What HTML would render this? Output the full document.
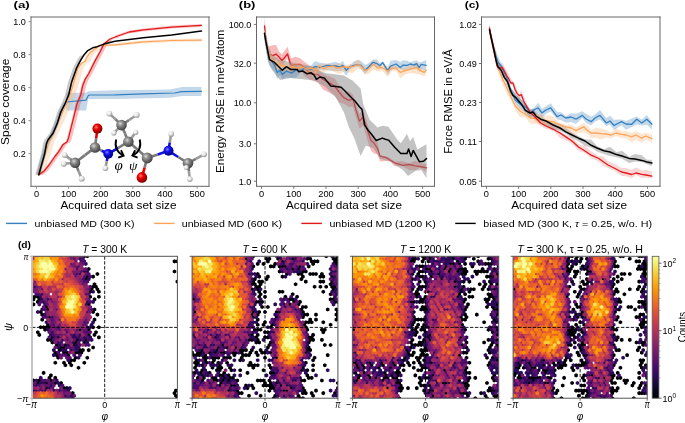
<!DOCTYPE html>
<html><head><meta charset="utf-8"><style>html,body{margin:0;padding:0;background:#fff;overflow:hidden}svg{display:block;will-change:transform}</style></head><body>
<svg width="685" height="423" viewBox="0 0 685 423" font-family='"Liberation Sans", sans-serif'>
<defs>
<radialGradient id="gC" cx="0.38" cy="0.35" r="0.7"><stop offset="0" stop-color="#d8d8d8"/><stop offset="0.35" stop-color="#8a8a8a"/><stop offset="1" stop-color="#3a3a3a"/></radialGradient>
<radialGradient id="gH" cx="0.38" cy="0.35" r="0.7"><stop offset="0" stop-color="#ffffff"/><stop offset="0.45" stop-color="#e6e6e6"/><stop offset="1" stop-color="#8c8c8c"/></radialGradient>
<radialGradient id="gO" cx="0.38" cy="0.35" r="0.7"><stop offset="0" stop-color="#ff8080"/><stop offset="0.35" stop-color="#ee0000"/><stop offset="1" stop-color="#700000"/></radialGradient>
<radialGradient id="gN" cx="0.38" cy="0.35" r="0.7"><stop offset="0" stop-color="#8080ff"/><stop offset="0.35" stop-color="#1010f0"/><stop offset="1" stop-color="#000070"/></radialGradient>
</defs>
<rect width="685" height="423" fill="#fff"/>
<line x1="31.0" y1="16.5" x2="31.0" y2="186.8" stroke="#6a6a6a" stroke-width="1"/>
<line x1="30.5" y1="17.0" x2="209.5" y2="17.0" stroke="#6a6a6a" stroke-width="1"/>
<line x1="209.0" y1="16.5" x2="209.0" y2="186.8" stroke="#6a6a6a" stroke-width="1"/>
<line x1="30.5" y1="186.3" x2="209.5" y2="186.3" stroke="#666" stroke-width="1"/>
<line x1="28.40" y1="153.65" x2="31.00" y2="153.65" stroke="#888" stroke-width="0.9"/>
<text x="25.90" y="156.95" font-size="8.5" text-anchor="end" textLength="12.60" lengthAdjust="spacingAndGlyphs" >0.2</text>
<line x1="28.40" y1="120.65" x2="31.00" y2="120.65" stroke="#888" stroke-width="0.9"/>
<text x="25.90" y="123.95" font-size="8.5" text-anchor="end" textLength="12.60" lengthAdjust="spacingAndGlyphs" >0.4</text>
<line x1="28.40" y1="87.65" x2="31.00" y2="87.65" stroke="#888" stroke-width="0.9"/>
<text x="25.90" y="90.95" font-size="8.5" text-anchor="end" textLength="12.60" lengthAdjust="spacingAndGlyphs" >0.6</text>
<line x1="28.40" y1="54.65" x2="31.00" y2="54.65" stroke="#888" stroke-width="0.9"/>
<text x="25.90" y="57.95" font-size="8.5" text-anchor="end" textLength="12.60" lengthAdjust="spacingAndGlyphs" >0.8</text>
<line x1="28.40" y1="21.65" x2="31.00" y2="21.65" stroke="#888" stroke-width="0.9"/>
<text x="25.90" y="24.95" font-size="8.5" text-anchor="end" textLength="12.60" lengthAdjust="spacingAndGlyphs" >1.0</text>
<line x1="36.50" y1="186.30" x2="36.50" y2="188.90" stroke="#888" stroke-width="0.9"/>
<text x="36.50" y="197.20" font-size="8.5" text-anchor="middle" textLength="5.15" lengthAdjust="spacingAndGlyphs" >0</text>
<line x1="68.63" y1="186.30" x2="68.63" y2="188.90" stroke="#888" stroke-width="0.9"/>
<text x="68.63" y="197.20" font-size="8.5" text-anchor="middle" textLength="15.45" lengthAdjust="spacingAndGlyphs" >100</text>
<line x1="100.76" y1="186.30" x2="100.76" y2="188.90" stroke="#888" stroke-width="0.9"/>
<text x="100.76" y="197.20" font-size="8.5" text-anchor="middle" textLength="15.45" lengthAdjust="spacingAndGlyphs" >200</text>
<line x1="132.89" y1="186.30" x2="132.89" y2="188.90" stroke="#888" stroke-width="0.9"/>
<text x="132.89" y="197.20" font-size="8.5" text-anchor="middle" textLength="15.45" lengthAdjust="spacingAndGlyphs" >300</text>
<line x1="165.02" y1="186.30" x2="165.02" y2="188.90" stroke="#888" stroke-width="0.9"/>
<text x="165.02" y="197.20" font-size="8.5" text-anchor="middle" textLength="15.45" lengthAdjust="spacingAndGlyphs" >400</text>
<line x1="197.15" y1="186.30" x2="197.15" y2="188.90" stroke="#888" stroke-width="0.9"/>
<text x="197.15" y="197.20" font-size="8.5" text-anchor="middle" textLength="15.45" lengthAdjust="spacingAndGlyphs" >500</text>
<text x="8.90" y="144.90" font-size="10.8" textLength="86.30" lengthAdjust="spacingAndGlyphs" transform="rotate(-90 8.90 144.90)" >Space coverage</text>
<text x="60.50" y="209.10" font-size="10.8" textLength="116.00" lengthAdjust="spacingAndGlyphs" >Acquired data set size</text>
<text x="13.60" y="7.80" font-size="9.6" textLength="16.20" lengthAdjust="spacingAndGlyphs" font-weight="bold" >(a)</text>
<polygon points="36.3,174.8 41.5,155.0 45.5,143.0 50.5,134.0 55.5,121.0 59.5,110.0 63.7,102.0 68.2,102.0 64.0,110.0 60.0,121.0 55.0,134.0 50.0,143.0 46.0,155.0 40.8,174.8" fill="#377eb8" fill-opacity="0.3"/>
<polygon points="66.2,92.7 86.1,92.7 88.2,91.3 115.0,90.3 170.0,89.5 182.0,87.0 201.5,87.0 201.5,96.0 182.0,96.0 170.0,97.7 115.0,99.1 88.2,99.1 86.1,110.5 66.2,110.5" fill="#377eb8" fill-opacity="0.3"/>
<polygon points="37.3,174.8 40.5,163.0 44.5,151.7 46.6,143.2 50.1,136.1 57.2,120.5 65.0,103.5 68.5,95.0 71.5,85.0 76.3,68.4 79.9,63.4 83.5,61.3 85.5,57.0 88.4,52.8 94.1,48.5 101.1,48.5 95.4,52.8 92.5,57.0 90.5,61.3 86.9,63.4 83.3,68.4 78.5,85.0 75.5,95.0 72.0,103.5 64.2,120.5 57.1,136.1 53.6,143.2 51.5,151.7 47.5,163.0 44.3,174.8" fill="#fdae6b" fill-opacity="0.3"/>
<polygon points="95.6,47.0 100.0,44.0 115.0,43.3 143.4,40.4 171.7,39.0 201.5,38.6 201.5,41.6 171.7,42.0 143.4,43.4 115.0,46.3 100.0,47.0 95.6,50.0" fill="#fdae6b" fill-opacity="0.3"/>
<polygon points="35.3,174.8 38.0,165.0 41.0,154.6 43.1,143.2 44.6,139.7 49.5,133.3 53.8,123.4 57.3,112.0 61.6,103.5 65.1,95.0 68.0,82.6 72.9,68.4 76.5,61.3 80.0,55.6 84.5,55.6 81.0,61.3 77.4,68.4 72.5,82.6 69.6,95.0 66.1,103.5 61.8,112.0 58.3,123.4 54.0,133.3 49.1,139.7 47.6,143.2 45.5,154.6 42.5,165.0 39.8,174.8" fill="#666" fill-opacity="0.35"/>
<polygon points="37.3,174.8 43.2,170.4 47.5,165.0 53.4,156.5 57.2,151.7 61.5,144.6 65.7,141.8 67.1,137.6 70.0,126.2 72.8,114.9 75.6,103.5 79.2,95.0 81.3,85.4 83.5,79.7 87.0,74.0 90.5,67.0 94.1,59.9 98.5,52.0 102.3,44.1 108.5,39.0 113.5,37.0 118.5,37.0 113.5,39.0 107.3,44.1 103.5,52.0 99.1,59.9 95.5,67.0 92.0,74.0 88.5,79.7 86.3,85.4 84.2,95.0 80.6,103.5 77.8,114.9 75.0,126.2 72.1,137.6 70.7,141.8 66.5,144.6 62.2,151.7 58.4,156.5 52.5,165.0 48.2,170.4 42.3,174.8" fill="#e31a1c" fill-opacity="0.28"/>
<polygon points="115.0,35.5 129.2,30.5 143.4,28.4 171.7,25.6 201.5,23.9 201.5,26.9 171.7,28.6 143.4,31.4 129.2,33.5 115.0,38.5" fill="#e31a1c" fill-opacity="0.25"/>
<path d="M38.80,174.80 L44.00,155.00 L48.00,143.00 L53.00,134.00 L58.00,121.00 L62.00,110.00 L66.20,102.00 L86.10,100.10 L88.20,95.80 L89.20,95.00 L115.00,94.90 L143.40,93.90 L174.50,93.00 L181.60,91.60 L201.50,91.30" fill="none" stroke="#3480c0" stroke-width="1.2" stroke-linejoin="round" stroke-linecap="round" />
<path d="M38.80,174.80 L42.00,163.00 L46.00,151.70 L48.10,143.20 L51.60,136.10 L58.70,120.50 L66.50,103.50 L70.00,95.00 L73.00,85.00 L77.80,68.40 L81.40,63.40 L85.00,61.30 L87.00,57.00 L89.90,52.80 L95.60,48.50 L100.00,45.50 L115.00,44.80 L143.40,41.90 L171.70,40.50 L201.50,40.10" fill="none" stroke="#fda45c" stroke-width="1.2" stroke-linejoin="round" stroke-linecap="round" />
<path d="M38.80,174.80 L44.70,170.40 L49.00,165.00 L54.90,156.50 L58.70,151.70 L63.00,144.60 L67.20,141.80 L68.60,137.60 L71.50,126.20 L74.30,114.90 L77.10,103.50 L80.70,95.00 L82.80,85.40 L85.00,79.70 L88.50,74.00 L92.00,67.00 L95.60,59.90 L100.00,52.00 L103.80,44.10 L110.00,39.00 L115.00,37.00 L129.20,32.00 L143.40,29.90 L171.70,27.10 L201.50,25.40" fill="none" stroke="#e31a1c" stroke-width="1.3" stroke-linejoin="round" stroke-linecap="round" />
<path d="M38.80,174.80 L41.50,165.00 L44.50,154.60 L46.60,143.20 L48.10,139.70 L53.00,133.30 L57.30,123.40 L60.80,112.00 L65.10,103.50 L68.60,95.00 L71.50,82.60 L76.40,68.40 L80.00,61.30 L83.50,55.60 L87.80,50.60 L92.70,47.80 L96.00,47.10 L103.80,44.10 L115.00,41.20 L143.40,37.70 L171.70,34.90 L201.50,31.00" fill="none" stroke="#000" stroke-width="1.5" stroke-linejoin="round" stroke-linecap="round" />
<line x1="75.1" y1="162.7" x2="69.9" y2="158.9" stroke="#7a7a7a" stroke-width="2.6"/>
<line x1="69.9" y1="158.9" x2="64.7" y2="155.1" stroke="#9a9a9a" stroke-width="2.6"/>
<line x1="75.1" y1="162.7" x2="69.4" y2="163.2" stroke="#7a7a7a" stroke-width="2.6"/>
<line x1="69.4" y1="163.2" x2="63.8" y2="163.8" stroke="#9a9a9a" stroke-width="2.6"/>
<line x1="75.1" y1="162.7" x2="78.4" y2="170.7" stroke="#7a7a7a" stroke-width="2.6"/>
<line x1="78.4" y1="170.7" x2="81.7" y2="178.7" stroke="#9a9a9a" stroke-width="2.6"/>
<line x1="75.1" y1="162.7" x2="85.0" y2="155.1" stroke="#7a7a7a" stroke-width="2.6"/>
<line x1="85.0" y1="155.1" x2="95.0" y2="147.5" stroke="#7a7a7a" stroke-width="2.6"/>
<line x1="95.0" y1="147.5" x2="96.2" y2="138.1" stroke="#7a7a7a" stroke-width="2.6"/>
<line x1="96.2" y1="138.1" x2="97.4" y2="128.6" stroke="#e00000" stroke-width="2.6"/>
<line x1="95.0" y1="147.5" x2="101.6" y2="150.7" stroke="#7a7a7a" stroke-width="2.6"/>
<line x1="101.6" y1="150.7" x2="108.2" y2="153.8" stroke="#1010e0" stroke-width="2.6"/>
<line x1="108.2" y1="153.8" x2="106.8" y2="161.1" stroke="#1010e0" stroke-width="2.6"/>
<line x1="106.8" y1="161.1" x2="105.4" y2="168.3" stroke="#9a9a9a" stroke-width="2.6"/>
<line x1="108.2" y1="153.8" x2="118.3" y2="147.8" stroke="#1010e0" stroke-width="2.6"/>
<line x1="118.3" y1="147.8" x2="128.4" y2="141.7" stroke="#7a7a7a" stroke-width="2.6"/>
<line x1="128.4" y1="141.7" x2="132.1" y2="137.1" stroke="#7a7a7a" stroke-width="2.6"/>
<line x1="132.1" y1="137.1" x2="135.7" y2="132.4" stroke="#9a9a9a" stroke-width="2.6"/>
<line x1="128.4" y1="141.7" x2="125.0" y2="133.4" stroke="#7a7a7a" stroke-width="2.6"/>
<line x1="125.0" y1="133.4" x2="121.5" y2="125.1" stroke="#7a7a7a" stroke-width="2.6"/>
<line x1="121.5" y1="125.1" x2="115.5" y2="119.3" stroke="#7a7a7a" stroke-width="2.6"/>
<line x1="115.5" y1="119.3" x2="109.4" y2="113.6" stroke="#9a9a9a" stroke-width="2.6"/>
<line x1="121.5" y1="125.1" x2="129.1" y2="120.0" stroke="#7a7a7a" stroke-width="2.6"/>
<line x1="129.1" y1="120.0" x2="136.6" y2="115.0" stroke="#9a9a9a" stroke-width="2.6"/>
<line x1="121.5" y1="125.1" x2="117.7" y2="129.1" stroke="#7a7a7a" stroke-width="2.6"/>
<line x1="117.7" y1="129.1" x2="113.9" y2="133.0" stroke="#9a9a9a" stroke-width="2.6"/>
<line x1="128.4" y1="141.7" x2="137.8" y2="149.8" stroke="#7a7a7a" stroke-width="2.6"/>
<line x1="137.8" y1="149.8" x2="147.2" y2="157.9" stroke="#7a7a7a" stroke-width="2.6"/>
<line x1="147.2" y1="157.9" x2="144.6" y2="167.7" stroke="#7a7a7a" stroke-width="2.6"/>
<line x1="144.6" y1="167.7" x2="141.9" y2="177.4" stroke="#e00000" stroke-width="2.6"/>
<line x1="147.2" y1="157.9" x2="157.8" y2="154.4" stroke="#7a7a7a" stroke-width="2.6"/>
<line x1="157.8" y1="154.4" x2="168.5" y2="150.8" stroke="#1010e0" stroke-width="2.6"/>
<line x1="168.5" y1="150.8" x2="169.8" y2="142.4" stroke="#1010e0" stroke-width="2.6"/>
<line x1="169.8" y1="142.4" x2="171.2" y2="133.9" stroke="#9a9a9a" stroke-width="2.6"/>
<line x1="168.5" y1="150.8" x2="178.2" y2="157.0" stroke="#1010e0" stroke-width="2.6"/>
<line x1="178.2" y1="157.0" x2="188.0" y2="163.2" stroke="#7a7a7a" stroke-width="2.6"/>
<line x1="188.0" y1="163.2" x2="196.0" y2="158.8" stroke="#7a7a7a" stroke-width="2.6"/>
<line x1="196.0" y1="158.8" x2="204.0" y2="154.3" stroke="#9a9a9a" stroke-width="2.6"/>
<line x1="188.0" y1="163.2" x2="187.1" y2="165.4" stroke="#7a7a7a" stroke-width="2.6"/>
<line x1="187.1" y1="165.4" x2="186.2" y2="167.6" stroke="#9a9a9a" stroke-width="2.6"/>
<line x1="188.0" y1="163.2" x2="188.9" y2="171.1" stroke="#7a7a7a" stroke-width="2.6"/>
<line x1="188.9" y1="171.1" x2="189.8" y2="179.1" stroke="#9a9a9a" stroke-width="2.6"/>
<circle cx="113.9" cy="133.0" r="2.6" fill="url(#gH)"/>
<circle cx="109.4" cy="113.6" r="2.9" fill="url(#gH)"/>
<circle cx="136.6" cy="115.0" r="3.0" fill="url(#gH)"/>
<circle cx="121.5" cy="125.1" r="5.3" fill="url(#gC)"/>
<circle cx="135.7" cy="132.4" r="2.6" fill="url(#gH)"/>
<circle cx="128.4" cy="141.7" r="5.3" fill="url(#gC)"/>
<circle cx="64.7" cy="155.1" r="2.9" fill="url(#gH)"/>
<circle cx="63.8" cy="163.8" r="2.9" fill="url(#gH)"/>
<circle cx="75.1" cy="162.7" r="5.2" fill="url(#gC)"/>
<circle cx="81.7" cy="178.7" r="2.9" fill="url(#gH)"/>
<circle cx="97.4" cy="128.6" r="5.0" fill="url(#gO)"/>
<circle cx="95.0" cy="147.5" r="5.3" fill="url(#gC)"/>
<circle cx="105.4" cy="168.3" r="2.8" fill="url(#gH)"/>
<circle cx="108.2" cy="153.8" r="4.9" fill="url(#gN)"/>
<circle cx="171.2" cy="133.9" r="2.8" fill="url(#gH)"/>
<circle cx="168.5" cy="150.8" r="5.0" fill="url(#gN)"/>
<circle cx="147.2" cy="157.9" r="5.5" fill="url(#gC)"/>
<circle cx="141.9" cy="177.4" r="5.3" fill="url(#gO)"/>
<circle cx="204.0" cy="154.3" r="2.9" fill="url(#gH)"/>
<circle cx="188.0" cy="163.2" r="5.3" fill="url(#gC)"/>
<circle cx="186.2" cy="167.6" r="2.5" fill="url(#gH)"/>
<circle cx="189.8" cy="179.1" r="2.9" fill="url(#gH)"/>
<path d="M116.2,139.6 C114.6,146 116.5,152 123.2,155.6" fill="none" stroke="#000" stroke-width="1.9"/>
<path d="M121.0,150.2 L123.6,155.6 L118.2,157.6" fill="none" stroke="#000" stroke-width="1.9" stroke-linejoin="miter"/>
<path d="M139.7,139.6 C141.3,146 139.4,152 132.8,155.6" fill="none" stroke="#000" stroke-width="1.9"/>
<path d="M135.2,150.2 L132.4,155.6 L137.6,157.6" fill="none" stroke="#000" stroke-width="1.9" stroke-linejoin="miter"/>
<text x="118.60" y="169.60" font-size="15" text-anchor="middle" font-style="italic" font-family='"Liberation Serif", serif' >φ</text>
<text x="133.10" y="169.60" font-size="13.5" text-anchor="middle" font-style="italic" font-family='"Liberation Serif", serif' >ψ</text>
<line x1="256.5" y1="16.5" x2="256.5" y2="186.8" stroke="#666" stroke-width="1"/>
<line x1="256.0" y1="17.0" x2="435.0" y2="17.0" stroke="#666" stroke-width="1"/>
<line x1="434.5" y1="16.5" x2="434.5" y2="186.8" stroke="#666" stroke-width="1"/>
<line x1="256.0" y1="186.3" x2="435.0" y2="186.3" stroke="#666" stroke-width="1"/>
<line x1="253.90" y1="24.40" x2="256.50" y2="24.40" stroke="#666" stroke-width="0.9"/>
<text x="251.40" y="27.70" font-size="8.5" text-anchor="end" textLength="22.60" lengthAdjust="spacingAndGlyphs" >100.0</text>
<line x1="253.90" y1="63.20" x2="256.50" y2="63.20" stroke="#666" stroke-width="0.9"/>
<text x="251.40" y="66.50" font-size="8.5" text-anchor="end" textLength="17.60" lengthAdjust="spacingAndGlyphs" >32.0</text>
<line x1="253.90" y1="102.80" x2="256.50" y2="102.80" stroke="#666" stroke-width="0.9"/>
<text x="251.40" y="106.10" font-size="8.5" text-anchor="end" textLength="17.60" lengthAdjust="spacingAndGlyphs" >10.0</text>
<line x1="253.90" y1="143.80" x2="256.50" y2="143.80" stroke="#666" stroke-width="0.9"/>
<text x="251.40" y="147.10" font-size="8.5" text-anchor="end" textLength="12.60" lengthAdjust="spacingAndGlyphs" >3.0</text>
<line x1="253.90" y1="181.20" x2="256.50" y2="181.20" stroke="#666" stroke-width="0.9"/>
<text x="251.40" y="184.50" font-size="8.5" text-anchor="end" textLength="12.60" lengthAdjust="spacingAndGlyphs" >1.0</text>
<line x1="261.60" y1="186.30" x2="261.60" y2="188.90" stroke="#666" stroke-width="0.9"/>
<text x="261.60" y="197.20" font-size="8.5" text-anchor="middle" textLength="5.15" lengthAdjust="spacingAndGlyphs" >0</text>
<line x1="293.80" y1="186.30" x2="293.80" y2="188.90" stroke="#666" stroke-width="0.9"/>
<text x="293.80" y="197.20" font-size="8.5" text-anchor="middle" textLength="15.45" lengthAdjust="spacingAndGlyphs" >100</text>
<line x1="326.00" y1="186.30" x2="326.00" y2="188.90" stroke="#666" stroke-width="0.9"/>
<text x="326.00" y="197.20" font-size="8.5" text-anchor="middle" textLength="15.45" lengthAdjust="spacingAndGlyphs" >200</text>
<line x1="358.20" y1="186.30" x2="358.20" y2="188.90" stroke="#666" stroke-width="0.9"/>
<text x="358.20" y="197.20" font-size="8.5" text-anchor="middle" textLength="15.45" lengthAdjust="spacingAndGlyphs" >300</text>
<line x1="390.40" y1="186.30" x2="390.40" y2="188.90" stroke="#666" stroke-width="0.9"/>
<text x="390.40" y="197.20" font-size="8.5" text-anchor="middle" textLength="15.45" lengthAdjust="spacingAndGlyphs" >400</text>
<line x1="422.60" y1="186.30" x2="422.60" y2="188.90" stroke="#666" stroke-width="0.9"/>
<text x="422.60" y="197.20" font-size="8.5" text-anchor="middle" textLength="15.45" lengthAdjust="spacingAndGlyphs" >500</text>
<text x="224.20" y="173.00" font-size="10.8" textLength="143.20" lengthAdjust="spacingAndGlyphs" transform="rotate(-90 224.20 173.00)" >Energy RMSE in meV/atom</text>
<text x="286.00" y="209.10" font-size="10.8" textLength="116.00" lengthAdjust="spacingAndGlyphs" >Acquired data set size</text>
<text x="238.80" y="7.80" font-size="9.6" textLength="16.60" lengthAdjust="spacingAndGlyphs" font-weight="bold" >(b)</text>
<polygon points="264.5,16.7 266.5,36.3 268.5,46.6 273.0,45.2 276.0,44.8 279.0,51.5 282.0,54.3 287.5,46.7 291.0,58.2 296.0,56.8 300.0,58.3 305.0,62.3 310.0,65.8 318.0,69.4 323.0,73.6 328.0,76.1 334.7,78.5 339.0,84.7 343.8,92.6 349.0,91.5 352.9,94.3 356.0,103.6 359.4,114.0 363.2,109.4 367.0,122.4 371.0,134.4 374.0,137.8 377.5,142.2 380.1,154.9 386.4,156.6 390.0,158.1 394.7,161.5 402.9,161.3 409.0,163.3 415.2,160.7 420.0,163.1 426.5,163.9 426.5,172.2 420.0,167.8 415.2,170.3 409.0,169.9 402.9,166.2 394.7,166.2 390.0,161.6 386.4,160.9 380.1,161.4 377.5,154.6 374.0,153.5 371.0,150.6 367.0,139.0 363.2,125.5 359.4,128.4 356.0,117.0 352.9,106.7 349.0,106.9 343.8,103.7 339.0,102.2 334.7,95.5 328.0,92.1 323.0,89.4 318.0,82.5 310.0,79.5 305.0,76.5 300.0,70.2 296.0,71.9 291.0,73.3 287.5,58.3 282.0,66.5 279.0,62.9 276.0,58.7 273.0,63.3 268.5,57.8 266.5,51.5 264.5,32.2" fill="#e31a1c" fill-opacity="0.3"/>
<path d="M264.50,26.00 L266.50,45.00 L268.50,54.00 L273.00,55.60 L276.00,54.00 L279.00,57.00 L282.00,60.60 L287.50,54.00 L291.00,65.50 L296.00,64.70 L300.00,64.40 L305.00,68.00 L310.00,73.80 L318.00,74.60 L323.00,79.50 L328.00,82.00 L334.70,86.00 L339.00,92.00 L343.80,97.70 L349.00,100.30 L352.90,99.00 L356.00,110.00 L359.40,121.00 L363.20,117.10 L367.00,129.00 L371.00,140.50 L374.00,143.00 L377.50,148.30 L380.10,156.10 L386.40,157.60 L390.00,160.00 L394.70,162.80 L402.90,165.40 L409.00,164.50 L415.20,165.80 L420.00,166.50 L426.50,167.90" fill="none" stroke="#e31a1c" stroke-width="1.3" stroke-linejoin="round" stroke-linecap="round" />
<polygon points="264.5,26.0 268.0,45.0 272.0,55.0 280.0,60.0 290.0,62.0 300.0,64.0 310.0,66.0 318.0,70.0 325.6,73.0 343.8,75.6 352.9,80.8 360.6,88.6 363.2,104.2 369.7,119.7 377.5,127.5 382.3,125.7 388.5,126.7 396.7,139.1 400.8,143.2 407.0,134.0 410.0,141.2 413.2,137.0 417.3,149.4 426.5,144.2 426.5,178.2 421.4,170.0 415.2,171.0 408.0,176.1 402.9,170.0 390.0,161.3 380.1,158.7 373.6,148.3 365.8,145.7 360.6,156.1 354.2,138.0 349.0,127.5 343.8,112.0 336.0,97.7 325.6,87.0 315.2,81.0 310.0,80.0 300.0,79.0 290.0,78.0 280.0,80.0 272.0,70.0 268.0,62.0 264.5,40.0" fill="#888" fill-opacity="0.5"/>
<polygon points="264.5,29.8 267.0,45.2 269.5,55.0 274.5,59.4 277.3,70.2 280.1,67.8 282.3,70.4 286.5,67.2 291.5,67.2 296.0,65.1 300.0,68.6 305.0,65.7 310.0,66.5 315.0,61.0 320.0,62.8 327.0,63.7 335.5,61.7 340.0,63.5 342.8,60.7 346.3,67.6 349.8,64.9 354.0,61.3 358.2,59.8 361.0,61.1 365.2,64.8 368.0,63.4 372.9,60.1 376.4,59.1 379.9,63.0 382.7,61.0 387.7,68.2 390.5,60.7 396.1,60.0 400.3,62.0 403.1,60.3 407.3,60.7 410.1,62.2 414.3,61.0 416.4,60.2 419.2,62.4 421.3,62.0 426.2,60.0 426.2,70.7 421.3,69.2 419.2,72.0 416.4,68.2 414.3,68.0 410.1,69.3 407.3,69.9 403.1,70.4 400.3,69.2 396.1,67.8 390.5,70.8 387.7,75.6 382.7,64.2 379.9,67.4 376.4,66.7 372.9,65.7 368.0,70.2 365.2,74.5 361.0,69.3 358.2,66.5 354.0,67.6 349.8,69.5 346.3,75.7 342.8,70.7 340.0,71.0 335.5,71.3 327.0,70.3 320.0,69.9 315.0,71.5 310.0,71.5 305.0,70.1 300.0,73.1 296.0,77.7 291.5,78.0 286.5,77.3 282.3,79.5 280.1,74.7 277.3,79.0 274.5,71.2 269.5,65.7 267.0,55.8 264.5,40.3" fill="#377eb8" fill-opacity="0.3"/>
<polygon points="264.5,28.7 267.0,42.4 270.0,52.5 276.0,59.4 280.0,61.0 284.4,61.6 288.0,65.4 292.9,63.4 297.0,63.3 302.0,64.7 307.0,66.7 312.8,66.0 315.6,65.9 319.2,63.7 324.1,63.7 328.4,63.7 332.7,64.3 336.9,63.4 340.0,63.4 344.2,64.9 348.4,64.6 352.6,64.2 358.2,59.3 361.0,63.0 365.2,67.2 368.0,67.6 373.6,59.0 377.8,63.9 382.0,63.9 387.7,66.3 391.9,65.5 396.1,65.8 400.3,68.2 405.9,67.3 411.5,64.9 417.1,62.5 419.9,65.0 424.1,69.9 426.2,68.7 426.2,73.8 424.1,76.5 419.9,74.5 417.1,74.0 411.5,73.0 405.9,74.0 400.3,78.5 396.1,70.8 391.9,70.8 387.7,77.0 382.0,70.6 377.8,71.5 373.6,69.2 368.0,74.2 365.2,73.2 361.0,69.8 358.2,68.6 352.6,72.9 348.4,72.8 344.2,71.4 340.0,73.7 336.9,73.2 332.7,70.9 328.4,70.4 324.1,72.1 319.2,70.3 315.6,76.7 312.8,71.9 307.0,74.2 302.0,70.6 297.0,72.7 292.9,71.9 288.0,72.2 284.4,71.7 280.0,70.6 276.0,68.5 270.0,63.2 267.0,49.5 264.5,36.8" fill="#fdae6b" fill-opacity="0.35"/>
<path d="M264.50,33.30 L267.00,48.00 L269.50,58.00 L274.50,65.30 L277.30,72.40 L280.10,70.20 L282.30,74.50 L286.50,71.00 L291.50,73.10 L296.00,70.00 L300.00,71.00 L305.00,68.00 L310.00,69.50 L315.00,66.50 L320.00,67.50 L327.00,65.30 L335.50,66.00 L340.00,66.80 L342.80,65.40 L346.30,70.30 L349.80,66.80 L354.00,65.40 L358.20,64.70 L361.00,65.40 L365.20,70.30 L368.00,67.50 L372.90,62.30 L376.40,63.30 L379.90,65.70 L382.70,62.60 L387.70,70.70 L390.50,66.10 L396.10,64.00 L400.30,67.50 L403.10,65.10 L407.30,65.40 L410.10,64.00 L414.30,65.10 L416.40,63.60 L419.20,67.50 L421.30,64.30 L426.20,65.40" fill="none" stroke="#3480c0" stroke-width="1.3" stroke-linejoin="round" stroke-linecap="round" />
<path d="M264.50,31.00 L267.00,46.00 L270.00,58.00 L276.00,63.00 L280.00,65.00 L284.40,66.00 L288.00,68.00 L292.90,66.70 L297.00,68.00 L302.00,67.00 L307.00,69.00 L312.80,68.10 L315.60,71.00 L319.20,66.00 L324.10,68.80 L328.40,66.70 L332.70,66.00 L336.90,68.10 L340.00,67.50 L344.20,66.80 L348.40,67.50 L352.60,66.50 L358.20,64.70 L361.00,66.10 L365.20,70.30 L368.00,69.60 L373.60,64.00 L377.80,68.20 L382.00,67.50 L387.70,71.00 L391.90,68.20 L396.10,68.20 L400.30,72.40 L405.90,70.30 L411.50,68.90 L417.10,67.50 L419.90,70.30 L424.10,72.40 L426.20,70.30" fill="none" stroke="#fda45c" stroke-width="1.3" stroke-linejoin="round" stroke-linecap="round" />
<path d="M264.50,33.30 L266.00,42.00 L268.10,52.50 L269.50,59.60 L274.50,62.40 L278.00,66.00 L282.30,70.20 L286.50,66.70 L290.80,69.50 L297.20,69.50 L298.60,71.70 L302.80,71.00 L307.10,73.80 L311.20,72.80 L314.20,75.20 L316.40,79.40 L320.00,77.00 L324.30,78.10 L330.80,86.00 L336.00,86.50 L341.20,87.30 L346.00,92.00 L351.60,97.70 L355.00,101.00 L359.40,106.80 L362.00,109.40 L364.50,124.90 L368.00,130.00 L372.30,135.30 L376.20,140.50 L382.30,138.10 L385.30,139.20 L388.50,140.10 L394.70,147.30 L400.80,153.50 L407.00,153.50 L408.60,149.00 L411.10,156.60 L413.20,150.40 L419.30,161.70 L423.50,161.30 L426.50,158.60" fill="none" stroke="#000" stroke-width="1.5" stroke-linejoin="round" stroke-linecap="round" />
<line x1="481.5" y1="16.5" x2="481.5" y2="186.8" stroke="#666" stroke-width="1"/>
<line x1="481.0" y1="17.0" x2="660.5" y2="17.0" stroke="#666" stroke-width="1"/>
<line x1="660.0" y1="16.5" x2="660.0" y2="186.8" stroke="#666" stroke-width="1"/>
<line x1="481.0" y1="186.3" x2="660.5" y2="186.3" stroke="#666" stroke-width="1"/>
<line x1="478.90" y1="24.40" x2="481.50" y2="24.40" stroke="#666" stroke-width="0.9"/>
<text x="476.90" y="27.70" font-size="8.5" text-anchor="end" textLength="17.60" lengthAdjust="spacingAndGlyphs" >1.02</text>
<line x1="478.90" y1="63.50" x2="481.50" y2="63.50" stroke="#666" stroke-width="0.9"/>
<text x="476.90" y="66.80" font-size="8.5" text-anchor="end" textLength="17.60" lengthAdjust="spacingAndGlyphs" >0.49</text>
<line x1="478.90" y1="102.50" x2="481.50" y2="102.50" stroke="#666" stroke-width="0.9"/>
<text x="476.90" y="105.80" font-size="8.5" text-anchor="end" textLength="17.60" lengthAdjust="spacingAndGlyphs" >0.23</text>
<line x1="478.90" y1="141.50" x2="481.50" y2="141.50" stroke="#666" stroke-width="0.9"/>
<text x="476.90" y="144.80" font-size="8.5" text-anchor="end" textLength="17.60" lengthAdjust="spacingAndGlyphs" >0.11</text>
<line x1="478.90" y1="181.20" x2="481.50" y2="181.20" stroke="#666" stroke-width="0.9"/>
<text x="476.90" y="184.50" font-size="8.5" text-anchor="end" textLength="17.60" lengthAdjust="spacingAndGlyphs" >0.05</text>
<line x1="486.40" y1="186.30" x2="486.40" y2="188.90" stroke="#666" stroke-width="0.9"/>
<text x="486.40" y="197.20" font-size="8.5" text-anchor="middle" textLength="5.15" lengthAdjust="spacingAndGlyphs" >0</text>
<line x1="518.60" y1="186.30" x2="518.60" y2="188.90" stroke="#666" stroke-width="0.9"/>
<text x="518.60" y="197.20" font-size="8.5" text-anchor="middle" textLength="15.45" lengthAdjust="spacingAndGlyphs" >100</text>
<line x1="550.80" y1="186.30" x2="550.80" y2="188.90" stroke="#666" stroke-width="0.9"/>
<text x="550.80" y="197.20" font-size="8.5" text-anchor="middle" textLength="15.45" lengthAdjust="spacingAndGlyphs" >200</text>
<line x1="583.00" y1="186.30" x2="583.00" y2="188.90" stroke="#666" stroke-width="0.9"/>
<text x="583.00" y="197.20" font-size="8.5" text-anchor="middle" textLength="15.45" lengthAdjust="spacingAndGlyphs" >300</text>
<line x1="615.20" y1="186.30" x2="615.20" y2="188.90" stroke="#666" stroke-width="0.9"/>
<text x="615.20" y="197.20" font-size="8.5" text-anchor="middle" textLength="15.45" lengthAdjust="spacingAndGlyphs" >400</text>
<line x1="647.40" y1="186.30" x2="647.40" y2="188.90" stroke="#666" stroke-width="0.9"/>
<text x="647.40" y="197.20" font-size="8.5" text-anchor="middle" textLength="15.45" lengthAdjust="spacingAndGlyphs" >500</text>
<text x="451.70" y="153.80" font-size="10.8" textLength="104.60" lengthAdjust="spacingAndGlyphs" transform="rotate(-90 451.70 153.80)" >Force RMSE in eV/Å</text>
<text x="511.20" y="209.10" font-size="10.8" textLength="116.00" lengthAdjust="spacingAndGlyphs" >Acquired data set size</text>
<text x="464.70" y="7.80" font-size="9.6" textLength="14.60" lengthAdjust="spacingAndGlyphs" font-weight="bold" >(c)</text>
<polygon points="489.5,26.1 491.0,35.2 492.7,41.2 494.3,47.2 495.9,56.6 498.0,61.9 501.2,65.1 504.4,74.9 507.6,80.3 510.8,88.6 512.8,90.3 516.1,94.5 521.4,99.5 525.4,105.0 530.0,109.3 533.0,108.6 536.0,112.5 540.6,115.5 546.0,119.5 553.2,122.9 560.0,123.8 565.9,127.6 572.0,132.6 578.5,136.1 585.0,139.3 591.2,139.8 597.0,146.1 603.8,149.2 610.0,146.8 616.5,152.2 622.0,150.8 629.1,156.8 635.0,154.0 641.8,155.3 647.0,159.7 651.9,159.7 651.9,166.3 647.0,164.2 641.8,162.1 635.0,161.5 629.1,162.9 622.0,158.8 616.5,157.2 610.0,156.0 603.8,153.9 597.0,151.4 591.2,147.6 585.0,145.9 578.5,141.2 572.0,138.1 565.9,133.7 560.0,130.4 553.2,129.3 546.0,126.5 540.6,121.8 536.0,120.1 533.0,116.1 530.0,117.9 525.4,113.8 521.4,106.7 516.1,99.6 512.8,96.8 510.8,95.5 507.6,87.3 504.4,79.3 501.2,74.9 498.0,69.7 495.9,64.3 494.3,55.5 492.7,48.5 491.0,40.4 489.5,33.5" fill="#888" fill-opacity="0.45"/>
<polygon points="489.5,24.4 491.0,33.2 493.0,39.5 495.0,50.6 497.0,63.3 500.1,64.7 502.3,62.5 504.4,66.4 506.5,70.2 508.7,73.5 510.8,78.8 512.9,80.9 515.0,84.0 517.2,90.1 519.3,94.1 521.4,89.7 523.6,96.0 526.7,103.4 530.0,109.3 535.0,112.2 540.6,119.1 546.0,122.9 553.2,125.3 560.0,130.4 565.9,135.3 572.0,136.9 578.5,144.3 585.0,146.0 591.2,151.2 598.8,156.2 603.0,156.1 608.0,161.2 615.0,163.9 621.5,168.1 626.0,167.9 631.7,169.7 636.0,167.6 641.8,170.3 646.0,169.7 651.9,171.4 651.9,178.2 646.0,177.8 641.8,177.9 636.0,175.1 631.7,178.3 626.0,176.2 621.5,176.1 615.0,171.2 608.0,168.1 603.0,165.8 598.8,161.5 591.2,158.2 585.0,152.9 578.5,150.7 572.0,143.5 565.9,140.6 560.0,137.9 553.2,130.4 546.0,128.9 540.6,125.7 535.0,121.3 530.0,113.2 526.7,108.1 523.6,103.3 521.4,97.4 519.3,100.5 517.2,95.0 515.0,94.0 512.9,84.1 510.8,85.6 508.7,82.4 506.5,79.8 504.4,75.9 502.3,70.2 500.1,71.6 497.0,69.4 495.0,59.2 493.0,47.5 491.0,37.6 489.5,31.6" fill="#e31a1c" fill-opacity="0.18"/>
<polygon points="489.5,24.8 492.7,40.7 496.0,50.7 498.0,56.6 501.0,62.9 504.0,68.1 507.0,73.2 510.0,85.4 515.3,94.3 520.0,98.6 526.7,105.0 530.5,110.2 534.0,107.8 538.1,102.8 541.9,108.8 546.0,106.3 550.7,103.3 557.0,112.0 561.0,112.3 565.9,115.9 571.0,113.2 576.0,113.7 582.3,111.2 586.0,113.8 591.2,116.7 595.0,114.4 600.0,109.9 606.4,117.9 610.0,115.8 614.0,119.8 621.5,119.5 626.0,120.9 631.7,118.5 636.7,116.4 641.8,119.6 646.8,114.9 651.9,121.8 651.9,129.5 646.8,124.7 641.8,125.6 636.7,124.6 631.7,126.9 626.0,129.7 621.5,125.3 614.0,130.1 610.0,124.5 606.4,125.9 600.0,119.4 595.0,121.6 591.2,125.5 586.0,123.1 582.3,118.1 576.0,123.9 571.0,122.0 565.9,122.8 561.0,120.2 557.0,119.2 550.7,111.5 546.0,113.7 541.9,117.9 538.1,113.2 534.0,115.2 530.5,117.9 526.7,113.0 520.0,109.5 515.3,103.3 510.0,92.4 507.0,81.7 504.0,74.9 501.0,68.5 498.0,64.9 496.0,58.9 492.7,49.4 489.5,34.5" fill="#377eb8" fill-opacity="0.3"/>
<polygon points="489.5,24.2 492.7,42.6 496.0,55.1 499.0,66.9 503.0,75.2 507.0,83.6 511.0,91.5 515.3,103.6 520.0,106.0 525.0,110.5 530.5,114.2 540.0,113.7 545.0,115.5 553.2,116.0 558.0,121.9 565.9,124.8 571.0,124.4 576.0,127.3 583.6,123.2 588.0,125.7 591.2,130.6 596.0,127.8 601.3,128.5 606.0,130.0 611.4,132.4 616.0,128.1 621.5,131.4 626.0,131.1 631.7,132.8 636.0,131.1 641.8,134.1 646.0,132.4 651.9,134.6 651.9,142.6 646.0,139.4 641.8,142.9 636.0,139.8 631.7,142.6 626.0,138.4 621.5,137.9 616.0,136.1 611.4,138.5 606.0,137.4 601.3,139.8 596.0,137.8 591.2,138.2 588.0,134.4 583.6,132.3 576.0,134.0 571.0,134.5 565.9,131.6 558.0,128.6 553.2,125.5 545.0,125.3 540.0,124.6 530.5,123.7 525.0,117.6 520.0,117.2 515.3,110.4 511.0,100.9 507.0,94.1 503.0,85.7 499.0,75.6 496.0,64.0 492.7,52.8 489.5,35.6" fill="#fdae6b" fill-opacity="0.3"/>
<path d="M489.50,29.80 L492.70,44.00 L496.00,56.00 L498.00,62.00 L501.00,66.00 L504.00,72.00 L507.00,78.00 L510.00,88.00 L515.30,100.20 L520.00,104.00 L526.70,107.80 L530.50,112.90 L534.00,110.00 L538.10,107.80 L541.90,112.90 L546.00,110.00 L550.70,107.80 L557.00,116.70 L561.00,115.00 L565.90,118.00 L571.00,117.00 L576.00,119.20 L582.30,115.40 L586.00,119.00 L591.20,121.70 L595.00,118.00 L600.00,115.40 L606.40,123.00 L610.00,121.00 L614.00,125.50 L621.50,121.70 L626.00,124.00 L631.70,124.30 L636.70,119.20 L641.80,123.00 L646.80,119.20 L651.90,124.30" fill="none" stroke="#3480c0" stroke-width="1.3" stroke-linejoin="round" stroke-linecap="round" />
<path d="M489.50,29.80 L492.70,46.00 L496.00,60.00 L499.00,70.00 L503.00,80.00 L507.00,88.00 L511.00,97.00 L515.30,106.00 L520.00,111.00 L525.00,114.00 L530.50,118.00 L540.00,119.00 L545.00,121.00 L553.20,121.70 L558.00,124.00 L565.90,126.80 L571.00,128.00 L576.00,130.60 L583.60,126.80 L588.00,131.00 L591.20,133.10 L596.00,133.00 L601.30,133.60 L606.00,134.00 L611.40,135.10 L616.00,133.00 L621.50,134.40 L626.00,135.00 L631.70,136.90 L636.00,135.00 L641.80,138.20 L646.00,136.00 L651.90,138.70" fill="none" stroke="#fda45c" stroke-width="1.3" stroke-linejoin="round" stroke-linecap="round" />
<path d="M489.50,28.00 L491.00,36.00 L493.00,45.00 L495.00,55.00 L497.00,66.00 L500.10,68.00 L502.30,67.40 L504.40,71.30 L506.50,75.50 L508.70,78.70 L510.80,83.00 L512.90,83.00 L515.00,89.30 L517.20,93.60 L519.30,95.70 L521.40,94.70 L523.60,101.00 L526.70,106.40 L530.00,112.00 L535.00,117.00 L540.60,123.00 L546.00,126.00 L553.20,129.30 L560.00,133.00 L565.90,136.90 L572.00,141.00 L578.50,147.00 L585.00,151.00 L591.20,155.20 L598.80,158.50 L603.00,161.50 L608.00,165.00 L615.00,168.50 L621.50,172.00 L626.00,173.00 L631.70,174.50 L636.00,173.00 L641.80,174.40 L646.00,175.00 L651.90,176.10" fill="none" stroke="#e31a1c" stroke-width="1.3" stroke-linejoin="round" stroke-linecap="round" />
<path d="M489.50,29.80 L491.00,37.00 L492.70,44.70 L494.30,52.00 L495.90,59.60 L498.00,67.00 L501.20,70.20 L504.40,77.60 L507.60,81.90 L510.80,91.50 L512.80,95.20 L516.10,97.90 L521.40,104.20 L525.40,110.40 L530.00,113.00 L533.00,112.00 L536.00,116.00 L540.60,119.20 L546.00,121.00 L553.20,125.00 L560.00,128.00 L565.90,131.90 L572.00,135.00 L578.50,138.20 L585.00,141.00 L591.20,145.30 L597.00,148.00 L603.80,150.80 L610.00,152.00 L616.50,154.60 L622.00,156.00 L629.10,158.40 L635.00,159.00 L641.80,160.40 L647.00,162.00 L651.90,163.00" fill="none" stroke="#000" stroke-width="1.5" stroke-linejoin="round" stroke-linecap="round" />
<line x1="6.1" y1="223.4" x2="27.0" y2="223.4" stroke="#3480c0" stroke-width="1.4"/>
<text x="34.60" y="226.60" font-size="9.5" textLength="100.00" lengthAdjust="spacingAndGlyphs" >unbiased MD (300 K)</text>
<line x1="154.0" y1="223.4" x2="174.5" y2="223.4" stroke="#fda45c" stroke-width="1.4"/>
<text x="181.80" y="226.60" font-size="9.5" textLength="100.20" lengthAdjust="spacingAndGlyphs" >unbiased MD (600 K)</text>
<line x1="301.3" y1="223.4" x2="321.9" y2="223.4" stroke="#e31a1c" stroke-width="1.4"/>
<text x="329.40" y="226.60" font-size="9.5" textLength="106.50" lengthAdjust="spacingAndGlyphs" >unbiased MD (1200 K)</text>
<line x1="455.2" y1="223.4" x2="475.7" y2="223.4" stroke="#000" stroke-width="1.4"/>
<text x="483.20" y="226.60" font-size="9.5" textLength="168.90" lengthAdjust="spacingAndGlyphs" >biased MD (300 K, <tspan font-style="italic">τ</tspan> = 0.25, w/o. H)</text>
<text x="17.90" y="248.30" font-size="8.9" textLength="13.00" lengthAdjust="spacingAndGlyphs" font-weight="bold" >(d)</text>
<defs>
<marker id="m0" markerUnits="userSpaceOnUse" markerWidth="6" markerHeight="6" refX="3" refY="3" overflow="visible"><path d="M1.19,1.95L3,0.96L4.80,1.95V4.05L3,5.04L1.19,4.05Z" fill="#000004"/></marker>
<marker id="m1" markerUnits="userSpaceOnUse" markerWidth="6" markerHeight="6" refX="3" refY="3" overflow="visible"><path d="M1.19,1.95L3,0.96L4.80,1.95V4.05L3,5.04L1.19,4.05Z" fill="#02020e"/></marker>
<marker id="m2" markerUnits="userSpaceOnUse" markerWidth="6" markerHeight="6" refX="3" refY="3" overflow="visible"><path d="M1.19,1.95L3,0.96L4.80,1.95V4.05L3,5.04L1.19,4.05Z" fill="#07051b"/></marker>
<marker id="m3" markerUnits="userSpaceOnUse" markerWidth="6" markerHeight="6" refX="3" refY="3" overflow="visible"><path d="M1.19,1.95L3,0.96L4.80,1.95V4.05L3,5.04L1.19,4.05Z" fill="#0e092b"/></marker>
<marker id="m4" markerUnits="userSpaceOnUse" markerWidth="6" markerHeight="6" refX="3" refY="3" overflow="visible"><path d="M1.19,1.95L3,0.96L4.80,1.95V4.05L3,5.04L1.19,4.05Z" fill="#160b39"/></marker>
<marker id="m5" markerUnits="userSpaceOnUse" markerWidth="6" markerHeight="6" refX="3" refY="3" overflow="visible"><path d="M1.19,1.95L3,0.96L4.80,1.95V4.05L3,5.04L1.19,4.05Z" fill="#210c4a"/></marker>
<marker id="m6" markerUnits="userSpaceOnUse" markerWidth="6" markerHeight="6" refX="3" refY="3" overflow="visible"><path d="M1.19,1.95L3,0.96L4.80,1.95V4.05L3,5.04L1.19,4.05Z" fill="#2b0b57"/></marker>
<marker id="m7" markerUnits="userSpaceOnUse" markerWidth="6" markerHeight="6" refX="3" refY="3" overflow="visible"><path d="M1.19,1.95L3,0.96L4.80,1.95V4.05L3,5.04L1.19,4.05Z" fill="#360961"/></marker>
<marker id="m8" markerUnits="userSpaceOnUse" markerWidth="6" markerHeight="6" refX="3" refY="3" overflow="visible"><path d="M1.19,1.95L3,0.96L4.80,1.95V4.05L3,5.04L1.19,4.05Z" fill="#420a68"/></marker>
<marker id="m9" markerUnits="userSpaceOnUse" markerWidth="6" markerHeight="6" refX="3" refY="3" overflow="visible"><path d="M1.19,1.95L3,0.96L4.80,1.95V4.05L3,5.04L1.19,4.05Z" fill="#4c0c6b"/></marker>
<marker id="m10" markerUnits="userSpaceOnUse" markerWidth="6" markerHeight="6" refX="3" refY="3" overflow="visible"><path d="M1.19,1.95L3,0.96L4.80,1.95V4.05L3,5.04L1.19,4.05Z" fill="#57106e"/></marker>
<marker id="m11" markerUnits="userSpaceOnUse" markerWidth="6" markerHeight="6" refX="3" refY="3" overflow="visible"><path d="M1.19,1.95L3,0.96L4.80,1.95V4.05L3,5.04L1.19,4.05Z" fill="#61136e"/></marker>
<marker id="m12" markerUnits="userSpaceOnUse" markerWidth="6" markerHeight="6" refX="3" refY="3" overflow="visible"><path d="M1.19,1.95L3,0.96L4.80,1.95V4.05L3,5.04L1.19,4.05Z" fill="#6a176e"/></marker>
<marker id="m13" markerUnits="userSpaceOnUse" markerWidth="6" markerHeight="6" refX="3" refY="3" overflow="visible"><path d="M1.19,1.95L3,0.96L4.80,1.95V4.05L3,5.04L1.19,4.05Z" fill="#751b6e"/></marker>
<marker id="m14" markerUnits="userSpaceOnUse" markerWidth="6" markerHeight="6" refX="3" refY="3" overflow="visible"><path d="M1.19,1.95L3,0.96L4.80,1.95V4.05L3,5.04L1.19,4.05Z" fill="#7f1e6c"/></marker>
<marker id="m15" markerUnits="userSpaceOnUse" markerWidth="6" markerHeight="6" refX="3" refY="3" overflow="visible"><path d="M1.19,1.95L3,0.96L4.80,1.95V4.05L3,5.04L1.19,4.05Z" fill="#8a226a"/></marker>
<marker id="m16" markerUnits="userSpaceOnUse" markerWidth="6" markerHeight="6" refX="3" refY="3" overflow="visible"><path d="M1.19,1.95L3,0.96L4.80,1.95V4.05L3,5.04L1.19,4.05Z" fill="#932667"/></marker>
<marker id="m17" markerUnits="userSpaceOnUse" markerWidth="6" markerHeight="6" refX="3" refY="3" overflow="visible"><path d="M1.19,1.95L3,0.96L4.80,1.95V4.05L3,5.04L1.19,4.05Z" fill="#9d2964"/></marker>
<marker id="m18" markerUnits="userSpaceOnUse" markerWidth="6" markerHeight="6" refX="3" refY="3" overflow="visible"><path d="M1.19,1.95L3,0.96L4.80,1.95V4.05L3,5.04L1.19,4.05Z" fill="#a82e5f"/></marker>
<marker id="m19" markerUnits="userSpaceOnUse" markerWidth="6" markerHeight="6" refX="3" refY="3" overflow="visible"><path d="M1.19,1.95L3,0.96L4.80,1.95V4.05L3,5.04L1.19,4.05Z" fill="#b1325a"/></marker>
<marker id="m20" markerUnits="userSpaceOnUse" markerWidth="6" markerHeight="6" refX="3" refY="3" overflow="visible"><path d="M1.19,1.95L3,0.96L4.80,1.95V4.05L3,5.04L1.19,4.05Z" fill="#bc3754"/></marker>
<marker id="m21" markerUnits="userSpaceOnUse" markerWidth="6" markerHeight="6" refX="3" refY="3" overflow="visible"><path d="M1.19,1.95L3,0.96L4.80,1.95V4.05L3,5.04L1.19,4.05Z" fill="#c43c4e"/></marker>
<marker id="m22" markerUnits="userSpaceOnUse" markerWidth="6" markerHeight="6" refX="3" refY="3" overflow="visible"><path d="M1.19,1.95L3,0.96L4.80,1.95V4.05L3,5.04L1.19,4.05Z" fill="#cc4248"/></marker>
<marker id="m23" markerUnits="userSpaceOnUse" markerWidth="6" markerHeight="6" refX="3" refY="3" overflow="visible"><path d="M1.19,1.95L3,0.96L4.80,1.95V4.05L3,5.04L1.19,4.05Z" fill="#d54a41"/></marker>
<marker id="m24" markerUnits="userSpaceOnUse" markerWidth="6" markerHeight="6" refX="3" refY="3" overflow="visible"><path d="M1.19,1.95L3,0.96L4.80,1.95V4.05L3,5.04L1.19,4.05Z" fill="#dd513a"/></marker>
<marker id="m25" markerUnits="userSpaceOnUse" markerWidth="6" markerHeight="6" refX="3" refY="3" overflow="visible"><path d="M1.19,1.95L3,0.96L4.80,1.95V4.05L3,5.04L1.19,4.05Z" fill="#e45a31"/></marker>
<marker id="m26" markerUnits="userSpaceOnUse" markerWidth="6" markerHeight="6" refX="3" refY="3" overflow="visible"><path d="M1.19,1.95L3,0.96L4.80,1.95V4.05L3,5.04L1.19,4.05Z" fill="#ea632a"/></marker>
<marker id="m27" markerUnits="userSpaceOnUse" markerWidth="6" markerHeight="6" refX="3" refY="3" overflow="visible"><path d="M1.19,1.95L3,0.96L4.80,1.95V4.05L3,5.04L1.19,4.05Z" fill="#ef6c23"/></marker>
<marker id="m28" markerUnits="userSpaceOnUse" markerWidth="6" markerHeight="6" refX="3" refY="3" overflow="visible"><path d="M1.19,1.95L3,0.96L4.80,1.95V4.05L3,5.04L1.19,4.05Z" fill="#f37819"/></marker>
<marker id="m29" markerUnits="userSpaceOnUse" markerWidth="6" markerHeight="6" refX="3" refY="3" overflow="visible"><path d="M1.19,1.95L3,0.96L4.80,1.95V4.05L3,5.04L1.19,4.05Z" fill="#f78212"/></marker>
<marker id="m30" markerUnits="userSpaceOnUse" markerWidth="6" markerHeight="6" refX="3" refY="3" overflow="visible"><path d="M1.19,1.95L3,0.96L4.80,1.95V4.05L3,5.04L1.19,4.05Z" fill="#f98e09"/></marker>
<marker id="m31" markerUnits="userSpaceOnUse" markerWidth="6" markerHeight="6" refX="3" refY="3" overflow="visible"><path d="M1.19,1.95L3,0.96L4.80,1.95V4.05L3,5.04L1.19,4.05Z" fill="#fb9906"/></marker>
<marker id="m32" markerUnits="userSpaceOnUse" markerWidth="6" markerHeight="6" refX="3" refY="3" overflow="visible"><path d="M1.19,1.95L3,0.96L4.80,1.95V4.05L3,5.04L1.19,4.05Z" fill="#fca50a"/></marker>
<marker id="m33" markerUnits="userSpaceOnUse" markerWidth="6" markerHeight="6" refX="3" refY="3" overflow="visible"><path d="M1.19,1.95L3,0.96L4.80,1.95V4.05L3,5.04L1.19,4.05Z" fill="#fcb216"/></marker>
<marker id="m34" markerUnits="userSpaceOnUse" markerWidth="6" markerHeight="6" refX="3" refY="3" overflow="visible"><path d="M1.19,1.95L3,0.96L4.80,1.95V4.05L3,5.04L1.19,4.05Z" fill="#fbbe23"/></marker>
<marker id="m35" markerUnits="userSpaceOnUse" markerWidth="6" markerHeight="6" refX="3" refY="3" overflow="visible"><path d="M1.19,1.95L3,0.96L4.80,1.95V4.05L3,5.04L1.19,4.05Z" fill="#f9cb35"/></marker>
<marker id="m36" markerUnits="userSpaceOnUse" markerWidth="6" markerHeight="6" refX="3" refY="3" overflow="visible"><path d="M1.19,1.95L3,0.96L4.80,1.95V4.05L3,5.04L1.19,4.05Z" fill="#f6d746"/></marker>
<marker id="m37" markerUnits="userSpaceOnUse" markerWidth="6" markerHeight="6" refX="3" refY="3" overflow="visible"><path d="M1.19,1.95L3,0.96L4.80,1.95V4.05L3,5.04L1.19,4.05Z" fill="#f3e35a"/></marker>
<marker id="m38" markerUnits="userSpaceOnUse" markerWidth="6" markerHeight="6" refX="3" refY="3" overflow="visible"><path d="M1.19,1.95L3,0.96L4.80,1.95V4.05L3,5.04L1.19,4.05Z" fill="#f1ef75"/></marker>
<marker id="m39" markerUnits="userSpaceOnUse" markerWidth="6" markerHeight="6" refX="3" refY="3" overflow="visible"><path d="M1.19,1.95L3,0.96L4.80,1.95V4.05L3,5.04L1.19,4.05Z" fill="#f4f88e"/></marker>
<marker id="m40" markerUnits="userSpaceOnUse" markerWidth="6" markerHeight="6" refX="3" refY="3" overflow="visible"><path d="M1.19,1.95L3,0.96L4.80,1.95V4.05L3,5.04L1.19,4.05Z" fill="#fcffa4"/></marker>
</defs>
<clipPath id="hc0"><rect x="32.0" y="256.3" width="145.40" height="141.90"/></clipPath>
<g clip-path="url(#hc0)" fill="none" stroke="none">
<path d="M72.7 398.2M177.4 398.2M72.7 393.1M174.5 393.1M46.5 388.1M64.0 388.1M66.9 388.1M32.0 383.0M37.8 383.0M46.5 383.0M55.3 383.0M61.1 383.0M49.4 377.9M55.3 377.9M43.6 372.9M78.5 367.8M55.3 362.7M64.0 362.7M69.8 362.7M84.3 362.7M58.2 357.7M75.6 357.7M87.3 357.7M55.3 352.6M64.0 352.6M66.9 352.6M75.6 352.6M78.5 352.6M81.4 352.6M61.1 347.5M64.0 347.5M93.1 347.5M52.4 342.5M75.6 342.5M84.3 342.5M52.4 337.4M58.2 337.4M98.9 337.4M37.8 332.3M96.0 332.3M40.7 327.2M43.6 327.2M46.5 327.2M49.4 327.2M93.1 327.2M98.9 327.2M49.4 317.1M40.7 312.0M93.1 312.0M46.5 307.0M37.8 301.9M32.0 296.8M34.9 296.8M37.8 296.8M90.2 296.8M98.9 296.8M90.2 291.8M98.9 291.8M93.1 286.7M96.0 286.7M177.4 281.6M87.3 276.6M93.1 276.6M174.5 271.5M174.5 261.4M177.4 261.4M84.3 256.3M87.3 256.3M175.9 395.7M175.9 390.6M33.5 380.5M39.3 380.5M50.9 380.5M50.9 375.4M65.4 365.3M71.3 365.3M71.3 360.2M74.2 360.2M56.7 355.1M68.3 355.1M59.6 350.1M80.0 350.1M82.9 350.1M88.7 350.1M56.7 345.0M65.4 345.0M74.2 345.0M48.0 339.9M50.9 339.9M77.1 339.9M85.8 339.9M39.3 334.9M88.7 334.9M94.5 334.9M45.1 329.8M80.0 329.8M88.7 329.8M48.0 324.7M42.2 319.6M94.5 319.6M42.2 314.6M97.4 314.6M48.0 309.5M94.5 309.5M33.5 304.4M88.7 304.4M33.5 299.4M39.3 299.4M94.5 299.4M91.6 289.2M97.4 289.2M94.5 284.2M85.8 279.1M97.4 274.0M88.7 269.0" marker-start="url(#m0)" marker-mid="url(#m0)" marker-end="url(#m0)"/>
<path d="M49.4 388.1M69.8 388.1M40.7 383.0M43.6 383.0M58.2 383.0M40.7 377.9M78.5 357.7M58.2 347.5M75.6 347.5M78.5 347.5M58.2 342.5M72.7 342.5M87.3 342.5M72.7 337.4M75.6 337.4M78.5 337.4M84.3 337.4M90.2 337.4M52.4 332.3M58.2 327.2M87.3 327.2M90.2 327.2M46.5 322.2M93.1 322.2M52.4 317.1M37.8 312.0M43.6 301.9M87.3 301.9M93.1 301.9M40.7 296.8M32.0 291.8M93.1 291.8M34.9 286.7M84.3 271.5M87.3 271.5M65.4 395.7M71.3 395.7M33.5 390.6M45.1 390.6M53.8 390.6M59.6 390.6M68.3 390.6M36.4 385.5M50.9 385.5M59.6 385.5M36.4 380.5M56.7 380.5M68.3 360.2M53.8 355.1M53.8 350.1M62.5 350.1M65.4 350.1M71.3 350.1M77.1 350.1M59.6 345.0M68.3 345.0M77.1 345.0M62.5 339.9M80.0 339.9M91.6 339.9M50.9 334.9M74.2 334.9M80.0 334.9M48.0 329.8M91.6 324.7M45.1 314.6M42.2 309.5M45.1 304.4M85.8 304.4M42.2 299.4M48.0 299.4M42.2 294.3M88.7 279.1M80.0 274.0M85.8 263.9M80.0 258.8" marker-start="url(#m6)" marker-mid="url(#m6)" marker-end="url(#m6)"/>
<path d="M66.9 398.2M69.8 398.2M52.4 383.0M69.8 357.7M58.2 352.6M66.9 347.5M69.8 347.5M61.1 342.5M78.5 342.5M49.4 337.4M55.3 337.4M87.3 337.4M66.9 332.3M84.3 332.3M87.3 332.3M84.3 322.2M43.6 317.1M46.5 317.1M87.3 312.0M40.7 301.9M90.2 301.9M90.2 286.7M84.3 281.6M87.3 281.6M84.3 276.6M90.2 276.6M81.4 271.5M78.5 266.4M81.4 261.4M84.3 261.4M36.4 390.6M42.2 390.6M65.4 390.6M33.5 385.5M39.3 385.5M62.5 385.5M42.2 380.5M45.1 380.5M59.6 355.1M65.4 355.1M74.2 355.1M80.0 355.1M74.2 350.1M80.0 345.0M85.8 345.0M88.7 345.0M53.8 339.9M82.9 339.9M88.7 339.9M53.8 334.9M71.3 334.9M59.6 329.8M77.1 329.8M53.8 324.7M45.1 309.5M91.6 309.5M39.3 304.4M36.4 294.3M39.3 294.3M85.8 294.3M88.7 294.3M82.9 279.1M77.1 274.0M88.7 274.0M77.1 269.0M74.2 258.8M82.9 258.8" marker-start="url(#m9)" marker-mid="url(#m9)" marker-end="url(#m9)"/>
<path d="M64.0 398.2M64.0 393.1M40.7 388.1M52.4 388.1M34.9 383.0M49.4 383.0M66.9 357.7M55.3 347.5M72.7 347.5M66.9 337.4M81.4 337.4M49.4 332.3M90.2 332.3M55.3 327.2M52.4 322.2M87.3 322.2M43.6 307.0M46.5 301.9M52.4 301.9M75.6 276.6M75.6 266.4M75.6 261.4M81.4 256.3M68.3 395.7M74.2 395.7M39.3 390.6M62.5 390.6M45.1 385.5M48.0 385.5M53.8 385.5M48.0 380.5M53.8 380.5M62.5 355.1M62.5 345.0M68.3 339.9M74.2 339.9M56.7 334.9M59.6 334.9M77.1 334.9M85.8 334.9M50.9 329.8M56.7 329.8M65.4 329.8M82.9 329.8M85.8 329.8M50.9 324.7M59.6 324.7M82.9 324.7M85.8 324.7M50.9 319.6M53.8 319.6M59.6 319.6M85.8 319.6M56.7 309.5M88.7 309.5M48.0 304.4M50.9 299.4M88.7 299.4M42.2 289.2M88.7 289.2M82.9 284.2M74.2 274.0M85.8 274.0M85.8 269.0M71.3 263.9M82.9 263.9" marker-start="url(#m11)" marker-mid="url(#m11)" marker-end="url(#m11)"/>
<path d="M66.9 393.1M69.8 393.1M61.1 388.1M61.1 357.7M69.8 352.6M55.3 342.5M69.8 342.5M61.1 337.4M55.3 332.3M75.6 332.3M52.4 327.2M61.1 327.2M81.4 327.2M55.3 322.2M55.3 317.1M46.5 312.0M90.2 312.0M90.2 307.0M46.5 296.8M58.2 296.8M34.9 291.8M37.8 291.8M37.8 286.7M40.7 286.7M34.9 281.6M81.4 281.6M72.7 271.5M75.6 271.5M78.5 271.5M72.7 266.4M69.8 256.3M56.7 390.6M42.2 385.5M56.7 339.9M65.4 339.9M62.5 334.9M65.4 334.9M53.8 329.8M68.3 329.8M45.1 299.4M33.5 289.2M36.4 289.2M85.8 289.2M85.8 284.2M80.0 279.1M65.4 269.0M82.9 269.0M74.2 263.9M80.0 263.9M71.3 258.8" marker-start="url(#m13)" marker-mid="url(#m13)" marker-end="url(#m13)"/>
<path d="M58.2 393.1M32.0 388.1M34.9 388.1M43.6 388.1M66.9 342.5M69.8 337.4M61.1 332.3M69.8 332.3M78.5 332.3M81.4 332.3M49.4 322.2M58.2 317.1M87.3 317.1M55.3 307.0M87.3 307.0M55.3 301.9M87.3 291.8M32.0 286.7M84.3 286.7M87.3 286.7M78.5 281.6M78.5 276.6M81.4 266.4M72.7 256.3M78.5 256.3M62.5 395.7M71.3 345.0M59.6 339.9M74.2 329.8M56.7 324.7M56.7 319.6M88.7 319.6M48.0 314.6M53.8 314.6M53.8 309.5M53.8 304.4M85.8 299.4M33.5 284.2M62.5 279.1" marker-start="url(#m15)" marker-mid="url(#m15)" marker-end="url(#m15)"/>
<path d="M61.1 398.2M61.1 393.1M72.7 352.6M66.9 327.2M84.3 327.2M61.1 322.2M78.5 322.2M81.4 322.2M84.3 317.1M49.4 312.0M52.4 312.0M55.3 312.0M49.4 307.0M87.3 296.8M55.3 291.8M49.4 286.7M81.4 276.6M69.8 266.4M75.6 256.3M71.3 339.9M82.9 334.9M62.5 329.8M65.4 324.7M80.0 324.7M48.0 319.6M82.9 319.6M50.9 314.6M56.7 314.6M85.8 314.6M88.7 314.6M56.7 304.4M45.1 294.3M48.0 294.3M39.3 289.2M80.0 284.2M77.1 279.1M80.0 269.0M77.1 258.8" marker-start="url(#m16)" marker-mid="url(#m16)" marker-end="url(#m16)"/>
<path d="M55.3 398.2M37.8 388.1M58.2 332.3M72.7 327.2M90.2 317.1M52.4 307.0M49.4 301.9M58.2 301.9M43.6 296.8M49.4 296.8M58.2 291.8M84.3 291.8M66.9 276.6M69.8 276.6M48.0 390.6M50.9 390.6M82.9 345.0M68.3 334.9M71.3 329.8M80.0 319.6M53.8 299.4M56.7 299.4M56.7 294.3M48.0 289.2M36.4 284.2M74.2 269.0M33.5 258.8" marker-start="url(#m17)" marker-mid="url(#m17)" marker-end="url(#m17)"/>
<path d="M32.0 393.1M64.0 332.3M64.0 327.2M78.5 327.2M58.2 322.2M58.2 307.0M61.1 296.8M43.6 291.8M49.4 291.8M55.3 286.7M77.1 324.7M50.9 304.4M50.9 289.2M74.2 279.1M65.4 274.0M68.3 274.0M77.1 263.9" marker-start="url(#m18)" marker-mid="url(#m18)" marker-end="url(#m18)"/>
<path d="M64.0 337.4M72.7 332.3M69.8 327.2M84.3 307.0M55.3 296.8M81.4 296.8M40.7 291.8M52.4 286.7M75.6 281.6M66.9 271.5M56.7 395.7M59.6 395.7M62.5 324.7M50.9 309.5M59.6 309.5M82.9 309.5M53.8 294.3M56.7 289.2M82.9 289.2M62.5 284.2M71.3 274.0M82.9 274.0M68.3 258.8" marker-start="url(#m19)" marker-mid="url(#m19)" marker-end="url(#m19)"/>
<path d="M58.2 398.2M34.9 393.1M55.3 393.1M58.2 312.0M52.4 296.8M52.4 291.8M61.1 291.8M66.9 281.6M64.0 276.6M72.7 276.6M72.7 261.4M32.0 256.3M59.6 314.6M85.8 309.5M80.0 289.2M71.3 279.1M68.3 269.0M71.3 269.0" marker-start="url(#m20)" marker-mid="url(#m20)" marker-end="url(#m20)"/>
<path d="M75.6 327.2M64.0 322.2M72.7 322.2M61.1 317.1M81.4 317.1M81.4 312.0M84.3 312.0M81.4 307.0M84.3 296.8M46.5 291.8M43.6 286.7M46.5 286.7M81.4 286.7M32.0 281.6M52.4 281.6M69.8 271.5M66.9 261.4M69.8 261.4M66.9 256.3M53.8 395.7M68.3 324.7M82.9 299.4M80.0 294.3M82.9 294.3M59.6 289.2M62.5 289.2M53.8 284.2M59.6 284.2M77.1 284.2M65.4 263.9" marker-start="url(#m21)" marker-mid="url(#m21)" marker-end="url(#m21)"/>
<path d="M75.6 322.2M81.4 291.8M64.0 286.7M64.0 281.6M72.7 281.6M66.9 266.4M61.1 256.3M33.5 395.7M65.4 319.6M80.0 314.6M82.9 314.6M45.1 289.2M56.7 284.2M74.2 284.2M65.4 279.1M68.3 279.1M68.3 263.9M62.5 258.8M65.4 258.8" marker-start="url(#m22)" marker-mid="url(#m22)" marker-end="url(#m22)"/>
<path d="M37.8 393.1M49.4 393.1M52.4 393.1M66.9 322.2M61.1 312.0M61.1 301.9M84.3 301.9M78.5 286.7M37.8 281.6M69.8 281.6M64.0 261.4M36.4 395.7M74.2 324.7M59.6 304.4M59.6 299.4M53.8 289.2M42.2 284.2M45.1 284.2M33.5 279.1" marker-start="url(#m23)" marker-mid="url(#m23)" marker-end="url(#m23)"/>
<path d="M34.9 398.2M46.5 398.2M43.6 393.1M64.0 317.1M81.4 301.9M75.6 286.7M43.6 281.6M58.2 281.6M37.8 256.3M55.3 256.3M71.3 324.7M77.1 319.6M82.9 304.4M59.6 294.3M71.3 284.2M59.6 279.1M62.5 274.0" marker-start="url(#m24)" marker-mid="url(#m24)" marker-end="url(#m24)"/>
<path d="M69.8 322.2M64.0 296.8M78.5 291.8M61.1 286.7M66.9 286.7M40.7 281.6M61.1 281.6M64.0 271.5M50.9 395.7M62.5 314.6M62.5 294.3M77.1 289.2M50.9 284.2M68.3 284.2M36.4 279.1M59.6 263.9M59.6 258.8" marker-start="url(#m25)" marker-mid="url(#m25)" marker-end="url(#m25)"/>
<path d="M32.0 398.2M37.8 398.2M40.7 398.2M40.7 393.1M78.5 317.1M58.2 286.7M69.8 286.7M72.7 286.7M46.5 281.6M55.3 281.6M58.2 276.6M32.0 271.5M32.0 261.4M64.0 256.3M39.3 395.7M48.0 395.7M48.0 284.2M65.4 284.2M53.8 279.1" marker-start="url(#m26)" marker-mid="url(#m26)" marker-end="url(#m26)"/>
<path d="M46.5 393.1M64.0 291.8M49.4 281.6M32.0 276.6M64.0 266.4M58.2 261.4M34.9 256.3M52.4 256.3M58.2 256.3M62.5 309.5M62.5 304.4M80.0 299.4M68.3 289.2M39.3 284.2M33.5 274.0M36.4 274.0M62.5 263.9" marker-start="url(#m27)" marker-mid="url(#m27)" marker-end="url(#m27)"/>
<path d="M43.6 398.2M49.4 398.2M52.4 398.2M66.9 317.1M69.8 317.1M75.6 317.1M78.5 312.0M75.6 291.8M55.3 276.6M61.1 276.6M58.2 271.5M32.0 266.4M61.1 261.4M45.1 395.7M62.5 319.6M68.3 319.6M71.3 319.6M74.2 319.6M62.5 299.4M74.2 289.2M42.2 279.1M50.9 279.1M56.7 274.0M62.5 269.0" marker-start="url(#m28)" marker-mid="url(#m28)" marker-end="url(#m28)"/>
<path d="M72.7 317.1M64.0 312.0M61.1 307.0M61.1 266.4M74.2 314.6M80.0 309.5M65.4 294.3M65.4 289.2M33.5 269.0M59.6 269.0M50.9 258.8" marker-start="url(#m29)" marker-mid="url(#m29)" marker-end="url(#m29)"/>
<path d="M78.5 307.0M78.5 301.9M34.9 276.6M61.1 271.5M58.2 266.4M49.4 256.3M42.2 395.7M77.1 294.3M56.7 279.1M39.3 274.0M59.6 274.0" marker-start="url(#m30)" marker-mid="url(#m30)" marker-end="url(#m30)"/>
<path d="M64.0 307.0M66.9 291.8M72.7 291.8M37.8 276.6M55.3 271.5M34.9 261.4M65.4 314.6M68.3 314.6M77.1 314.6M65.4 309.5M77.1 304.4M71.3 289.2M39.3 279.1M48.0 279.1M53.8 274.0M53.8 258.8M56.7 258.8" marker-start="url(#m31)" marker-mid="url(#m31)" marker-end="url(#m31)"/>
<path d="M34.9 271.5M37.8 261.4M55.3 261.4M71.3 314.6M74.2 309.5M65.4 304.4M65.4 299.4M68.3 294.3M50.9 274.0M33.5 263.9" marker-start="url(#m32)" marker-mid="url(#m32)" marker-end="url(#m32)"/>
<path d="M64.0 301.9M43.6 276.6M52.4 276.6M34.9 266.4M52.4 261.4M43.6 256.3M46.5 256.3M77.1 309.5M45.1 279.1M56.7 269.0M56.7 263.9M36.4 258.8" marker-start="url(#m33)" marker-mid="url(#m33)" marker-end="url(#m33)"/>
<path d="M66.9 312.0M75.6 312.0M78.5 296.8M69.8 291.8M40.7 276.6M49.4 276.6M40.7 256.3M71.3 294.3M45.1 274.0M36.4 269.0M36.4 263.9M53.8 263.9M42.2 258.8" marker-start="url(#m34)" marker-mid="url(#m34)" marker-end="url(#m34)"/>
<path d="M69.8 312.0M66.9 301.9M66.9 296.8M52.4 271.5M55.3 266.4M68.3 309.5M80.0 304.4M77.1 299.4M74.2 294.3M42.2 274.0M39.3 258.8" marker-start="url(#m35)" marker-mid="url(#m35)" marker-end="url(#m35)"/>
<path d="M75.6 307.0M75.6 301.9M69.8 296.8M37.8 271.5M37.8 266.4M46.5 261.4M71.3 299.4M39.3 269.0M39.3 263.9M45.1 258.8M48.0 258.8" marker-start="url(#m36)" marker-mid="url(#m36)" marker-end="url(#m36)"/>
<path d="M75.6 296.8M74.2 304.4M68.3 299.4M42.2 269.0" marker-start="url(#m37)" marker-mid="url(#m37)" marker-end="url(#m37)"/>
<path d="M46.5 276.6M49.4 271.5M40.7 261.4M43.6 261.4M49.4 261.4M71.3 309.5M74.2 299.4M48.0 274.0M48.0 269.0M48.0 263.9" marker-start="url(#m38)" marker-mid="url(#m38)" marker-end="url(#m38)"/>
<path d="M72.7 312.0M72.7 307.0M69.8 301.9M72.7 296.8M40.7 271.5M40.7 266.4M52.4 266.4M53.8 269.0" marker-start="url(#m39)" marker-mid="url(#m39)" marker-end="url(#m39)"/>
<path d="M66.9 307.0M69.8 307.0M72.7 301.9M43.6 271.5M46.5 271.5M43.6 266.4M46.5 266.4M49.4 266.4M68.3 304.4M71.3 304.4M45.1 269.0M50.9 269.0M42.2 263.9M45.1 263.9M50.9 263.9" marker-start="url(#m40)" marker-mid="url(#m40)" marker-end="url(#m40)"/>
</g>
<line x1="104.70" y1="256.3" x2="104.70" y2="398.2" stroke="#000" stroke-width="0.9" stroke-dasharray="3.4 1.5"/>
<line x1="32.0" y1="327.4" x2="177.4" y2="327.4" stroke="#000" stroke-width="0.9" stroke-dasharray="3.4 1.5"/>
<rect x="32.00" y="256.3" width="145.40" height="141.90" fill="none" stroke="#555" stroke-width="1"/>
<line x1="32.0" y1="255.8" x2="32.0" y2="398.7" stroke="#fff" stroke-width="1.2"/>
<line x1="32.0" y1="255.8" x2="32.0" y2="398.7" stroke="#b8b8b8" stroke-width="1.2"/>
<line x1="32.00" y1="398.2" x2="32.00" y2="400.7" stroke="#b0b0b0" stroke-width="0.9"/>
<line x1="104.70" y1="398.2" x2="104.70" y2="400.7" stroke="#b0b0b0" stroke-width="0.9"/>
<line x1="177.40" y1="398.2" x2="177.40" y2="400.7" stroke="#b0b0b0" stroke-width="0.9"/>
<text x="31.50" y="408.00" font-size="10.2" text-anchor="middle" textLength="11.20" lengthAdjust="spacingAndGlyphs" >−<tspan font-style="italic">π</tspan></text>
<text x="104.70" y="408.00" font-size="9.0" text-anchor="middle" textLength="5.00" lengthAdjust="spacingAndGlyphs" >0</text>
<text x="177.40" y="408.00" font-size="10.2" text-anchor="middle" textLength="5.20" lengthAdjust="spacingAndGlyphs" font-style="italic" >π</text>
<text x="104.70" y="419.50" font-size="11" text-anchor="middle" textLength="6.60" lengthAdjust="spacingAndGlyphs" font-style="italic" >φ</text>
<line x1="29.5" y1="256.3" x2="32.0" y2="256.3" stroke="#b0b0b0" stroke-width="0.9"/>
<line x1="29.5" y1="327.4" x2="32.0" y2="327.4" stroke="#b0b0b0" stroke-width="0.9"/>
<line x1="29.5" y1="398.2" x2="32.0" y2="398.2" stroke="#b0b0b0" stroke-width="0.9"/>
<text x="28.40" y="259.60" font-size="9.5" text-anchor="end" textLength="5.00" lengthAdjust="spacingAndGlyphs" font-style="italic" >π</text>
<text x="28.20" y="330.70" font-size="9.0" text-anchor="end" textLength="5.00" lengthAdjust="spacingAndGlyphs" >0</text>
<text x="28.40" y="401.50" font-size="9.5" text-anchor="end" textLength="11.40" lengthAdjust="spacingAndGlyphs" >−<tspan font-style="italic">π</tspan></text>
<text x="11.60" y="327.00" font-size="11" text-anchor="middle" textLength="8.00" lengthAdjust="spacingAndGlyphs" font-style="italic" transform="rotate(-90 11.60 327.00)" >ψ</text>
<clipPath id="hc1"><rect x="192.1" y="256.3" width="145.80" height="141.90"/></clipPath>
<g clip-path="url(#hc1)" fill="none" stroke="none">
<path d="M273.7 398.2M300.0 398.2M302.9 398.2M238.8 393.1M241.7 393.1M302.9 393.1M305.8 393.1M311.7 393.1M323.3 393.1M335.0 393.1M192.1 388.1M247.5 388.1M253.3 388.1M270.8 388.1M273.7 388.1M291.2 388.1M302.9 388.1M337.9 388.1M221.3 383.0M265.0 383.0M270.8 383.0M276.7 383.0M337.9 383.0M197.9 377.9M203.8 377.9M212.5 377.9M215.4 377.9M224.2 377.9M230.0 377.9M232.9 377.9M308.7 377.9M311.7 377.9M192.1 372.9M195.0 372.9M200.8 372.9M209.6 372.9M224.2 372.9M247.5 372.9M270.8 372.9M273.7 372.9M195.0 367.8M212.5 367.8M218.3 367.8M221.3 367.8M230.0 367.8M253.3 367.8M270.8 367.8M302.9 367.8M195.0 362.7M197.9 362.7M206.7 362.7M212.5 362.7M218.3 362.7M227.1 362.7M250.4 362.7M305.8 362.7M203.8 357.7M206.7 357.7M212.5 357.7M215.4 357.7M218.3 357.7M224.2 357.7M227.1 357.7M230.0 357.7M241.7 357.7M265.0 357.7M276.7 357.7M314.6 357.7M192.1 352.6M197.9 352.6M200.8 352.6M209.6 352.6M215.4 352.6M221.3 352.6M224.2 352.6M232.9 352.6M235.8 352.6M241.7 352.6M250.4 352.6M256.3 352.6M262.1 352.6M265.0 352.6M270.8 352.6M305.8 352.6M192.1 347.5M218.3 347.5M227.1 347.5M235.8 347.5M267.9 347.5M308.7 347.5M256.3 342.5M259.2 342.5M270.8 342.5M308.7 342.5M215.4 337.4M256.3 337.4M265.0 337.4M267.9 337.4M308.7 337.4M311.7 337.4M265.0 332.3M267.9 332.3M323.3 332.3M270.8 327.2M305.8 327.2M265.0 322.2M305.8 322.2M308.7 322.2M311.7 322.2M323.3 322.2M253.3 317.1M276.7 317.1M302.9 317.1M337.9 317.1M195.0 312.0M253.3 312.0M259.2 312.0M265.0 312.0M276.7 312.0M279.6 312.0M302.9 312.0M337.9 312.0M262.1 307.0M267.9 307.0M302.9 307.0M305.8 307.0M256.3 301.9M259.2 301.9M262.1 301.9M294.2 301.9M300.0 301.9M335.0 301.9M337.9 301.9M259.2 296.8M265.0 296.8M285.4 296.8M297.1 296.8M259.2 291.8M265.0 291.8M279.6 291.8M282.5 291.8M323.3 291.8M256.3 286.7M259.2 286.7M314.6 286.7M320.4 286.7M326.2 286.7M332.1 286.7M335.0 286.7M253.3 281.6M259.2 281.6M262.1 281.6M305.8 281.6M320.4 281.6M323.3 281.6M332.1 281.6M259.2 276.6M267.9 276.6M282.5 276.6M302.9 276.6M320.4 276.6M323.3 276.6M332.1 276.6M279.6 271.5M302.9 271.5M305.8 271.5M253.3 266.4M270.8 266.4M273.7 266.4M279.6 266.4M282.5 266.4M285.4 266.4M300.0 266.4M308.7 266.4M337.9 266.4M267.9 261.4M282.5 261.4M311.7 261.4M314.6 261.4M317.5 261.4M335.0 261.4M337.9 261.4M253.3 256.3M326.2 256.3M337.9 256.3M249.0 395.7M260.6 395.7M275.2 395.7M298.5 395.7M313.1 395.7M228.5 390.6M237.3 390.6M269.4 390.6M284.0 390.6M286.9 390.6M304.4 390.6M316.0 390.6M219.8 385.5M231.5 385.5M234.4 385.5M246.0 385.5M251.9 385.5M263.5 385.5M266.5 385.5M269.4 385.5M272.3 385.5M281.0 385.5M202.3 380.5M214.0 380.5M216.9 380.5M222.7 380.5M228.5 380.5M237.3 380.5M257.7 380.5M260.6 380.5M263.5 380.5M269.4 380.5M301.4 380.5M304.4 380.5M321.9 380.5M202.3 375.4M219.8 375.4M222.7 375.4M228.5 375.4M307.3 375.4M202.3 370.3M216.9 370.3M219.8 370.3M231.5 370.3M240.2 370.3M263.5 370.3M301.4 370.3M307.3 370.3M313.1 370.3M196.5 365.3M202.3 365.3M219.8 365.3M249.0 365.3M251.9 365.3M254.8 365.3M257.7 365.3M269.4 365.3M313.1 365.3M324.8 365.3M196.5 360.2M205.2 360.2M214.0 360.2M240.2 360.2M313.1 360.2M193.6 355.1M196.5 355.1M199.4 355.1M205.2 355.1M234.4 355.1M243.1 355.1M246.0 355.1M249.0 355.1M257.7 355.1M327.7 355.1M202.3 350.1M216.9 350.1M240.2 350.1M243.1 350.1M246.0 350.1M251.9 350.1M260.6 350.1M307.3 350.1M310.2 350.1M222.7 345.0M269.4 345.0M324.8 345.0M330.6 345.0M249.0 339.9M251.9 339.9M257.7 339.9M310.2 339.9M313.1 339.9M321.9 339.9M251.9 334.9M257.7 334.9M313.1 334.9M254.8 329.8M257.7 329.8M260.6 329.8M307.3 329.8M321.9 329.8M324.8 329.8M257.7 324.7M263.5 324.7M272.3 324.7M304.4 324.7M330.6 324.7M257.7 319.6M310.2 319.6M316.0 319.6M336.4 319.6M251.9 314.6M257.7 314.6M304.4 314.6M307.3 314.6M316.0 314.6M336.4 314.6M301.4 309.5M327.7 309.5M336.4 309.5M289.8 304.4M298.5 304.4M193.6 299.4M289.8 299.4M292.7 299.4M330.6 299.4M333.5 299.4M260.6 294.3M292.7 294.3M330.6 294.3M251.9 289.2M257.7 289.2M333.5 289.2M251.9 284.2M254.8 284.2M260.6 284.2M295.6 284.2M330.6 284.2M254.8 279.1M266.5 279.1M301.4 279.1M257.7 274.0M286.9 274.0M298.5 274.0M301.4 274.0M310.2 274.0M313.1 274.0M316.0 274.0M321.9 274.0M292.7 269.0M298.5 269.0M257.7 263.9M263.5 263.9M275.2 263.9M313.1 263.9M336.4 263.9M246.0 258.8M266.5 258.8M269.4 258.8M278.1 258.8M292.7 258.8M307.3 258.8M310.2 258.8M333.5 258.8M336.4 258.8" marker-start="url(#m0)" marker-mid="url(#m0)" marker-end="url(#m0)"/>
<path d="M235.8 398.2M285.4 398.2M256.3 393.1M230.0 388.1M244.6 388.1M294.2 388.1M192.1 383.0M195.0 383.0M200.8 383.0M209.6 383.0M227.1 383.0M230.0 383.0M279.6 383.0M192.1 377.9M221.3 377.9M227.1 377.9M300.0 377.9M197.9 372.9M206.7 372.9M218.3 372.9M276.7 372.9M305.8 372.9M203.8 367.8M203.8 362.7M273.7 357.7M308.7 357.7M203.8 352.6M212.5 352.6M238.8 352.6M267.9 352.6M308.7 352.6M203.8 347.5M206.7 347.5M224.2 347.5M241.7 347.5M253.3 347.5M305.8 347.5M273.7 342.5M195.0 337.4M250.4 337.4M253.3 337.4M270.8 337.4M253.3 332.3M270.8 332.3M273.7 332.3M267.9 327.2M192.1 322.2M250.4 322.2M253.3 322.2M256.3 322.2M273.7 322.2M256.3 317.1M256.3 312.0M250.4 307.0M253.3 307.0M285.4 307.0M335.0 296.8M253.3 291.8M332.1 291.8M335.0 291.8M256.3 276.6M285.4 276.6M335.0 276.6M282.5 271.5M294.2 271.5M297.1 271.5M300.0 271.5M332.1 271.5M335.0 271.5M250.4 261.4M259.2 261.4M302.9 261.4M279.6 256.3M308.7 256.3M332.1 256.3M234.4 395.7M278.1 395.7M284.0 395.7M289.8 395.7M333.5 395.7M336.4 395.7M231.5 390.6M234.4 390.6M275.2 390.6M281.0 390.6M298.5 390.6M301.4 390.6M330.6 390.6M237.3 385.5M249.0 385.5M275.2 385.5M286.9 385.5M289.8 385.5M219.8 380.5M225.6 380.5M231.5 380.5M234.4 380.5M278.1 380.5M284.0 380.5M292.7 380.5M295.6 380.5M330.6 380.5M333.5 380.5M199.4 375.4M205.2 375.4M208.1 375.4M225.6 375.4M234.4 375.4M240.2 375.4M266.5 375.4M272.3 375.4M275.2 375.4M316.0 375.4M196.5 370.3M205.2 370.3M234.4 370.3M272.3 370.3M278.1 370.3M304.4 370.3M327.7 370.3M199.4 365.3M211.1 365.3M214.0 365.3M216.9 365.3M228.5 365.3M231.5 365.3M304.4 365.3M199.4 360.2M222.7 360.2M234.4 360.2M243.1 360.2M257.7 360.2M269.4 360.2M272.3 360.2M301.4 360.2M202.3 355.1M211.1 355.1M228.5 355.1M310.2 355.1M199.4 350.1M214.0 350.1M266.5 350.1M199.4 345.0M205.2 345.0M211.1 345.0M214.0 345.0M243.1 345.0M307.3 345.0M254.8 339.9M263.5 339.9M193.6 334.9M211.1 334.9M216.9 334.9M225.6 334.9M249.0 334.9M269.4 334.9M208.1 329.8M249.0 324.7M275.2 324.7M275.2 319.6M275.2 314.6M301.4 314.6M254.8 309.5M295.6 309.5M254.8 304.4M260.6 304.4M275.2 304.4M284.0 304.4M333.5 304.4M260.6 299.4M284.0 299.4M295.6 299.4M254.8 294.3M336.4 294.3M254.8 289.2M260.6 289.2M336.4 289.2M333.5 284.2M251.9 279.1M333.5 279.1M249.0 274.0M251.9 274.0M254.8 274.0M330.6 274.0M251.9 269.0M286.9 269.0M330.6 269.0M284.0 263.9M292.7 263.9M307.3 263.9M333.5 263.9M281.0 258.8M295.6 258.8" marker-start="url(#m6)" marker-mid="url(#m6)" marker-end="url(#m6)"/>
<path d="M238.8 398.2M276.7 398.2M297.1 398.2M235.8 393.1M276.7 393.1M337.9 393.1M195.0 388.1M197.9 388.1M209.6 388.1M212.5 388.1M215.4 388.1M235.8 388.1M279.6 388.1M203.8 383.0M224.2 383.0M235.8 383.0M273.7 383.0M285.4 383.0M270.8 377.9M273.7 377.9M294.2 377.9M297.1 377.9M203.8 372.9M285.4 372.9M273.7 367.8M276.7 367.8M209.6 362.7M221.3 362.7M302.9 362.7M195.0 357.7M209.6 357.7M302.9 357.7M218.3 352.6M227.1 352.6M230.0 352.6M195.0 347.5M221.3 347.5M244.6 347.5M192.1 342.5M221.3 342.5M224.2 342.5M244.6 342.5M305.8 342.5M206.7 337.4M218.3 337.4M230.0 337.4M238.8 337.4M203.8 332.3M244.6 332.3M247.5 332.3M256.3 332.3M305.8 332.3M215.4 327.2M247.5 327.2M250.4 327.2M253.3 327.2M192.1 317.1M300.0 312.0M282.5 301.9M288.3 301.9M332.1 301.9M192.1 296.8M291.2 296.8M337.9 291.8M250.4 281.6M288.3 271.5M337.9 271.5M291.2 266.4M297.1 266.4M302.9 266.4M335.0 266.4M285.4 261.4M294.2 261.4M250.4 256.3M276.7 256.3M297.1 256.3M237.3 395.7M278.1 390.6M336.4 390.6M193.6 385.5M196.5 385.5M199.4 385.5M211.1 385.5M216.9 385.5M225.6 385.5M292.7 385.5M295.6 385.5M301.4 385.5M196.5 380.5M199.4 380.5M208.1 380.5M193.6 375.4M216.9 375.4M289.8 375.4M275.2 370.3M301.4 365.3M214.0 355.1M216.9 355.1M222.7 355.1M275.2 355.1M196.5 350.1M211.1 350.1M234.4 350.1M275.2 345.0M216.9 339.9M219.8 339.9M240.2 339.9M246.0 339.9M272.3 339.9M307.3 339.9M219.8 334.9M228.5 334.9M307.3 334.9M251.9 324.7M196.5 319.6M272.3 319.6M278.1 314.6M193.6 309.5M251.9 309.5M281.0 304.4M281.0 299.4M286.9 299.4M336.4 299.4M251.9 294.3M336.4 284.2M289.8 274.0M281.0 269.0M289.8 269.0M295.6 269.0M304.4 269.0M246.0 263.9M281.0 263.9M289.8 263.9M289.8 258.8" marker-start="url(#m9)" marker-mid="url(#m9)" marker-end="url(#m9)"/>
<path d="M291.2 398.2M294.2 398.2M279.6 393.1M297.1 393.1M232.9 388.1M238.8 388.1M276.7 388.1M300.0 388.1M212.5 383.0M232.9 383.0M288.3 383.0M300.0 383.0M276.7 377.9M282.5 377.9M291.2 377.9M297.1 372.9M300.0 372.9M282.5 367.8M294.2 367.8M305.8 357.7M276.7 352.6M209.6 347.5M273.7 347.5M197.9 342.5M203.8 342.5M212.5 342.5M227.1 342.5M232.9 342.5M235.8 342.5M247.5 342.5M192.1 337.4M203.8 337.4M212.5 337.4M235.8 337.4M305.8 337.4M192.1 332.3M206.7 332.3M215.4 332.3M250.4 332.3M270.8 322.2M197.9 317.1M279.6 317.1M297.1 317.1M297.1 312.0M192.1 307.0M195.0 307.0M291.2 307.0M294.2 307.0M195.0 301.9M253.3 301.9M297.1 301.9M195.0 296.8M335.0 281.6M337.9 281.6M250.4 271.5M291.2 271.5M250.4 266.4M288.3 266.4M332.1 266.4M247.5 261.4M297.1 261.4M300.0 261.4M294.2 256.3M228.5 395.7M292.7 395.7M196.5 390.6M292.7 390.6M295.6 390.6M202.3 385.5M298.5 385.5M211.1 375.4M205.2 365.3M298.5 365.3M202.3 360.2M307.3 355.1M219.8 350.1M222.7 350.1M272.3 350.1M196.5 345.0M202.3 345.0M219.8 345.0M231.5 345.0M246.0 345.0M272.3 345.0M196.5 339.9M199.4 339.9M208.1 339.9M225.6 339.9M199.4 329.8M272.3 329.8M278.1 319.6M298.5 319.6M193.6 314.6M281.0 309.5M298.5 309.5M196.5 299.4M199.4 299.4M193.6 294.3M333.5 294.3M330.6 279.1M336.4 279.1M333.5 274.0M284.0 269.0M301.4 269.0M336.4 269.0M251.9 263.9M251.9 258.8M286.9 258.8M304.4 258.8" marker-start="url(#m11)" marker-mid="url(#m11)" marker-end="url(#m11)"/>
<path d="M232.9 398.2M282.5 398.2M288.3 393.1M291.2 393.1M218.3 388.1M221.3 388.1M224.2 388.1M297.1 388.1M197.9 383.0M282.5 383.0M200.8 377.9M285.4 377.9M279.6 372.9M273.7 362.7M273.7 352.6M200.8 347.5M212.5 347.5M276.7 347.5M241.7 342.5M221.3 337.4M244.6 337.4M195.0 332.3M221.3 332.3M302.9 332.3M195.0 322.2M276.7 322.2M300.0 322.2M302.9 322.2M300.0 317.1M192.1 312.0M288.3 312.0M291.2 312.0M282.5 307.0M197.9 301.9M253.3 296.8M337.9 286.7M250.4 276.6M337.9 276.6M285.4 271.5M294.2 266.4M291.2 261.4M247.5 256.3M288.3 256.3M291.2 256.3M300.0 256.3M286.9 395.7M199.4 390.6M216.9 390.6M222.7 390.6M205.2 385.5M208.1 385.5M228.5 385.5M278.1 385.5M193.6 380.5M211.1 380.5M298.5 380.5M286.9 375.4M286.9 370.3M298.5 370.3M225.6 360.2M219.8 355.1M228.5 350.1M275.2 350.1M216.9 345.0M234.4 345.0M304.4 345.0M214.0 339.9M234.4 339.9M275.2 339.9M199.4 334.9M208.1 334.9M214.0 334.9M304.4 334.9M205.2 329.8M211.1 329.8M216.9 329.8M219.8 329.8M249.0 329.8M301.4 324.7M193.6 319.6M298.5 314.6M292.7 309.5M249.0 304.4M295.6 304.4M251.9 299.4M336.4 274.0M278.1 263.9M295.6 263.9M249.0 258.8M301.4 258.8" marker-start="url(#m13)" marker-mid="url(#m13)" marker-end="url(#m13)"/>
<path d="M227.1 398.2M230.0 393.1M282.5 393.1M285.4 393.1M203.8 388.1M282.5 388.1M285.4 388.1M215.4 383.0M291.2 383.0M294.2 383.0M300.0 367.8M276.7 362.7M206.7 352.6M197.9 347.5M215.4 347.5M230.0 347.5M238.8 347.5M195.0 342.5M200.8 342.5M215.4 342.5M218.3 342.5M224.2 337.4M276.7 337.4M230.0 332.3M232.9 332.3M241.7 332.3M192.1 327.2M276.7 327.2M302.9 327.2M294.2 312.0M288.3 307.0M250.4 301.9M192.1 291.8M244.6 291.8M247.5 276.6M241.7 266.4M231.5 395.7M281.0 395.7M219.8 390.6M289.8 390.6M222.7 385.5M286.9 380.5M289.8 380.5M278.1 375.4M284.0 375.4M295.6 375.4M225.6 370.3M295.6 370.3M272.3 355.1M208.1 350.1M237.3 350.1M304.4 350.1M225.6 345.0M228.5 345.0M237.3 345.0M193.6 339.9M202.3 339.9M205.2 339.9M211.1 339.9M228.5 339.9M243.1 339.9M272.3 334.9M275.2 334.9M202.3 329.8M225.6 329.8M237.3 324.7M278.1 324.7M254.8 314.6M295.6 314.6M278.1 309.5M286.9 304.4M292.7 304.4M196.5 294.3M225.6 284.2M249.0 284.2M249.0 269.0M286.9 263.9M298.5 263.9" marker-start="url(#m15)" marker-mid="url(#m15)" marker-end="url(#m15)"/>
<path d="M230.0 398.2M206.7 388.1M227.1 388.1M206.7 383.0M279.6 377.9M282.5 372.9M279.6 367.8M206.7 342.5M238.8 342.5M302.9 342.5M200.8 337.4M247.5 337.4M273.7 337.4M209.6 332.3M206.7 327.2M250.4 317.1M250.4 312.0M282.5 312.0M192.1 301.9M250.4 296.8M250.4 286.7M247.5 271.5M247.5 266.4M279.6 261.4M193.6 390.6M214.0 385.5M284.0 385.5M281.0 380.5M298.5 375.4M278.1 365.3M304.4 355.1M205.2 350.1M231.5 350.1M193.6 345.0M240.2 345.0M231.5 339.9M237.3 339.9M202.3 334.9M243.1 329.8M196.5 324.7M251.9 319.6M193.6 304.4M249.0 299.4M254.8 299.4M249.0 294.3M196.5 289.2M246.0 269.0M333.5 269.0M301.4 263.9M298.5 258.8" marker-start="url(#m16)" marker-mid="url(#m16)" marker-end="url(#m16)"/>
<path d="M288.3 398.2M232.9 393.1M288.3 388.1M297.1 383.0M297.1 367.8M300.0 357.7M302.9 352.6M302.9 347.5M209.6 342.5M230.0 342.5M197.9 337.4M241.7 337.4M197.9 332.3M212.5 332.3M238.8 332.3M197.9 322.2M247.5 312.0M285.4 312.0M247.5 307.0M247.5 281.6M244.6 271.5M244.6 256.3M205.2 395.7M225.6 395.7M225.6 390.6M292.7 375.4M275.2 365.3M208.1 345.0M222.7 334.9M237.3 334.9M240.2 334.9M243.1 334.9M246.0 334.9M240.2 329.8M246.0 329.8M275.2 329.8M278.1 329.8M301.4 329.8M304.4 329.8M281.0 319.6M284.0 319.6M284.0 314.6M196.5 309.5M284.0 309.5M286.9 309.5M249.0 279.1M304.4 263.9M284.0 258.8" marker-start="url(#m17)" marker-mid="url(#m17)" marker-end="url(#m17)"/>
<path d="M215.4 393.1M224.2 393.1M294.2 393.1M200.8 388.1M288.3 372.9M282.5 362.7M232.9 337.4M218.3 332.3M241.7 327.2M206.7 322.2M195.0 317.1M297.1 307.0M197.9 296.8M195.0 291.8M197.9 291.8M250.4 291.8M288.3 261.4M227.1 256.3M205.2 390.6M281.0 370.3M275.2 360.2M205.2 334.9M231.5 334.9M193.6 329.8M199.4 324.7M240.2 324.7M281.0 314.6M237.3 263.9M249.0 263.9" marker-start="url(#m18)" marker-mid="url(#m18)" marker-end="url(#m18)"/>
<path d="M221.3 393.1M227.1 393.1M288.3 367.8M279.6 362.7M232.9 347.5M227.1 337.4M200.8 332.3M224.2 332.3M227.1 332.3M276.7 332.3M200.8 327.2M209.6 322.2M244.6 322.2M247.5 322.2M279.6 322.2M200.8 317.1M244.6 317.1M211.1 390.6M281.0 375.4M289.8 370.3M292.7 370.3M281.0 365.3M222.7 339.9M234.4 329.8M193.6 324.7M211.1 319.6M219.8 319.6M243.1 309.5M249.0 309.5M289.8 309.5M246.0 274.0" marker-start="url(#m19)" marker-mid="url(#m19)" marker-end="url(#m19)"/>
<path d="M288.3 377.9M294.2 372.9M285.4 367.8M203.8 327.2M232.9 327.2M221.3 317.1M285.4 317.1M288.3 317.1M200.8 301.9M247.5 291.8M195.0 286.7M241.7 281.6M224.2 276.6M193.6 395.7M208.1 390.6M214.0 390.6M295.6 365.3M278.1 355.1M234.4 334.9M205.2 319.6M249.0 319.6M295.6 319.6M196.5 314.6M199.4 309.5M193.6 289.2M205.2 284.2M208.1 284.2M225.6 263.9" marker-start="url(#m20)" marker-mid="url(#m20)" marker-end="url(#m20)"/>
<path d="M291.2 367.8M209.6 337.4M235.8 332.3M197.9 327.2M221.3 327.2M224.2 327.2M279.6 327.2M300.0 327.2M282.5 317.1M197.9 307.0M200.8 307.0M247.5 296.8M200.8 291.8M192.1 286.7M247.5 286.7M244.6 281.6M241.7 276.6M222.7 395.7M284.0 370.3M284.0 365.3M196.5 334.9M214.0 329.8M228.5 329.8M231.5 329.8M205.2 324.7M243.1 324.7M298.5 324.7M240.2 319.6M246.0 314.6M249.0 314.6M292.7 314.6M246.0 309.5M199.4 304.4M251.9 304.4M246.0 299.4M199.4 289.2M243.1 289.2M249.0 289.2M240.2 269.0M243.1 258.8" marker-start="url(#m21)" marker-mid="url(#m21)" marker-end="url(#m21)"/>
<path d="M192.1 398.2M215.4 398.2M192.1 393.1M195.0 393.1M197.9 393.1M218.3 393.1M291.2 372.9M300.0 362.7M276.7 342.5M302.9 337.4M279.6 332.3M195.0 327.2M212.5 327.2M244.6 327.2M200.8 322.2M218.3 322.2M212.5 317.1M294.2 317.1M200.8 312.0M238.8 296.8M218.3 291.8M238.8 291.8M206.7 286.7M232.9 286.7M197.9 281.6M224.2 281.6M238.8 276.6M227.1 271.5M221.3 261.4M219.8 395.7M202.3 390.6M286.9 365.3M292.7 365.3M278.1 360.2M284.0 360.2M298.5 360.2M301.4 350.1M278.1 345.0M301.4 345.0M278.1 339.9M222.7 329.8M202.3 324.7M219.8 324.7M246.0 324.7M202.3 319.6M246.0 319.6M202.3 314.6M216.9 314.6M286.9 314.6M196.5 304.4M240.2 289.2M243.1 284.2M243.1 269.0M225.6 258.8M240.2 258.8" marker-start="url(#m22)" marker-mid="url(#m22)" marker-end="url(#m22)"/>
<path d="M212.5 398.2M200.8 393.1M279.6 337.4M230.0 327.2M235.8 327.2M238.8 327.2M212.5 322.2M238.8 322.2M297.1 322.2M247.5 317.1M203.8 307.0M218.3 307.0M200.8 296.8M197.9 286.7M200.8 286.7M244.6 286.7M221.3 281.6M227.1 281.6M244.6 261.4M232.9 256.3M286.9 360.2M301.4 334.9M211.1 324.7M222.7 324.7M243.1 319.6M289.8 314.6M205.2 309.5M243.1 304.4M246.0 304.4M202.3 289.2M196.5 284.2M199.4 284.2M219.8 284.2M246.0 284.2M231.5 274.0M234.4 258.8" marker-start="url(#m23)" marker-mid="url(#m23)" marker-end="url(#m23)"/>
<path d="M195.0 398.2M197.9 398.2M203.8 398.2M206.7 393.1M209.6 327.2M218.3 327.2M291.2 322.2M294.2 322.2M197.9 312.0M203.8 312.0M218.3 301.9M218.3 281.6M235.8 281.6M218.3 276.6M232.9 276.6M218.3 261.4M199.4 395.7M202.3 395.7M216.9 395.7M289.8 365.3M301.4 339.9M278.1 334.9M214.0 324.7M225.6 324.7M205.2 314.6M243.1 314.6M243.1 299.4M243.1 294.3M246.0 294.3M222.7 279.1M240.2 263.9M243.1 263.9" marker-start="url(#m24)" marker-mid="url(#m24)" marker-end="url(#m24)"/>
<path d="M218.3 398.2M221.3 398.2M209.6 393.1M212.5 393.1M297.1 357.7M279.6 347.5M227.1 327.2M203.8 317.1M209.6 317.1M218.3 312.0M209.6 307.0M241.7 307.0M247.5 301.9M224.2 296.8M241.7 296.8M244.6 296.8M203.8 286.7M230.0 286.7M192.1 281.6M212.5 281.6M244.6 276.6M230.0 271.5M235.8 271.5M227.1 261.4M235.8 261.4M215.4 256.3M218.3 256.3M224.2 256.3M298.5 355.1M301.4 355.1M278.1 350.1M208.1 324.7M199.4 319.6M222.7 319.6M202.3 304.4M199.4 294.3M219.8 294.3M240.2 294.3M225.6 289.2M246.0 289.2M193.6 284.2M225.6 279.1M231.5 279.1M237.3 279.1M193.6 274.0M240.2 274.0M243.1 274.0M216.9 258.8" marker-start="url(#m25)" marker-mid="url(#m25)" marker-end="url(#m25)"/>
<path d="M206.7 398.2M224.2 398.2M279.6 357.7M282.5 357.7M279.6 352.6M300.0 342.5M203.8 322.2M215.4 322.2M235.8 322.2M241.7 322.2M215.4 317.1M218.3 317.1M221.3 312.0M244.6 312.0M221.3 301.9M244.6 301.9M209.6 296.8M215.4 296.8M218.3 296.8M241.7 291.8M230.0 281.6M238.8 281.6M227.1 266.4M232.9 261.4M238.8 261.4M241.7 261.4M230.0 256.3M235.8 256.3M241.7 256.3M237.3 329.8M228.5 324.7M214.0 319.6M225.6 319.6M214.0 314.6M225.6 314.6M202.3 299.4M216.9 299.4M202.3 294.3M214.0 294.3M211.1 289.2M216.9 289.2M219.8 289.2M202.3 284.2M214.0 284.2M228.5 284.2M193.6 279.1M211.1 279.1M234.4 279.1M243.1 279.1M246.0 279.1M228.5 274.0M225.6 269.0M237.3 269.0M228.5 263.9M234.4 263.9M222.7 258.8" marker-start="url(#m26)" marker-mid="url(#m26)" marker-end="url(#m26)"/>
<path d="M297.1 362.7M297.1 327.2M291.2 317.1M206.7 312.0M212.5 307.0M244.6 307.0M212.5 301.9M212.5 296.8M206.7 291.8M218.3 286.7M238.8 286.7M241.7 286.7M200.8 281.6M232.9 281.6M206.7 276.6M192.1 271.5M224.2 271.5M221.3 266.4M224.2 266.4M230.0 266.4M235.8 266.4M244.6 266.4M211.1 395.7M295.6 360.2M298.5 339.9M196.5 329.8M281.0 324.7M295.6 324.7M216.9 319.6M199.4 314.6M222.7 314.6M216.9 309.5M222.7 309.5M208.1 304.4M211.1 304.4M216.9 304.4M222.7 304.4M214.0 299.4M205.2 294.3M211.1 294.3M214.0 289.2M222.7 284.2M214.0 279.1M240.2 279.1M219.8 274.0M219.8 269.0M219.8 263.9M219.8 258.8" marker-start="url(#m27)" marker-mid="url(#m27)" marker-end="url(#m27)"/>
<path d="M203.8 393.1M285.4 362.7M294.2 362.7M282.5 352.6M300.0 352.6M227.1 322.2M241.7 317.1M238.8 312.0M206.7 301.9M241.7 301.9M221.3 296.8M212.5 291.8M209.6 286.7M221.3 286.7M215.4 281.6M197.9 276.6M221.3 276.6M221.3 271.5M238.8 271.5M192.1 266.4M232.9 266.4M238.8 266.4M195.0 261.4M215.4 261.4M224.2 261.4M196.5 395.7M214.0 395.7M281.0 360.2M281.0 355.1M281.0 350.1M281.0 329.8M298.5 329.8M216.9 324.7M234.4 324.7M228.5 319.6M292.7 319.6M208.1 314.6M211.1 314.6M202.3 309.5M208.1 309.5M205.2 304.4M214.0 304.4M205.2 299.4M216.9 294.3M222.7 289.2M216.9 284.2M231.5 284.2M240.2 284.2M199.4 274.0M214.0 274.0M228.5 258.8" marker-start="url(#m28)" marker-mid="url(#m28)" marker-end="url(#m28)"/>
<path d="M209.6 398.2M291.2 362.7M221.3 322.2M282.5 322.2M285.4 322.2M206.7 317.1M241.7 312.0M221.3 307.0M238.8 307.0M203.8 301.9M209.6 301.9M203.8 296.8M203.8 291.8M224.2 291.8M212.5 286.7M215.4 286.7M224.2 286.7M227.1 286.7M195.0 281.6M203.8 281.6M209.6 281.6M195.0 276.6M235.8 276.6M241.7 271.5M192.1 256.3M195.0 256.3M212.5 256.3M208.1 395.7M292.7 360.2M281.0 334.9M208.1 319.6M240.2 314.6M214.0 309.5M219.8 309.5M240.2 304.4M208.1 299.4M219.8 299.4M222.7 299.4M237.3 289.2M216.9 279.1M219.8 279.1M228.5 279.1M225.6 274.0M193.6 269.0M228.5 269.0M231.5 263.9M193.6 258.8M237.3 258.8" marker-start="url(#m29)" marker-mid="url(#m29)" marker-end="url(#m29)"/>
<path d="M300.0 337.4M300.0 332.3M282.5 327.2M294.2 327.2M288.3 322.2M232.9 317.1M206.7 307.0M215.4 307.0M215.4 301.9M206.7 296.8M215.4 291.8M235.8 286.7M227.1 276.6M218.3 271.5M218.3 266.4M212.5 261.4M230.0 261.4M200.8 256.3M209.6 256.3M221.3 256.3M238.8 256.3M289.8 360.2M281.0 345.0M281.0 339.9M231.5 324.7M284.0 324.7M286.9 319.6M211.1 309.5M219.8 304.4M211.1 299.4M237.3 299.4M208.1 289.2M228.5 289.2M211.1 284.2M234.4 284.2M202.3 279.1M208.1 279.1M222.7 274.0M234.4 274.0M231.5 269.0M231.5 258.8" marker-start="url(#m30)" marker-mid="url(#m30)" marker-end="url(#m30)"/>
<path d="M200.8 398.2M288.3 362.7M285.4 357.7M279.6 342.5M297.1 337.4M285.4 327.2M232.9 322.2M209.6 312.0M212.5 312.0M215.4 312.0M224.2 312.0M235.8 312.0M224.2 307.0M224.2 301.9M238.8 301.9M232.9 296.8M235.8 296.8M206.7 281.6M192.1 276.6M209.6 276.6M212.5 276.6M197.9 271.5M192.1 261.4M203.8 256.3M284.0 355.1M295.6 355.1M298.5 350.1M284.0 329.8M286.9 324.7M292.7 324.7M237.3 319.6M289.8 319.6M219.8 314.6M228.5 314.6M208.1 294.3M222.7 294.3M205.2 289.2M237.3 284.2M196.5 279.1M199.4 279.1M196.5 274.0M216.9 274.0M196.5 269.0M216.9 269.0M222.7 269.0M234.4 269.0M196.5 263.9M216.9 263.9M222.7 263.9" marker-start="url(#m31)" marker-mid="url(#m31)" marker-end="url(#m31)"/>
<path d="M294.2 357.7M285.4 352.6M297.1 352.6M282.5 337.4M288.3 327.2M224.2 322.2M238.8 317.1M209.6 291.8M221.3 291.8M227.1 291.8M200.8 276.6M215.4 276.6M230.0 276.6M212.5 271.5M215.4 271.5M197.9 261.4M197.9 256.3M298.5 334.9M240.2 309.5M234.4 294.3M234.4 289.2M205.2 274.0M211.1 274.0M237.3 274.0M211.1 258.8M214.0 258.8" marker-start="url(#m32)" marker-mid="url(#m32)" marker-end="url(#m32)"/>
<path d="M291.2 357.7M300.0 347.5M282.5 342.5M282.5 332.3M294.2 332.3M291.2 327.2M230.0 322.2M224.2 317.1M227.1 312.0M230.0 291.8M232.9 291.8M203.8 276.6M195.0 271.5M203.8 271.5M232.9 271.5M197.9 266.4M200.8 266.4M212.5 266.4M215.4 266.4M206.7 261.4M286.9 355.1M289.8 355.1M292.7 355.1M289.8 329.8M289.8 324.7M237.3 314.6M240.2 299.4M225.6 294.3M237.3 294.3M205.2 279.1M208.1 274.0M214.0 269.0M214.0 263.9M196.5 258.8M199.4 258.8" marker-start="url(#m33)" marker-mid="url(#m33)" marker-end="url(#m33)"/>
<path d="M297.1 347.5M297.1 332.3M227.1 317.1M235.8 317.1M227.1 307.0M235.8 301.9M230.0 296.8M195.0 266.4M284.0 334.9M231.5 314.6M225.6 309.5M237.3 309.5M225.6 304.4M234.4 304.4M237.3 304.4M234.4 299.4M228.5 294.3M202.3 274.0M193.6 263.9M202.3 258.8" marker-start="url(#m34)" marker-mid="url(#m34)" marker-end="url(#m34)"/>
<path d="M288.3 357.7M288.3 352.6M294.2 352.6M297.1 342.5M230.0 312.0M232.9 312.0M235.8 307.0M227.1 301.9M235.8 291.8M200.8 271.5M206.7 256.3M286.9 350.1M292.7 350.1M298.5 345.0M292.7 339.9M295.6 329.8M234.4 319.6M234.4 309.5M225.6 299.4M231.5 289.2M202.3 269.0" marker-start="url(#m35)" marker-mid="url(#m35)" marker-end="url(#m35)"/>
<path d="M285.4 347.5M294.2 337.4M285.4 332.3M227.1 296.8M203.8 261.4M295.6 350.1M295.6 339.9M292.7 329.8M231.5 319.6M234.4 314.6M228.5 309.5M205.2 269.0M208.1 263.9M205.2 258.8M208.1 258.8" marker-start="url(#m36)" marker-mid="url(#m36)" marker-end="url(#m36)"/>
<path d="M282.5 347.5M285.4 337.4M288.3 332.3M230.0 317.1M232.9 301.9M203.8 266.4M209.6 266.4M284.0 350.1M289.8 350.1M292.7 334.9M231.5 304.4M228.5 299.4M231.5 294.3M199.4 269.0M208.1 269.0M211.1 269.0M211.1 263.9" marker-start="url(#m37)" marker-mid="url(#m37)" marker-end="url(#m37)"/>
<path d="M288.3 347.5M294.2 342.5M230.0 307.0M206.7 271.5M200.8 261.4M284.0 345.0M295.6 345.0M284.0 339.9M289.8 334.9M295.6 334.9M228.5 304.4" marker-start="url(#m38)" marker-mid="url(#m38)" marker-end="url(#m38)"/>
<path d="M291.2 352.6M230.0 301.9M209.6 271.5M206.7 266.4M231.5 309.5M231.5 299.4M199.4 263.9" marker-start="url(#m39)" marker-mid="url(#m39)" marker-end="url(#m39)"/>
<path d="M291.2 347.5M294.2 347.5M285.4 342.5M288.3 342.5M291.2 342.5M288.3 337.4M291.2 337.4M291.2 332.3M232.9 307.0M209.6 261.4M286.9 345.0M289.8 345.0M292.7 345.0M286.9 339.9M289.8 339.9M286.9 334.9M286.9 329.8M202.3 263.9M205.2 263.9" marker-start="url(#m40)" marker-mid="url(#m40)" marker-end="url(#m40)"/>
</g>
<line x1="265.00" y1="256.3" x2="265.00" y2="398.2" stroke="#000" stroke-width="0.9" stroke-dasharray="3.4 1.5"/>
<line x1="192.1" y1="327.4" x2="337.9" y2="327.4" stroke="#000" stroke-width="0.9" stroke-dasharray="3.4 1.5"/>
<rect x="192.10" y="256.3" width="145.80" height="141.90" fill="none" stroke="#555" stroke-width="1"/>
<line x1="192.10" y1="398.2" x2="192.10" y2="400.7" stroke="#555" stroke-width="0.9"/>
<line x1="265.00" y1="398.2" x2="265.00" y2="400.7" stroke="#555" stroke-width="0.9"/>
<line x1="337.90" y1="398.2" x2="337.90" y2="400.7" stroke="#555" stroke-width="0.9"/>
<text x="191.60" y="408.00" font-size="10.2" text-anchor="middle" textLength="11.20" lengthAdjust="spacingAndGlyphs" >−<tspan font-style="italic">π</tspan></text>
<text x="265.00" y="408.00" font-size="9.0" text-anchor="middle" textLength="5.00" lengthAdjust="spacingAndGlyphs" >0</text>
<text x="337.90" y="408.00" font-size="10.2" text-anchor="middle" textLength="5.20" lengthAdjust="spacingAndGlyphs" font-style="italic" >π</text>
<text x="265.00" y="419.50" font-size="11" text-anchor="middle" textLength="6.60" lengthAdjust="spacingAndGlyphs" font-style="italic" >φ</text>
<line x1="189.6" y1="256.3" x2="192.1" y2="256.3" stroke="#555" stroke-width="0.9"/>
<line x1="189.6" y1="327.4" x2="192.1" y2="327.4" stroke="#555" stroke-width="0.9"/>
<line x1="189.6" y1="398.2" x2="192.1" y2="398.2" stroke="#555" stroke-width="0.9"/>
<clipPath id="hc2"><rect x="352.4" y="256.3" width="146.30" height="141.90"/></clipPath>
<g clip-path="url(#hc2)" fill="none" stroke="none">
<path d="M399.2 398.2M475.3 398.2M487.0 398.2M495.8 398.2M428.5 393.1M446.0 393.1M460.7 393.1M463.6 393.1M466.5 393.1M481.1 393.1M387.5 388.1M399.2 388.1M402.1 388.1M408.0 388.1M416.8 388.1M466.5 388.1M489.9 388.1M396.3 383.0M399.2 383.0M419.7 383.0M443.1 383.0M446.0 383.0M463.6 383.0M466.5 383.0M487.0 383.0M358.3 377.9M370.0 377.9M375.8 377.9M384.6 377.9M387.5 377.9M393.4 377.9M396.3 377.9M419.7 377.9M425.5 377.9M428.5 377.9M469.4 377.9M475.3 377.9M492.8 377.9M355.3 372.9M364.1 372.9M384.6 372.9M396.3 372.9M399.2 372.9M466.5 372.9M469.4 372.9M498.7 372.9M358.3 367.8M364.1 367.8M378.7 367.8M390.4 367.8M413.8 367.8M422.6 367.8M425.5 367.8M466.5 367.8M352.4 362.7M355.3 362.7M370.0 362.7M381.7 362.7M393.4 362.7M408.0 362.7M413.8 362.7M419.7 362.7M431.4 362.7M469.4 362.7M489.9 362.7M405.1 357.7M416.8 357.7M419.7 357.7M466.5 357.7M487.0 357.7M492.8 357.7M408.0 352.6M413.8 352.6M422.6 352.6M463.6 352.6M466.5 352.6M489.9 352.6M410.9 347.5M425.5 347.5M466.5 347.5M489.9 347.5M498.7 347.5M410.9 342.5M419.7 342.5M422.6 342.5M466.5 342.5M484.1 342.5M492.8 342.5M428.5 337.4M460.7 337.4M416.8 332.3M425.5 332.3M492.8 332.3M416.8 327.2M422.6 327.2M428.5 327.2M413.8 322.2M484.1 322.2M495.8 322.2M413.8 317.1M460.7 317.1M466.5 317.1M413.8 312.0M498.7 312.0M422.6 307.0M425.5 307.0M466.5 307.0M487.0 307.0M492.8 307.0M410.9 301.9M413.8 301.9M419.7 301.9M422.6 301.9M463.6 301.9M487.0 301.9M416.8 296.8M425.5 296.8M457.7 296.8M469.4 296.8M472.4 296.8M489.9 296.8M492.8 296.8M416.8 291.8M428.5 291.8M460.7 291.8M469.4 291.8M498.7 291.8M419.7 286.7M422.6 286.7M425.5 286.7M454.8 286.7M463.6 286.7M484.1 286.7M419.7 281.6M425.5 281.6M454.8 281.6M463.6 281.6M469.4 281.6M489.9 281.6M419.7 276.6M422.6 276.6M431.4 276.6M487.0 276.6M489.9 276.6M492.8 276.6M498.7 276.6M419.7 271.5M422.6 271.5M431.4 271.5M449.0 271.5M457.7 271.5M463.6 271.5M466.5 271.5M475.3 271.5M478.2 271.5M481.1 271.5M484.1 271.5M487.0 271.5M419.7 266.4M422.6 266.4M446.0 266.4M472.4 266.4M498.7 266.4M410.9 261.4M413.8 261.4M422.6 261.4M428.5 261.4M457.7 261.4M478.2 261.4M422.6 256.3M425.5 256.3M428.5 256.3M449.0 256.3M451.9 256.3M466.5 256.3M478.2 256.3M432.9 395.7M468.0 395.7M485.5 395.7M494.3 395.7M497.2 395.7M400.7 390.6M424.1 390.6M429.9 390.6M432.9 390.6M488.5 390.6M491.4 390.6M494.3 390.6M400.7 385.5M421.2 385.5M424.1 385.5M429.9 385.5M465.1 385.5M468.0 385.5M356.8 380.5M383.1 380.5M397.8 380.5M421.2 380.5M459.2 380.5M468.0 380.5M494.3 380.5M359.7 375.4M368.5 375.4M386.0 375.4M391.9 375.4M397.8 375.4M415.3 375.4M432.9 375.4M494.3 375.4M397.8 370.3M403.6 370.3M418.2 370.3M421.2 370.3M429.9 370.3M444.6 370.3M465.1 370.3M356.8 365.3M362.6 365.3M371.4 365.3M383.1 365.3M394.8 365.3M400.7 365.3M403.6 365.3M409.5 365.3M421.2 365.3M488.5 365.3M403.6 360.2M418.2 360.2M424.1 360.2M497.2 360.2M409.5 355.1M412.4 355.1M421.2 355.1M424.1 355.1M427.0 355.1M459.2 355.1M406.5 350.1M421.2 350.1M424.1 350.1M427.0 350.1M488.5 350.1M412.4 345.0M415.3 345.0M418.2 345.0M421.2 345.0M462.1 345.0M491.4 345.0M497.2 345.0M412.4 339.9M424.1 339.9M429.9 339.9M488.5 339.9M497.2 339.9M415.3 334.9M429.9 334.9M497.2 334.9M353.9 329.8M412.4 329.8M415.3 329.8M421.2 329.8M424.1 329.8M465.1 329.8M488.5 329.8M497.2 329.8M412.4 324.7M418.2 324.7M424.1 324.7M462.1 324.7M415.3 319.6M418.2 319.6M421.2 319.6M424.1 319.6M462.1 319.6M465.1 319.6M494.3 319.6M465.1 314.6M476.8 314.6M497.2 314.6M421.2 309.5M424.1 309.5M427.0 309.5M465.1 309.5M494.3 309.5M497.2 309.5M468.0 304.4M497.2 304.4M421.2 299.4M424.1 299.4M465.1 299.4M485.5 299.4M488.5 299.4M494.3 299.4M415.3 294.3M418.2 294.3M459.2 294.3M465.1 294.3M488.5 294.3M491.4 294.3M412.4 289.2M418.2 289.2M462.1 289.2M470.9 289.2M473.8 289.2M482.6 289.2M488.5 289.2M494.3 289.2M479.7 284.2M485.5 284.2M491.4 284.2M497.2 284.2M412.4 279.1M441.6 279.1M412.4 274.0M418.2 274.0M438.7 274.0M462.1 274.0M465.1 274.0M476.8 274.0M497.2 274.0M427.0 269.0M429.9 269.0M444.6 269.0M450.4 269.0M459.2 269.0M462.1 269.0M465.1 269.0M482.6 269.0M494.3 269.0M450.4 263.9M453.3 263.9M459.2 263.9M465.1 263.9M485.5 263.9M488.5 263.9M491.4 263.9M412.4 258.8M415.3 258.8M424.1 258.8M429.9 258.8M453.3 258.8M465.1 258.8M473.8 258.8M488.5 258.8M491.4 258.8" marker-start="url(#m0)" marker-mid="url(#m0)" marker-end="url(#m0)"/>
<path d="M431.4 398.2M454.8 398.2M466.5 398.2M425.5 393.1M469.4 393.1M484.1 393.1M492.8 393.1M425.5 388.1M431.4 388.1M457.7 388.1M492.8 388.1M355.3 383.0M367.0 383.0M428.5 383.0M437.3 383.0M449.0 383.0M352.4 377.9M422.6 377.9M431.4 377.9M466.5 377.9M352.4 372.9M372.9 372.9M378.7 372.9M381.7 372.9M393.4 372.9M463.6 372.9M492.8 372.9M495.8 372.9M370.0 367.8M375.8 367.8M399.2 367.8M428.5 367.8M454.8 367.8M492.8 367.8M495.8 367.8M498.7 367.8M361.2 362.7M367.0 362.7M402.1 362.7M425.5 362.7M428.5 362.7M454.8 362.7M352.4 357.7M393.4 357.7M408.0 357.7M425.5 357.7M431.4 357.7M437.3 357.7M495.8 357.7M498.7 357.7M355.3 352.6M434.3 352.6M492.8 352.6M495.8 352.6M405.1 347.5M413.8 347.5M463.6 347.5M425.5 342.5M419.7 337.4M425.5 337.4M466.5 337.4M492.8 337.4M405.1 332.3M410.9 332.3M413.8 332.3M498.7 332.3M410.9 327.2M425.5 327.2M463.6 327.2M489.9 327.2M495.8 327.2M410.9 322.2M492.8 322.2M498.7 322.2M425.5 317.1M492.8 317.1M495.8 317.1M425.5 312.0M428.5 312.0M463.6 312.0M410.9 307.0M416.8 307.0M460.7 307.0M495.8 307.0M498.7 307.0M416.8 301.9M492.8 301.9M495.8 301.9M498.7 301.9M419.7 296.8M431.4 296.8M434.3 296.8M460.7 296.8M495.8 296.8M463.6 291.8M457.7 286.7M489.9 286.7M457.7 281.6M460.7 281.6M484.1 281.6M492.8 281.6M416.8 276.6M425.5 276.6M440.2 276.6M443.1 276.6M463.6 276.6M472.4 276.6M408.0 271.5M413.8 271.5M425.5 271.5M440.2 271.5M460.7 271.5M492.8 271.5M495.8 271.5M416.8 266.4M425.5 266.4M440.2 266.4M454.8 266.4M489.9 266.4M434.3 261.4M437.3 261.4M440.2 261.4M446.0 261.4M449.0 261.4M463.6 261.4M492.8 261.4M413.8 256.3M431.4 256.3M437.3 256.3M454.8 256.3M460.7 256.3M463.6 256.3M489.9 256.3M397.8 390.6M459.2 390.6M497.2 390.6M427.0 385.5M353.9 380.5M400.7 380.5M429.9 380.5M435.8 380.5M356.8 375.4M377.3 375.4M380.2 375.4M400.7 375.4M424.1 375.4M429.9 375.4M465.1 375.4M359.7 370.3M362.6 370.3M374.3 370.3M380.2 370.3M386.0 370.3M389.0 370.3M491.4 370.3M497.2 370.3M380.2 365.3M424.1 365.3M438.7 365.3M453.3 365.3M491.4 365.3M494.3 365.3M356.8 360.2M359.7 360.2M380.2 360.2M397.8 360.2M400.7 360.2M406.5 360.2M429.9 360.2M491.4 360.2M494.3 360.2M406.5 355.1M485.5 355.1M409.5 350.1M468.0 350.1M491.4 350.1M494.3 350.1M424.1 345.0M427.0 345.0M459.2 339.9M465.1 339.9M491.4 339.9M494.3 339.9M409.5 334.9M412.4 334.9M424.1 334.9M427.0 334.9M462.1 329.8M491.4 329.8M427.0 324.7M427.0 319.6M432.9 319.6M497.2 319.6M462.1 314.6M491.4 314.6M462.1 309.5M459.2 304.4M488.5 304.4M491.4 304.4M494.3 304.4M462.1 299.4M421.2 289.2M459.2 289.2M468.0 289.2M491.4 289.2M497.2 289.2M412.4 284.2M427.0 284.2M459.2 284.2M415.3 279.1M424.1 279.1M450.4 279.1M456.3 279.1M465.1 279.1M468.0 279.1M491.4 279.1M429.9 274.0M432.9 274.0M459.2 274.0M491.4 274.0M412.4 269.0M415.3 269.0M438.7 269.0M488.5 269.0M432.9 263.9M444.6 263.9M447.5 263.9M470.9 263.9M473.8 263.9M479.7 263.9M418.2 258.8M432.9 258.8M441.6 258.8M444.6 258.8M447.5 258.8M450.4 258.8M462.1 258.8" marker-start="url(#m6)" marker-mid="url(#m6)" marker-end="url(#m6)"/>
<path d="M396.3 398.2M437.3 398.2M440.2 398.2M446.0 398.2M396.3 393.1M431.4 393.1M495.8 393.1M396.3 388.1M498.7 388.1M387.5 383.0M457.7 383.0M460.7 383.0M364.1 377.9M495.8 377.9M375.8 372.9M390.4 372.9M425.5 372.9M434.3 372.9M446.0 372.9M355.3 367.8M372.9 367.8M437.3 367.8M489.9 367.8M372.9 362.7M390.4 362.7M399.2 362.7M434.3 362.7M460.7 362.7M463.6 362.7M466.5 362.7M498.7 362.7M428.5 357.7M352.4 352.6M408.0 347.5M495.8 342.5M408.0 337.4M410.9 337.4M431.4 337.4M408.0 332.3M428.5 332.3M463.6 332.3M495.8 332.3M492.8 327.2M498.7 327.2M425.5 322.2M495.8 312.0M428.5 307.0M408.0 301.9M425.5 301.9M428.5 301.9M410.9 296.8M498.7 296.8M410.9 291.8M410.9 286.7M413.8 286.7M428.5 286.7M434.3 286.7M460.7 286.7M495.8 286.7M410.9 281.6M428.5 281.6M449.0 281.6M495.8 281.6M498.7 281.6M449.0 276.6M451.9 276.6M454.8 276.6M428.5 271.5M498.7 271.5M410.9 266.4M431.4 266.4M434.3 266.4M460.7 266.4M431.4 261.4M443.1 261.4M451.9 261.4M460.7 261.4M481.1 261.4M495.8 261.4M443.1 256.3M469.4 256.3M498.7 256.3M462.1 395.7M441.6 390.6M450.4 390.6M383.1 385.5M391.9 385.5M394.8 385.5M397.8 385.5M435.8 385.5M438.7 385.5M444.6 385.5M497.2 385.5M365.6 380.5M380.2 380.5M389.0 380.5M432.9 380.5M465.1 380.5M497.2 380.5M365.6 375.4M383.1 375.4M389.0 375.4M394.8 375.4M447.5 375.4M453.3 375.4M368.5 370.3M432.9 370.3M450.4 370.3M459.2 370.3M391.9 365.3M462.1 365.3M497.2 365.3M386.0 360.2M391.9 360.2M427.0 360.2M462.1 360.2M465.1 360.2M432.9 355.1M494.3 355.1M497.2 350.1M353.9 345.0M459.2 345.0M409.5 324.7M412.4 319.6M435.8 319.6M353.9 314.6M412.4 314.6M427.0 314.6M429.9 309.5M444.6 309.5M447.5 309.5M412.4 304.4M427.0 304.4M462.1 304.4M453.3 299.4M459.2 299.4M435.8 294.3M497.2 294.3M418.2 284.2M427.0 279.1M435.8 279.1M494.3 279.1M497.2 279.1M409.5 274.0M435.8 274.0M441.6 274.0M444.6 274.0M450.4 274.0M424.1 269.0M435.8 269.0M456.3 269.0M497.2 269.0M438.7 263.9M456.3 263.9M482.6 263.9M494.3 263.9M409.5 258.8M456.3 258.8M459.2 258.8" marker-start="url(#m9)" marker-mid="url(#m9)" marker-end="url(#m9)"/>
<path d="M434.3 398.2M443.1 398.2M449.0 398.2M463.6 398.2M498.7 398.2M451.9 393.1M454.8 393.1M457.7 393.1M495.8 388.1M352.4 383.0M372.9 383.0M381.7 383.0M390.4 383.0M498.7 383.0M449.0 377.9M454.8 377.9M463.6 377.9M367.0 372.9M431.4 372.9M457.7 372.9M361.2 367.8M367.0 367.8M384.6 367.8M387.5 367.8M393.4 367.8M396.3 367.8M451.9 367.8M457.7 367.8M358.3 362.7M378.7 362.7M449.0 362.7M492.8 362.7M495.8 362.7M399.2 357.7M405.1 352.6M428.5 347.5M495.8 347.5M408.0 342.5M428.5 342.5M457.7 342.5M498.7 342.5M431.4 332.3M460.7 332.3M408.0 327.2M355.3 322.2M428.5 322.2M434.3 322.2M454.8 322.2M408.0 317.1M457.7 317.1M410.9 312.0M454.8 312.0M492.8 312.0M413.8 307.0M457.7 307.0M463.6 307.0M454.8 301.9M460.7 301.9M352.4 296.8M431.4 291.8M457.7 291.8M495.8 291.8M431.4 281.6M410.9 276.6M446.0 276.6M457.7 276.6M434.3 271.5M443.1 271.5M451.9 271.5M428.5 266.4M498.7 261.4M408.0 256.3M410.9 256.3M353.9 395.7M441.6 395.7M453.3 395.7M394.8 390.6M427.0 390.6M456.3 390.6M465.1 390.6M380.2 385.5M362.6 380.5M368.5 380.5M371.4 380.5M374.3 380.5M394.8 380.5M453.3 380.5M362.6 375.4M374.3 375.4M438.7 375.4M459.2 375.4M462.1 375.4M353.9 370.3M356.8 370.3M391.9 370.3M462.1 370.3M359.7 365.3M368.5 365.3M377.3 365.3M389.0 365.3M427.0 365.3M429.9 365.3M435.8 365.3M383.1 360.2M356.8 355.1M403.6 355.1M453.3 355.1M429.9 350.1M435.8 350.1M356.8 345.0M465.1 345.0M353.9 339.9M427.0 339.9M406.5 334.9M462.1 334.9M494.3 334.9M429.9 329.8M494.3 329.8M494.3 324.7M494.3 314.6M459.2 309.5M441.6 304.4M427.0 299.4M456.3 299.4M497.2 299.4M412.4 294.3M453.3 294.3M494.3 294.3M356.8 289.2M427.0 289.2M465.1 289.2M441.6 284.2M418.2 279.1M429.9 279.1M447.5 279.1M453.3 279.1M459.2 279.1M456.3 274.0M409.5 269.0M441.6 269.0M491.4 269.0M427.0 258.8M494.3 258.8" marker-start="url(#m11)" marker-mid="url(#m11)" marker-end="url(#m11)"/>
<path d="M361.2 398.2M460.7 398.2M437.3 393.1M440.2 393.1M434.3 388.1M443.1 388.1M460.7 388.1M463.6 388.1M361.2 383.0M378.7 383.0M355.3 377.9M367.0 377.9M372.9 377.9M378.7 377.9M446.0 377.9M498.7 377.9M440.2 367.8M463.6 367.8M437.3 362.7M457.7 362.7M355.3 357.7M434.3 357.7M460.7 357.7M460.7 352.6M352.4 347.5M375.8 347.5M431.4 347.5M460.7 342.5M352.4 337.4M405.1 337.4M451.9 337.4M463.6 337.4M495.8 337.4M454.8 332.3M454.8 327.2M437.3 322.2M457.7 322.2M460.7 322.2M428.5 317.1M399.2 312.0M451.9 307.0M355.3 301.9M449.0 301.9M457.7 301.9M413.8 296.8M437.3 291.8M492.8 291.8M408.0 286.7M449.0 286.7M498.7 286.7M440.2 281.6M434.3 276.6M437.3 276.6M437.3 271.5M443.1 266.4M449.0 266.4M451.9 266.4M408.0 261.4M405.1 256.3M457.7 256.3M492.8 256.3M495.8 256.3M427.0 395.7M429.9 395.7M453.3 390.6M374.3 385.5M386.0 380.5M444.6 380.5M435.8 375.4M456.3 375.4M453.3 370.3M444.6 365.3M456.3 365.3M465.1 365.3M353.9 360.2M365.6 360.2M368.5 360.2M371.4 360.2M432.9 350.1M429.9 345.0M447.5 339.9M462.1 339.9M447.5 334.9M432.9 324.7M435.8 314.6M353.9 309.5M438.7 309.5M453.3 309.5M450.4 304.4M353.9 299.4M409.5 299.4M412.4 299.4M429.9 299.4M453.3 289.2M456.3 289.2M456.3 284.2M447.5 274.0M418.2 269.0M453.3 269.0M409.5 263.9M412.4 263.9M435.8 263.9M497.2 263.9" marker-start="url(#m13)" marker-mid="url(#m13)" marker-end="url(#m13)"/>
<path d="M393.4 398.2M434.3 393.1M443.1 393.1M449.0 393.1M437.3 388.1M446.0 388.1M449.0 388.1M451.9 388.1M364.1 383.0M428.5 372.9M443.1 372.9M460.7 372.9M364.1 362.7M440.2 362.7M443.1 362.7M375.8 357.7M437.3 352.6M355.3 347.5M454.8 347.5M446.0 342.5M355.3 337.4M460.7 327.2M410.9 317.1M437.3 317.1M408.0 312.0M460.7 312.0M437.3 307.0M443.1 307.0M434.3 301.9M440.2 301.9M408.0 296.8M449.0 296.8M408.0 291.8M425.5 291.8M451.9 286.7M408.0 281.6M437.3 281.6M451.9 281.6M495.8 276.6M410.9 271.5M454.8 271.5M408.0 266.4M457.7 266.4M434.3 256.3M397.8 395.7M450.4 395.7M356.8 390.6M391.9 390.6M438.7 390.6M353.9 385.5M386.0 385.5M432.9 385.5M462.1 385.5M494.3 385.5M391.9 380.5M456.3 380.5M444.6 375.4M441.6 370.3M432.9 365.3M377.3 360.2M438.7 360.2M353.9 355.1M497.2 355.1M359.7 350.1M362.6 350.1M438.7 350.1M400.7 345.0M432.9 339.9M353.9 334.9M438.7 334.9M435.8 324.7M450.4 314.6M456.3 314.6M412.4 309.5M450.4 309.5M456.3 309.5M409.5 304.4M435.8 304.4M444.6 304.4M453.3 304.4M409.5 294.3M432.9 289.2M441.6 289.2M444.6 289.2M429.9 284.2M438.7 284.2M450.4 284.2M409.5 279.1M453.3 274.0M494.3 274.0M447.5 269.0" marker-start="url(#m15)" marker-mid="url(#m15)" marker-end="url(#m15)"/>
<path d="M358.3 383.0M370.0 383.0M440.2 383.0M451.9 383.0M434.3 377.9M437.3 377.9M370.0 372.9M434.3 367.8M443.1 367.8M449.0 367.8M396.3 362.7M361.2 357.7M381.7 357.7M402.1 352.6M454.8 352.6M460.7 347.5M405.1 342.5M434.3 337.4M457.7 337.4M457.7 332.3M352.4 327.2M434.3 327.2M449.0 322.2M451.9 317.1M440.2 312.0M352.4 307.0M428.5 296.8M451.9 296.8M355.3 291.8M434.3 291.8M454.8 291.8M352.4 286.7M437.3 286.7M440.2 286.7M443.1 286.7M492.8 286.7M434.3 281.6M443.1 281.6M444.6 395.7M459.2 395.7M444.6 390.6M359.7 385.5M371.4 385.5M377.3 385.5M447.5 385.5M453.3 385.5M456.3 385.5M377.3 380.5M435.8 370.3M447.5 370.3M456.3 370.3M447.5 365.3M394.8 360.2M435.8 360.2M450.4 360.2M456.3 360.2M435.8 355.1M365.6 350.1M403.6 350.1M432.9 345.0M435.8 339.9M432.9 329.8M435.8 329.8M459.2 329.8M459.2 324.7M353.9 319.6M429.9 319.6M356.8 314.6M391.9 314.6M429.9 314.6M409.5 309.5M359.7 299.4M441.6 299.4M353.9 294.3M438.7 294.3M444.6 294.3M450.4 294.3M409.5 289.2M450.4 289.2M435.8 284.2M453.3 284.2M444.6 279.1M403.6 269.0M406.5 269.0M438.7 258.8M497.2 258.8" marker-start="url(#m16)" marker-mid="url(#m16)" marker-end="url(#m16)"/>
<path d="M358.3 398.2M451.9 398.2M361.2 388.1M440.2 388.1M375.8 383.0M393.4 383.0M431.4 383.0M454.8 383.0M451.9 377.9M361.2 372.9M440.2 372.9M431.4 367.8M387.5 362.7M378.7 357.7M384.6 357.7M396.3 357.7M449.0 357.7M457.7 357.7M431.4 352.6M440.2 347.5M457.7 347.5M358.3 342.5M431.4 342.5M443.1 337.4M446.0 327.2M408.0 322.2M446.0 322.2M352.4 317.1M434.3 312.0M399.2 307.0M405.1 307.0M454.8 307.0M352.4 301.9M396.3 301.9M405.1 301.9M446.0 286.7M396.3 276.6M359.7 395.7M383.1 395.7M435.8 395.7M380.2 390.6M362.6 385.5M447.5 380.5M441.6 375.4M450.4 375.4M353.9 365.3M459.2 365.3M374.3 360.2M432.9 360.2M362.6 355.1M389.0 355.1M397.8 355.1M400.7 355.1M444.6 355.1M456.3 350.1M403.6 345.0M391.9 339.9M403.6 339.9M406.5 339.9M391.9 334.9M432.9 334.9M353.9 324.7M429.9 324.7M450.4 324.7M365.6 319.6M459.2 319.6M359.7 314.6M429.9 304.4M432.9 299.4M444.6 299.4M435.8 289.2M406.5 279.1M438.7 279.1M432.9 269.0" marker-start="url(#m17)" marker-mid="url(#m17)" marker-end="url(#m17)"/>
<path d="M381.7 398.2M384.6 393.1M393.4 393.1M393.4 388.1M443.1 377.9M449.0 372.9M460.7 367.8M384.6 362.7M446.0 362.7M440.2 357.7M434.3 347.5M437.3 347.5M367.0 342.5M437.3 342.5M440.2 337.4M449.0 337.4M402.1 327.2M431.4 327.2M457.7 327.2M431.4 322.2M431.4 317.1M434.3 317.1M454.8 317.1M352.4 312.0M457.7 312.0M446.0 301.9M454.8 296.8M358.3 291.8M440.2 291.8M446.0 291.8M449.0 291.8M431.4 286.7M446.0 281.6M446.0 271.5M405.1 261.4M380.2 395.7M394.8 395.7M438.7 395.7M456.3 395.7M353.9 390.6M462.1 390.6M356.8 385.5M359.7 380.5M441.6 380.5M459.2 360.2M383.1 355.1M353.9 350.1M394.8 350.1M438.7 345.0M356.8 339.9M406.5 324.7M438.7 324.7M359.7 319.6M409.5 319.6M432.9 309.5M432.9 304.4M447.5 304.4M391.9 299.4M438.7 299.4M356.8 294.3M394.8 289.2M429.9 289.2M447.5 289.2M432.9 284.2" marker-start="url(#m18)" marker-mid="url(#m18)" marker-end="url(#m18)"/>
<path d="M372.9 393.1M375.8 393.1M364.1 388.1M372.9 388.1M378.7 388.1M381.7 388.1M434.3 383.0M440.2 377.9M457.7 377.9M460.7 377.9M446.0 367.8M358.3 357.7M364.1 352.6M387.5 352.6M399.2 352.6M399.2 347.5M446.0 347.5M434.3 332.3M355.3 327.2M437.3 327.2M405.1 322.2M355.3 317.1M387.5 317.1M355.3 312.0M431.4 312.0M443.1 312.0M375.8 307.0M408.0 307.0M443.1 301.9M451.9 301.9M440.2 296.8M396.3 291.8M405.1 281.6M365.6 390.6M447.5 390.6M441.6 385.5M459.2 385.5M362.6 360.2M389.0 360.2M453.3 360.2M374.3 355.1M441.6 355.1M356.8 350.1M441.6 350.1M450.4 350.1M459.2 350.1M453.3 345.0M403.6 334.9M441.6 334.9M456.3 334.9M459.2 334.9M406.5 329.8M356.8 324.7M453.3 324.7M383.1 319.6M441.6 319.6M456.3 319.6M368.5 314.6M377.3 314.6M444.6 314.6M459.2 314.6M353.9 304.4M371.4 304.4M403.6 299.4M365.6 294.3M432.9 294.3M406.5 284.2M409.5 284.2M444.6 284.2M406.5 274.0" marker-start="url(#m19)" marker-mid="url(#m19)" marker-end="url(#m19)"/>
<path d="M355.3 398.2M364.1 393.1M367.0 388.1M454.8 388.1M451.9 372.9M454.8 372.9M364.1 357.7M390.4 357.7M393.4 352.6M440.2 352.6M355.3 342.5M402.1 342.5M352.4 332.3M437.3 332.3M367.0 327.2M387.5 327.2M405.1 327.2M440.2 327.2M446.0 317.1M437.3 301.9M437.3 296.8M372.9 291.8M375.8 286.7M402.1 286.7M364.1 281.6M362.6 395.7M386.0 395.7M435.8 390.6M365.6 385.5M368.5 385.5M389.0 385.5M447.5 360.2M359.7 355.1M377.3 355.1M450.4 355.1M394.8 339.9M397.8 339.9M400.7 339.9M450.4 339.9M389.0 329.8M397.8 329.8M444.6 329.8M406.5 319.6M450.4 319.6M409.5 314.6M365.6 309.5M403.6 304.4M435.8 299.4M447.5 299.4M400.7 294.3M429.9 294.3M456.3 294.3M394.8 284.2M397.8 279.1" marker-start="url(#m20)" marker-mid="url(#m20)" marker-end="url(#m20)"/>
<path d="M364.1 398.2M367.0 398.2M372.9 398.2M378.7 398.2M370.0 393.1M352.4 388.1M370.0 388.1M390.4 388.1M384.6 383.0M437.3 372.9M451.9 362.7M367.0 357.7M387.5 357.7M454.8 357.7M446.0 352.6M364.1 347.5M372.9 347.5M378.7 347.5M393.4 347.5M396.3 347.5M449.0 347.5M451.9 347.5M352.4 342.5M364.1 342.5M375.8 342.5M399.2 337.4M402.1 332.3M440.2 332.3M449.0 332.3M358.3 327.2M449.0 327.2M352.4 322.2M367.0 322.2M440.2 322.2M451.9 322.2M358.3 317.1M370.0 317.1M372.9 317.1M399.2 317.1M440.2 317.1M437.3 312.0M449.0 312.0M451.9 312.0M355.3 307.0M381.7 307.0M434.3 307.0M440.2 307.0M358.3 301.9M364.1 301.9M402.1 301.9M431.4 301.9M355.3 296.8M364.1 296.8M446.0 296.8M443.1 291.8M451.9 291.8M355.3 286.7M405.1 286.7M408.0 276.6M399.2 271.5M393.4 261.4M399.2 256.3M402.1 256.3M368.5 395.7M374.3 395.7M389.0 395.7M391.9 395.7M447.5 395.7M383.1 390.6M450.4 385.5M438.7 370.3M441.6 365.3M444.6 360.2M371.4 355.1M391.9 355.1M456.3 355.1M377.3 350.1M371.4 345.0M394.8 345.0M435.8 345.0M444.6 345.0M371.4 339.9M438.7 339.9M444.6 339.9M365.6 334.9M444.6 334.9M450.4 334.9M362.6 329.8M403.6 329.8M441.6 329.8M456.3 329.8M383.1 324.7M356.8 319.6M406.5 314.6M432.9 314.6M438.7 314.6M453.3 314.6M406.5 309.5M435.8 309.5M438.7 304.4M456.3 304.4M406.5 299.4M359.7 294.3M362.6 294.3M380.2 294.3M447.5 294.3M353.9 289.2M389.0 289.2M438.7 289.2M447.5 284.2M353.9 279.1M391.9 274.0M397.8 269.0M406.5 263.9M406.5 258.8" marker-start="url(#m21)" marker-mid="url(#m21)" marker-end="url(#m21)"/>
<path d="M352.4 393.1M390.4 393.1M358.3 388.1M370.0 357.7M446.0 357.7M370.0 352.6M384.6 352.6M390.4 352.6M451.9 352.6M457.7 352.6M358.3 347.5M387.5 347.5M393.4 342.5M440.2 342.5M446.0 337.4M454.8 337.4M355.3 332.3M358.3 332.3M443.1 332.3M375.8 327.2M393.4 327.2M358.3 322.2M405.1 317.1M372.9 312.0M446.0 312.0M431.4 307.0M446.0 307.0M449.0 307.0M361.2 301.9M370.0 301.9M381.7 301.9M390.4 301.9M443.1 296.8M352.4 291.8M358.3 286.7M361.2 286.7M390.4 286.7M402.1 276.6M405.1 266.4M390.4 261.4M396.3 256.3M365.6 395.7M368.5 390.6M450.4 380.5M441.6 360.2M365.6 355.1M438.7 355.1M447.5 355.1M368.5 350.1M447.5 350.1M453.3 350.1M362.6 345.0M389.0 345.0M359.7 339.9M365.6 339.9M386.0 339.9M389.0 339.9M456.3 339.9M380.2 334.9M400.7 334.9M371.4 329.8M400.7 324.7M447.5 324.7M438.7 319.6M447.5 319.6M380.2 314.6M389.0 314.6M400.7 314.6M403.6 314.6M362.6 309.5M356.8 304.4M374.3 304.4M450.4 299.4M394.8 294.3M391.9 289.2M386.0 274.0M397.8 274.0M400.7 269.0M394.8 258.8" marker-start="url(#m22)" marker-mid="url(#m22)" marker-end="url(#m22)"/>
<path d="M370.0 398.2M384.6 398.2M355.3 393.1M355.3 388.1M375.8 388.1M384.6 388.1M372.9 357.7M367.0 352.6M381.7 352.6M361.2 342.5M378.7 342.5M396.3 342.5M443.1 342.5M454.8 342.5M381.7 337.4M396.3 337.4M402.1 337.4M437.3 337.4M367.0 332.3M396.3 332.3M451.9 332.3M399.2 327.2M451.9 327.2M390.4 322.2M396.3 322.2M443.1 322.2M361.2 317.1M443.1 317.1M396.3 312.0M405.1 312.0M358.3 296.8M361.2 296.8M367.0 291.8M384.6 291.8M405.1 291.8M364.1 286.7M399.2 276.6M402.1 261.4M390.4 256.3M389.0 390.6M450.4 365.3M368.5 355.1M386.0 355.1M371.4 350.1M380.2 350.1M359.7 345.0M397.8 345.0M441.6 345.0M450.4 345.0M368.5 339.9M438.7 329.8M450.4 329.8M359.7 324.7M362.6 324.7M394.8 324.7M456.3 324.7M362.6 319.6M368.5 319.6M400.7 319.6M386.0 314.6M441.6 314.6M368.5 309.5M441.6 309.5M362.6 304.4M400.7 304.4M362.6 299.4M371.4 299.4M374.3 299.4M441.6 294.3M400.7 289.2M403.6 284.2M400.7 279.1M400.7 274.0M394.8 269.0M386.0 258.8" marker-start="url(#m23)" marker-mid="url(#m23)" marker-end="url(#m23)"/>
<path d="M375.8 398.2M387.5 398.2M390.4 398.2M358.3 393.1M387.5 393.1M443.1 357.7M378.7 352.6M396.3 352.6M370.0 347.5M451.9 342.5M378.7 337.4M393.4 337.4M384.6 332.3M361.2 327.2M361.2 322.2M381.7 322.2M393.4 322.2M367.0 317.1M378.7 317.1M358.3 312.0M402.1 312.0M358.3 307.0M372.9 301.9M375.8 301.9M375.8 296.8M405.1 296.8M361.2 291.8M378.7 291.8M384.6 286.7M387.5 286.7M399.2 286.7M390.4 281.6M396.3 281.6M393.4 276.6M402.1 271.5M356.8 395.7M438.7 380.5M400.7 350.1M377.3 345.0M456.3 345.0M374.3 339.9M383.1 339.9M441.6 339.9M453.3 339.9M362.6 334.9M394.8 334.9M435.8 334.9M377.3 329.8M383.1 329.8M391.9 329.8M447.5 329.8M453.3 329.8M371.4 324.7M397.8 324.7M403.6 324.7M386.0 319.6M403.6 319.6M444.6 319.6M453.3 319.6M362.6 314.6M374.3 309.5M380.2 309.5M389.0 309.5M397.8 309.5M403.6 309.5M391.9 304.4M406.5 304.4M371.4 289.2M406.5 289.2M353.9 284.2M380.2 284.2M383.1 284.2M403.6 279.1" marker-start="url(#m24)" marker-mid="url(#m24)" marker-end="url(#m24)"/>
<path d="M352.4 398.2M361.2 393.1M378.7 393.1M451.9 357.7M361.2 352.6M372.9 352.6M443.1 352.6M384.6 347.5M390.4 347.5M443.1 347.5M370.0 342.5M381.7 342.5M399.2 342.5M434.3 342.5M358.3 337.4M361.2 337.4M364.1 337.4M370.0 332.3M390.4 332.3M384.6 327.2M364.1 322.2M370.0 322.2M375.8 322.2M378.7 322.2M402.1 322.2M402.1 317.1M378.7 307.0M396.3 307.0M396.3 296.8M402.1 291.8M372.9 286.7M396.3 286.7M352.4 281.6M378.7 281.6M393.4 281.6M381.7 276.6M381.7 271.5M387.5 271.5M393.4 271.5M387.5 266.4M402.1 266.4M371.4 395.7M362.6 390.6M377.3 390.6M386.0 390.6M380.2 355.1M391.9 350.1M374.3 345.0M383.1 345.0M391.9 345.0M380.2 339.9M356.8 334.9M374.3 334.9M377.3 334.9M359.7 329.8M368.5 329.8M386.0 329.8M380.2 324.7M391.9 324.7M371.4 319.6M377.3 319.6M391.9 319.6M447.5 314.6M371.4 309.5M368.5 304.4M368.5 294.3M403.6 294.3M406.5 294.3M365.6 289.2M374.3 289.2M403.6 289.2M356.8 284.2M368.5 284.2M400.7 284.2M362.6 279.1M371.4 279.1M389.0 258.8M403.6 258.8" marker-start="url(#m25)" marker-mid="url(#m25)" marker-end="url(#m25)"/>
<path d="M367.0 393.1M381.7 393.1M358.3 352.6M375.8 352.6M361.2 347.5M367.0 347.5M381.7 347.5M372.9 342.5M384.6 342.5M367.0 337.4M370.0 337.4M384.6 337.4M390.4 337.4M361.2 332.3M364.1 332.3M372.9 332.3M370.0 327.2M443.1 327.2M375.8 317.1M381.7 317.1M361.2 312.0M367.0 312.0M370.0 312.0M375.8 312.0M361.2 307.0M367.0 307.0M384.6 307.0M387.5 301.9M372.9 296.8M381.7 291.8M387.5 291.8M393.4 286.7M367.0 281.6M387.5 281.6M402.1 281.6M390.4 276.6M358.3 271.5M405.1 271.5M393.4 266.4M396.3 261.4M352.4 256.3M364.1 256.3M387.5 256.3M377.3 395.7M371.4 390.6M374.3 390.6M389.0 350.1M444.6 350.1M365.6 345.0M362.6 339.9M359.7 334.9M386.0 334.9M397.8 334.9M356.8 329.8M394.8 329.8M441.6 324.7M444.6 324.7M394.8 319.6M383.1 314.6M397.8 314.6M386.0 309.5M394.8 309.5M400.7 309.5M359.7 304.4M365.6 304.4M389.0 304.4M368.5 299.4M389.0 299.4M400.7 299.4M383.1 294.3M359.7 289.2M383.1 289.2M397.8 289.2M371.4 284.2M386.0 284.2M397.8 284.2M383.1 279.1M389.0 279.1M383.1 274.0M394.8 274.0M403.6 274.0M394.8 263.9M383.1 258.8" marker-start="url(#m26)" marker-mid="url(#m26)" marker-end="url(#m26)"/>
<path d="M402.1 347.5M387.5 342.5M375.8 337.4M387.5 337.4M399.2 332.3M446.0 332.3M387.5 322.2M364.1 317.1M370.0 307.0M372.9 307.0M402.1 307.0M378.7 296.8M381.7 296.8M370.0 291.8M390.4 291.8M367.0 286.7M378.7 286.7M381.7 286.7M399.2 281.6M375.8 276.6M405.1 276.6M387.5 261.4M393.4 256.3M359.7 390.6M394.8 355.1M397.8 350.1M377.3 339.9M371.4 334.9M453.3 334.9M365.6 329.8M368.5 324.7M374.3 319.6M371.4 314.6M374.3 314.6M377.3 309.5M377.3 304.4M397.8 304.4M356.8 299.4M397.8 299.4M391.9 294.3M359.7 284.2M389.0 284.2M380.2 279.1M394.8 279.1M389.0 269.0M391.9 263.9M397.8 263.9M400.7 263.9M403.6 263.9M391.9 258.8M400.7 258.8" marker-start="url(#m27)" marker-mid="url(#m27)" marker-end="url(#m27)"/>
<path d="M449.0 352.6M390.4 342.5M449.0 342.5M375.8 332.3M378.7 332.3M387.5 332.3M372.9 327.2M378.7 327.2M381.7 327.2M396.3 327.2M372.9 322.2M384.6 322.2M399.2 322.2M390.4 317.1M393.4 317.1M396.3 317.1M390.4 312.0M364.1 307.0M393.4 307.0M367.0 301.9M393.4 301.9M370.0 296.8M387.5 296.8M390.4 296.8M399.2 291.8M355.3 281.6M361.2 281.6M372.9 281.6M384.6 281.6M364.1 276.6M361.2 271.5M378.7 271.5M390.4 271.5M390.4 266.4M396.3 266.4M399.2 266.4M399.2 261.4M383.1 350.1M386.0 350.1M368.5 345.0M447.5 345.0M374.3 329.8M377.3 324.7M389.0 324.7M380.2 304.4M394.8 304.4M365.6 299.4M377.3 299.4M383.1 299.4M374.3 294.3M389.0 294.3M386.0 289.2M356.8 279.1M368.5 279.1M374.3 279.1M374.3 274.0M386.0 269.0M391.9 269.0M386.0 263.9M380.2 258.8" marker-start="url(#m28)" marker-mid="url(#m28)" marker-end="url(#m28)"/>
<path d="M372.9 337.4M393.4 332.3M364.1 327.2M390.4 327.2M364.1 312.0M378.7 312.0M381.7 312.0M393.4 312.0M384.6 301.9M399.2 301.9M367.0 296.8M384.6 296.8M375.8 291.8M370.0 286.7M375.8 281.6M358.3 276.6M361.2 276.6M367.0 276.6M378.7 266.4M381.7 266.4M370.0 261.4M384.6 261.4M381.7 256.3M380.2 345.0M386.0 345.0M368.5 334.9M389.0 334.9M380.2 329.8M365.6 324.7M374.3 324.7M386.0 324.7M397.8 319.6M365.6 314.6M394.8 314.6M356.8 309.5M383.1 309.5M383.1 304.4M371.4 294.3M377.3 294.3M397.8 294.3M362.6 289.2M362.6 284.2M365.6 279.1M377.3 279.1M391.9 279.1M353.9 274.0M383.1 269.0M389.0 263.9" marker-start="url(#m29)" marker-mid="url(#m29)" marker-end="url(#m29)"/>
<path d="M384.6 317.1M449.0 317.1M387.5 307.0M390.4 307.0M378.7 301.9M393.4 296.8M393.4 291.8M381.7 281.6M352.4 276.6M372.9 276.6M387.5 276.6M364.1 271.5M384.6 271.5M383.1 334.9M400.7 329.8M380.2 319.6M380.2 299.4M386.0 299.4M394.8 299.4M380.2 289.2M365.6 284.2M374.3 284.2M359.7 274.0M356.8 269.0M374.3 269.0M374.3 263.9M397.8 258.8" marker-start="url(#m30)" marker-mid="url(#m30)" marker-end="url(#m30)"/>
<path d="M384.6 312.0M387.5 312.0M399.2 296.8M402.1 296.8M364.1 291.8M358.3 281.6M355.3 276.6M367.0 271.5M355.3 266.4M375.8 266.4M384.6 266.4M352.4 261.4M361.2 261.4M375.8 261.4M381.7 261.4M355.3 256.3M372.9 256.3M384.6 256.3M374.3 350.1M389.0 319.6M391.9 309.5M386.0 304.4M386.0 294.3M377.3 284.2M386.0 279.1M356.8 274.0M362.6 274.0M380.2 274.0M380.2 269.0M356.8 263.9" marker-start="url(#m31)" marker-mid="url(#m31)" marker-end="url(#m31)"/>
<path d="M381.7 332.3M370.0 276.6M378.7 276.6M384.6 276.6M396.3 271.5M355.3 261.4M364.1 261.4M361.2 256.3M378.7 256.3M359.7 309.5M368.5 289.2M377.3 289.2M391.9 284.2M389.0 274.0M380.2 263.9M365.6 258.8" marker-start="url(#m32)" marker-mid="url(#m32)" marker-end="url(#m32)"/>
<path d="M370.0 281.6M355.3 271.5M352.4 266.4M358.3 261.4M367.0 261.4M370.0 256.3M371.4 274.0M377.3 274.0M353.9 269.0M362.6 269.0M368.5 269.0M356.8 258.8M374.3 258.8" marker-start="url(#m33)" marker-mid="url(#m33)" marker-end="url(#m33)"/>
<path d="M352.4 271.5M370.0 271.5M375.8 271.5M358.3 256.3M359.7 279.1M377.3 263.9M353.9 258.8M359.7 258.8M371.4 258.8" marker-start="url(#m34)" marker-mid="url(#m34)" marker-end="url(#m34)"/>
<path d="M378.7 261.4M375.8 256.3M371.4 269.0M377.3 269.0M362.6 263.9M365.6 263.9M383.1 263.9" marker-start="url(#m35)" marker-mid="url(#m35)" marker-end="url(#m35)"/>
<path d="M358.3 266.4M361.2 266.4M364.1 266.4M367.0 266.4M359.7 269.0M365.6 269.0M371.4 263.9M377.3 258.8" marker-start="url(#m36)" marker-mid="url(#m36)" marker-end="url(#m36)"/>
<path d="M372.9 271.5M372.9 266.4M372.9 261.4M367.0 256.3M365.6 274.0M368.5 274.0M353.9 263.9M359.7 263.9M362.6 258.8" marker-start="url(#m37)" marker-mid="url(#m37)" marker-end="url(#m37)"/>
<path d="M370.0 266.4" marker-start="url(#m38)" marker-mid="url(#m38)" marker-end="url(#m38)"/>
<path d="M368.5 263.9M368.5 258.8" marker-start="url(#m40)" marker-mid="url(#m40)" marker-end="url(#m40)"/>
</g>
<line x1="425.55" y1="256.3" x2="425.55" y2="398.2" stroke="#000" stroke-width="0.9" stroke-dasharray="3.4 1.5"/>
<line x1="352.4" y1="327.4" x2="498.7" y2="327.4" stroke="#000" stroke-width="0.9" stroke-dasharray="3.4 1.5"/>
<rect x="352.40" y="256.3" width="146.30" height="141.90" fill="none" stroke="#555" stroke-width="1"/>
<line x1="352.40" y1="398.2" x2="352.40" y2="400.7" stroke="#555" stroke-width="0.9"/>
<line x1="425.55" y1="398.2" x2="425.55" y2="400.7" stroke="#555" stroke-width="0.9"/>
<line x1="498.70" y1="398.2" x2="498.70" y2="400.7" stroke="#555" stroke-width="0.9"/>
<text x="351.90" y="408.00" font-size="10.2" text-anchor="middle" textLength="11.20" lengthAdjust="spacingAndGlyphs" >−<tspan font-style="italic">π</tspan></text>
<text x="425.55" y="408.00" font-size="9.0" text-anchor="middle" textLength="5.00" lengthAdjust="spacingAndGlyphs" >0</text>
<text x="498.70" y="408.00" font-size="10.2" text-anchor="middle" textLength="5.20" lengthAdjust="spacingAndGlyphs" font-style="italic" >π</text>
<text x="425.55" y="419.50" font-size="11" text-anchor="middle" textLength="6.60" lengthAdjust="spacingAndGlyphs" font-style="italic" >φ</text>
<line x1="349.9" y1="256.3" x2="352.4" y2="256.3" stroke="#555" stroke-width="0.9"/>
<line x1="349.9" y1="327.4" x2="352.4" y2="327.4" stroke="#555" stroke-width="0.9"/>
<line x1="349.9" y1="398.2" x2="352.4" y2="398.2" stroke="#555" stroke-width="0.9"/>
<clipPath id="hc3"><rect x="513.1" y="256.3" width="134.10" height="141.90"/></clipPath>
<g clip-path="url(#hc3)" fill="none" stroke="none">
<path d="M553.3 398.2M561.4 398.2M582.8 398.2M585.5 398.2M593.6 398.2M604.3 398.2M612.3 398.2M633.8 398.2M556.0 393.1M582.8 393.1M588.2 393.1M612.3 393.1M639.2 393.1M641.8 393.1M644.5 393.1M553.3 388.1M612.3 388.1M617.7 388.1M639.2 388.1M529.2 383.0M545.3 383.0M548.0 383.0M572.1 383.0M612.3 383.0M615.0 383.0M625.7 383.0M633.8 383.0M641.8 383.0M518.5 377.9M521.1 377.9M529.2 377.9M531.9 377.9M534.6 377.9M537.2 377.9M539.9 377.9M548.0 377.9M550.6 377.9M564.1 377.9M582.8 377.9M604.3 377.9M612.3 377.9M617.7 377.9M620.4 377.9M639.2 377.9M647.2 377.9M513.1 372.9M515.8 372.9M545.3 372.9M617.7 372.9M639.2 372.9M515.8 367.8M518.5 367.8M523.8 367.8M531.9 367.8M534.6 367.8M558.7 367.8M561.4 367.8M572.1 367.8M596.2 367.8M620.4 367.8M641.8 367.8M647.2 367.8M518.5 362.7M529.2 362.7M553.3 362.7M558.7 362.7M564.1 362.7M582.8 362.7M585.5 362.7M641.8 362.7M566.7 357.7M577.5 352.6M641.8 352.6M580.2 347.5M639.2 347.5M574.8 342.5M582.8 342.5M609.7 342.5M636.5 342.5M641.8 342.5M644.5 342.5M574.8 337.4M617.7 337.4M647.2 337.4M569.4 332.3M572.1 332.3M574.8 332.3M582.8 332.3M647.2 332.3M572.1 327.2M612.3 327.2M641.8 327.2M647.2 327.2M580.2 322.2M620.4 322.2M641.8 322.2M644.5 322.2M647.2 322.2M569.4 317.1M577.5 317.1M582.8 317.1M617.7 317.1M636.5 317.1M639.2 317.1M647.2 317.1M569.4 312.0M582.8 312.0M615.0 312.0M577.5 307.0M580.2 307.0M615.0 307.0M628.4 307.0M631.1 307.0M639.2 307.0M644.5 307.0M617.7 301.9M620.4 301.9M639.2 301.9M641.8 301.9M644.5 301.9M566.7 296.8M577.5 296.8M647.2 296.8M574.8 291.8M615.0 291.8M617.7 291.8M641.8 291.8M569.4 286.7M580.2 286.7M612.3 286.7M639.2 286.7M572.1 281.6M582.8 281.6M588.2 281.6M617.7 281.6M639.2 281.6M574.8 276.6M617.7 276.6M644.5 276.6M566.7 271.5M569.4 271.5M574.8 271.5M577.5 271.5M588.2 271.5M590.9 271.5M644.5 271.5M566.7 266.4M572.1 266.4M582.8 266.4M588.2 266.4M615.0 266.4M617.7 266.4M639.2 266.4M644.5 266.4M647.2 266.4M566.7 261.4M572.1 261.4M580.2 261.4M615.0 261.4M636.5 261.4M639.2 261.4M644.5 261.4M569.4 256.3M572.1 256.3M577.5 256.3M620.4 256.3M623.1 256.3M639.2 256.3M641.8 256.3M578.8 395.7M586.9 395.7M552.0 390.6M557.4 390.6M576.1 390.6M578.8 390.6M581.5 390.6M584.2 390.6M586.9 390.6M611.0 390.6M613.7 390.6M616.4 390.6M562.7 385.5M581.5 385.5M584.2 385.5M632.4 385.5M640.5 385.5M645.9 385.5M533.2 380.5M584.2 380.5M611.0 380.5M624.4 380.5M627.1 380.5M514.4 375.4M519.8 375.4M576.1 375.4M584.2 375.4M592.2 375.4M611.0 375.4M613.7 375.4M530.5 370.3M538.6 370.3M543.9 370.3M546.6 370.3M554.7 370.3M573.4 370.3M519.8 365.3M530.5 365.3M543.9 365.3M554.7 365.3M560.0 365.3M562.7 365.3M565.4 365.3M576.1 365.3M578.8 365.3M581.5 365.3M584.2 365.3M613.7 365.3M640.5 365.3M645.9 365.3M522.5 360.2M543.9 360.2M565.4 360.2M570.8 360.2M581.5 360.2M640.5 360.2M643.2 360.2M578.8 355.1M584.2 355.1M586.9 355.1M613.7 355.1M627.1 355.1M568.1 350.1M581.5 350.1M616.4 350.1M619.0 350.1M637.8 350.1M568.1 345.0M570.8 345.0M581.5 345.0M584.2 345.0M613.7 345.0M643.2 345.0M570.8 339.9M616.4 339.9M621.7 339.9M629.8 339.9M568.1 334.9M570.8 334.9M573.4 334.9M613.7 334.9M568.1 329.8M570.8 329.8M573.4 329.8M576.1 329.8M581.5 329.8M613.7 329.8M616.4 329.8M637.8 329.8M576.1 324.7M584.2 324.7M640.5 324.7M643.2 324.7M573.4 319.6M616.4 319.6M643.2 319.6M576.1 314.6M581.5 314.6M640.5 314.6M643.2 314.6M573.4 309.5M619.0 309.5M635.1 309.5M645.9 309.5M576.1 304.4M643.2 304.4M645.9 304.4M619.0 299.4M578.8 294.3M613.7 294.3M624.4 294.3M514.4 289.2M581.5 289.2M584.2 289.2M616.4 289.2M629.8 289.2M637.8 289.2M643.2 289.2M584.2 284.2M586.9 284.2M613.7 284.2M645.9 284.2M586.9 279.1M602.9 279.1M613.7 279.1M621.7 279.1M576.1 274.0M586.9 274.0M621.7 274.0M624.4 274.0M629.8 274.0M643.2 274.0M645.9 274.0M568.1 269.0M570.8 269.0M584.2 269.0M586.9 269.0M637.8 269.0M640.5 269.0M643.2 269.0M645.9 269.0M568.1 263.9M576.1 263.9M613.7 263.9M643.2 263.9M645.9 263.9M568.1 258.8M576.1 258.8M581.5 258.8M586.9 258.8M629.8 258.8" marker-start="url(#m0)" marker-mid="url(#m0)" marker-end="url(#m0)"/>
<path d="M588.2 398.2M601.6 398.2M553.3 393.1M590.9 393.1M647.2 393.1M521.1 388.1M593.6 388.1M596.2 388.1M609.7 388.1M644.5 388.1M523.8 383.0M526.5 383.0M531.9 383.0M539.9 383.0M553.3 383.0M577.5 383.0M590.9 383.0M604.3 383.0M523.8 377.9M596.2 377.9M598.9 377.9M518.5 372.9M521.1 372.9M526.5 372.9M529.2 372.9M531.9 372.9M548.0 372.9M550.6 372.9M553.3 372.9M609.7 372.9M612.3 372.9M647.2 372.9M526.5 367.8M539.9 367.8M542.6 367.8M548.0 367.8M577.5 367.8M607.0 367.8M644.5 367.8M515.8 362.7M526.5 362.7M542.6 362.7M548.0 362.7M561.4 362.7M588.2 362.7M604.3 362.7M615.0 362.7M518.5 357.7M569.4 357.7M585.5 357.7M612.3 357.7M623.1 357.7M582.8 352.6M647.2 352.6M574.8 347.5M582.8 347.5M615.0 347.5M566.7 342.5M569.4 342.5M639.2 342.5M569.4 337.4M577.5 337.4M582.8 337.4M612.3 337.4M615.0 337.4M566.7 332.3M585.5 332.3M644.5 332.3M577.5 327.2M644.5 327.2M564.1 322.2M582.8 322.2M574.8 317.1M585.5 317.1M644.5 317.1M572.1 312.0M574.8 312.0M647.2 312.0M620.4 307.0M647.2 307.0M615.0 301.9M647.2 301.9M582.8 296.8M644.5 296.8M580.2 291.8M644.5 291.8M647.2 291.8M644.5 286.7M590.9 281.6M609.7 281.6M612.3 281.6M641.8 281.6M644.5 281.6M641.8 276.6M615.0 271.5M585.5 266.4M612.3 266.4M641.8 266.4M569.4 261.4M574.8 261.4M577.5 261.4M588.2 261.4M647.2 261.4M612.3 256.3M644.5 256.3M647.2 256.3M589.5 395.7M600.3 395.7M605.6 395.7M589.5 390.6M643.2 390.6M514.4 385.5M519.8 380.5M525.2 380.5M527.9 380.5M530.5 380.5M535.9 380.5M541.3 380.5M554.7 380.5M527.9 375.4M533.2 375.4M543.9 375.4M554.7 375.4M586.9 375.4M589.5 375.4M645.9 375.4M514.4 370.3M517.1 370.3M549.3 370.3M552.0 370.3M608.3 370.3M643.2 370.3M517.1 365.3M525.2 365.3M535.9 365.3M538.6 365.3M541.3 365.3M549.3 365.3M557.4 365.3M573.4 365.3M586.9 365.3M525.2 360.2M541.3 360.2M560.0 360.2M586.9 360.2M608.3 360.2M611.0 360.2M616.4 360.2M565.4 355.1M568.1 355.1M570.8 355.1M645.9 355.1M584.2 350.1M643.2 350.1M578.8 345.0M584.2 339.9M613.7 339.9M640.5 339.9M578.8 334.9M584.2 334.9M640.5 334.9M578.8 329.8M611.0 329.8M568.1 324.7M613.7 324.7M578.8 314.6M613.7 314.6M616.4 309.5M581.5 304.4M613.7 299.4M616.4 299.4M645.9 299.4M568.1 294.3M586.9 294.3M643.2 294.3M611.0 289.2M573.4 284.2M592.2 284.2M611.0 284.2M565.4 279.1M592.2 279.1M645.9 279.1M562.7 274.0M568.1 274.0M562.7 269.0M581.5 269.0M573.4 263.9M586.9 263.9M611.0 258.8M613.7 258.8" marker-start="url(#m6)" marker-mid="url(#m6)" marker-end="url(#m6)"/>
<path d="M593.6 393.1M607.0 393.1M588.2 388.1M647.2 388.1M515.8 383.0M521.1 383.0M534.6 383.0M542.6 383.0M644.5 383.0M647.2 383.0M513.1 377.9M526.5 377.9M542.6 377.9M545.3 377.9M534.6 372.9M537.2 372.9M542.6 372.9M590.9 372.9M601.6 372.9M644.5 372.9M529.2 367.8M550.6 367.8M553.3 367.8M588.2 367.8M604.3 367.8M612.3 367.8M521.1 362.7M531.9 362.7M537.2 362.7M539.9 362.7M526.5 357.7M566.7 352.6M585.5 352.6M612.3 352.6M588.2 347.5M612.3 342.5M569.4 327.2M566.7 317.1M569.4 307.0M641.8 307.0M569.4 301.9M641.8 296.8M590.9 291.8M566.7 286.7M564.1 276.6M566.7 276.6M609.7 276.6M609.7 271.5M597.6 395.7M602.9 395.7M611.0 395.7M535.9 390.6M594.9 390.6M645.9 390.6M517.1 385.5M543.9 385.5M589.5 385.5M600.3 385.5M605.6 385.5M514.4 380.5M538.6 380.5M549.3 380.5M592.2 380.5M535.9 375.4M552.0 375.4M608.3 375.4M619.0 375.4M527.9 370.3M533.2 370.3M611.0 370.3M514.4 365.3M527.9 365.3M608.3 365.3M519.8 360.2M530.5 360.2M535.9 360.2M557.4 360.2M611.0 355.1M611.0 345.0M645.9 345.0M573.4 339.9M578.8 339.9M565.4 334.9M586.9 334.9M611.0 334.9M645.9 334.9M645.9 329.8M576.1 319.6M584.2 319.6M613.7 319.6M640.5 319.6M565.4 314.6M616.4 304.4M584.2 299.4M586.9 289.2M605.6 284.2M570.8 279.1M643.2 279.1M589.5 274.0M613.7 274.0M611.0 269.0M589.5 263.9M645.9 258.8" marker-start="url(#m9)" marker-mid="url(#m9)" marker-end="url(#m9)"/>
<path d="M607.0 398.2M545.3 393.1M550.6 393.1M596.2 393.1M545.3 388.1M513.1 383.0M537.2 383.0M550.6 383.0M588.2 383.0M598.9 383.0M593.6 377.9M588.2 372.9M593.6 372.9M513.1 367.8M545.3 367.8M585.5 367.8M609.7 367.8M545.3 362.7M612.3 362.7M542.6 357.7M588.2 342.5M566.7 337.4M566.7 327.2M609.7 327.2M566.7 322.2M612.3 317.1M566.7 312.0M582.8 307.0M574.8 301.9M561.4 291.8M585.5 291.8M612.3 291.8M537.2 286.7M588.2 286.7M609.7 286.7M566.7 281.6M596.2 281.6M598.9 281.6M561.4 266.4M590.9 261.4M612.3 261.4M564.1 256.3M552.0 395.7M608.3 395.7M600.3 390.6M602.9 390.6M519.8 385.5M527.9 385.5M533.2 385.5M552.0 385.5M592.2 385.5M522.5 380.5M589.5 380.5M605.6 380.5M535.9 370.3M600.3 370.3M605.6 370.3M533.2 365.3M611.0 365.3M517.1 360.2M527.9 360.2M552.0 360.2M605.6 360.2M581.5 339.9M645.9 339.9M522.5 319.6M565.4 319.6M570.8 319.6M586.9 319.6M589.5 319.6M560.0 314.6M568.1 309.5M581.5 309.5M613.7 309.5M568.1 304.4M613.7 304.4M568.1 299.4M611.0 299.4M565.4 294.3M562.7 289.2M608.3 284.2M592.2 274.0M565.4 269.0M565.4 263.9M589.5 258.8" marker-start="url(#m11)" marker-mid="url(#m11)" marker-end="url(#m11)"/>
<path d="M550.6 398.2M596.2 398.2M598.9 393.1M604.3 388.1M518.5 383.0M593.6 383.0M596.2 383.0M598.9 372.9M590.9 367.8M513.1 362.7M523.8 362.7M534.6 362.7M598.9 362.7M609.7 362.7M521.1 357.7M537.2 357.7M556.0 357.7M523.8 337.4M615.0 317.1M561.4 312.0M564.1 312.0M612.3 312.0M566.7 301.9M582.8 301.9M612.3 296.8M564.1 286.7M607.0 286.7M564.1 281.6M607.0 281.6M558.7 276.6M519.8 395.7M592.2 395.7M594.9 395.7M519.8 390.6M546.6 390.6M592.2 390.6M597.6 390.6M525.2 385.5M597.6 380.5M522.5 375.4M602.9 375.4M643.2 375.4M538.6 360.2M546.6 360.2M589.5 360.2M538.6 355.1M589.5 355.1M592.2 355.1M608.3 350.1M611.0 350.1M568.1 339.9M584.2 329.8M530.5 319.6M568.1 319.6M568.1 314.6M581.5 299.4M586.9 299.4M584.2 294.3M611.0 294.3M565.4 284.2M568.1 279.1M605.6 279.1M565.4 274.0M594.9 274.0M589.5 269.0M560.0 258.8M565.4 258.8M608.3 258.8" marker-start="url(#m13)" marker-mid="url(#m13)" marker-end="url(#m13)"/>
<path d="M598.9 398.2M609.7 398.2M521.1 393.1M526.5 393.1M601.6 383.0M588.2 377.9M593.6 367.8M590.9 362.7M515.8 357.7M588.2 352.6M564.1 347.5M612.3 347.5M585.5 337.4M607.0 337.4M564.1 332.3M593.6 332.3M585.5 327.2M526.5 322.2M612.3 322.2M585.5 312.0M566.7 307.0M585.5 307.0M515.8 291.8M513.1 281.6M647.2 281.6M590.9 266.4M548.0 261.4M566.7 256.3M590.9 256.3M549.3 390.6M608.3 390.6M538.6 385.5M597.6 385.5M602.9 385.5M608.3 385.5M517.1 380.5M594.9 375.4M600.3 375.4M592.2 370.3M533.2 360.2M549.3 360.2M554.7 360.2M565.4 345.0M608.3 345.0M565.4 324.7M608.3 324.7M586.9 314.6M584.2 309.5M568.1 289.2M602.9 284.2M611.0 274.0M552.0 263.9" marker-start="url(#m15)" marker-mid="url(#m15)" marker-end="url(#m15)"/>
<path d="M518.5 398.2M515.8 393.1M539.9 388.1M542.6 388.1M550.6 388.1M607.0 383.0M601.6 377.9M550.6 362.7M531.9 357.7M553.3 357.7M588.2 357.7M604.3 352.6M609.7 352.6M561.4 347.5M566.7 347.5M609.7 347.5M588.2 337.4M518.5 327.2M588.2 327.2M513.1 322.2M588.2 322.2M609.7 322.2M515.8 317.1M561.4 317.1M609.7 317.1M564.1 307.0M513.1 296.8M515.8 296.8M564.1 291.8M588.2 291.8M604.3 291.8M604.3 281.6M527.9 395.7M514.4 390.6M530.5 390.6M594.9 385.5M602.9 380.5M608.3 380.5M605.6 375.4M602.9 370.3M552.0 355.1M586.9 350.1M522.5 334.9M565.4 329.8M562.7 324.7M562.7 319.6M541.3 314.6M584.2 314.6M565.4 304.4M565.4 299.4M514.4 294.3M517.1 284.2M549.3 284.2M600.3 284.2M535.9 279.1M560.0 279.1M589.5 279.1M597.6 279.1M560.0 269.0M608.3 269.0M562.7 263.9M611.0 263.9M592.2 258.8" marker-start="url(#m16)" marker-mid="url(#m16)" marker-end="url(#m16)"/>
<path d="M523.8 398.2M513.1 393.1M518.5 393.1M515.8 388.1M529.2 388.1M531.9 388.1M590.9 377.9M609.7 377.9M607.0 372.9M596.2 362.7M601.6 362.7M534.6 357.7M539.9 357.7M604.3 357.7M609.7 357.7M564.1 342.5M564.1 337.4M609.7 337.4M564.1 327.2M531.9 317.1M521.1 312.0M612.3 307.0M612.3 301.9M521.1 296.8M566.7 291.8M596.2 291.8M518.5 286.7M596.2 286.7M561.4 276.6M596.2 276.6M564.1 266.4M609.7 266.4M564.1 261.4M561.4 256.3M525.2 395.7M546.6 395.7M527.9 390.6M605.6 390.6M546.6 380.5M594.9 370.3M597.6 370.3M592.2 365.3M602.9 365.3M605.6 365.3M514.4 360.2M522.5 355.1M565.4 350.1M602.9 345.0M565.4 339.9M586.9 339.9M608.3 339.9M605.6 334.9M605.6 329.8M586.9 324.7M605.6 324.7M517.1 319.6M522.5 314.6M514.4 309.5M589.5 289.2M608.3 289.2M541.3 279.1M549.3 279.1M554.7 274.0M602.9 274.0M608.3 274.0M546.6 263.9M592.2 263.9" marker-start="url(#m17)" marker-mid="url(#m17)" marker-end="url(#m17)"/>
<path d="M526.5 398.2M529.2 398.2M531.9 398.2M545.3 398.2M531.9 393.1M548.0 393.1M604.3 393.1M526.5 388.1M558.7 357.7M561.4 357.7M607.0 357.7M585.5 347.5M534.6 342.5M585.5 342.5M521.1 337.4M612.3 332.3M590.9 327.2M513.1 301.9M590.9 286.7M534.6 281.6M601.6 276.6M564.1 271.5M593.6 271.5M607.0 271.5M593.6 261.4M535.9 385.5M541.3 385.5M549.3 385.5M589.5 365.3M608.3 355.1M522.5 350.1M522.5 345.0M546.6 345.0M611.0 339.9M594.9 334.9M608.3 329.8M538.6 324.7M519.8 314.6M611.0 314.6M525.2 309.5M530.5 304.4M514.4 299.4M565.4 289.2M592.2 289.2M602.9 289.2M605.6 289.2M552.0 279.1M594.9 279.1M608.3 279.1M557.4 274.0M605.6 258.8" marker-start="url(#m18)" marker-mid="url(#m18)" marker-end="url(#m18)"/>
<path d="M601.6 388.1M607.0 388.1M607.0 377.9M607.0 362.7M513.1 357.7M545.3 357.7M539.9 352.6M564.1 352.6M518.5 337.4M607.0 332.3M550.6 322.2M513.1 317.1M523.8 317.1M539.9 296.8M564.1 296.8M588.2 296.8M513.1 291.8M529.2 291.8M513.1 286.7M593.6 286.7M604.3 286.7M590.9 276.6M604.3 276.6M607.0 276.6M553.3 271.5M522.5 395.7M543.9 395.7M600.3 380.5M597.6 375.4M600.3 365.3M592.2 360.2M594.9 360.2M602.9 360.2M533.2 355.1M560.0 355.1M594.9 355.1M530.5 350.1M514.4 334.9M562.7 329.8M538.6 314.6M525.2 304.4M584.2 304.4M522.5 299.4M533.2 294.3M608.3 294.3M560.0 284.2M562.7 284.2M597.6 284.2M562.7 279.1M552.0 269.0M592.2 269.0M600.3 269.0M541.3 263.9M552.0 258.8" marker-start="url(#m19)" marker-mid="url(#m19)" marker-end="url(#m19)"/>
<path d="M537.2 398.2M598.9 388.1M523.8 357.7M518.5 352.6M521.1 342.5M598.9 342.5M518.5 332.3M588.2 332.3M531.9 322.2M534.6 317.1M590.9 317.1M604.3 317.1M534.6 312.0M588.2 307.0M531.9 301.9M561.4 301.9M518.5 296.8M521.1 291.8M523.8 291.8M531.9 291.8M609.7 291.8M515.8 286.7M561.4 286.7M513.1 276.6M556.0 276.6M593.6 276.6M607.0 266.4M556.0 256.3M607.0 256.3M609.7 256.3M533.2 390.6M597.6 365.3M543.9 355.1M605.6 355.1M514.4 350.1M557.4 350.1M560.0 350.1M533.2 345.0M525.2 339.9M533.2 339.9M519.8 334.9M589.5 334.9M602.9 334.9M608.3 334.9M541.3 329.8M592.2 324.7M611.0 324.7M605.6 319.6M611.0 319.6M557.4 314.6M562.7 309.5M586.9 309.5M589.5 309.5M517.1 304.4M517.1 294.3M589.5 294.3M600.3 289.2M543.9 284.2M554.7 284.2M594.9 284.2M543.9 279.1M554.7 269.0M557.4 269.0" marker-start="url(#m20)" marker-mid="url(#m20)" marker-end="url(#m20)"/>
<path d="M515.8 398.2M542.6 398.2M548.0 398.2M523.8 393.1M529.2 393.1M539.9 393.1M542.6 393.1M523.8 388.1M537.2 388.1M604.3 372.9M598.9 367.8M593.6 357.7M596.2 357.7M529.2 352.6M550.6 352.6M556.0 352.6M558.7 352.6M518.5 347.5M590.9 347.5M601.6 347.5M539.9 342.5M604.3 342.5M513.1 337.4M590.9 337.4M601.6 337.4M590.9 332.3M604.3 332.3M609.7 332.3M513.1 327.2M526.5 327.2M593.6 327.2M596.2 327.2M607.0 327.2M564.1 317.1M588.2 317.1M529.2 312.0M526.5 307.0M609.7 307.0M534.6 301.9M545.3 301.9M523.8 296.8M537.2 296.8M534.6 291.8M537.2 291.8M539.9 286.7M601.6 286.7M537.2 281.6M556.0 281.6M539.9 276.6M542.6 276.6M548.0 276.6M598.9 276.6M545.3 271.5M601.6 266.4M545.3 261.4M558.7 261.4M607.0 261.4M609.7 261.4M545.3 256.3M596.2 256.3M517.1 395.7M530.5 395.7M535.9 395.7M541.3 395.7M549.3 395.7M525.2 390.6M538.6 390.6M522.5 385.5M530.5 385.5M546.6 385.5M594.9 380.5M527.9 355.1M530.5 355.1M602.9 350.1M514.4 345.0M517.1 345.0M525.2 345.0M605.6 345.0M514.4 339.9M530.5 339.9M589.5 339.9M605.6 339.9M535.9 334.9M557.4 329.8M560.0 329.8M549.3 324.7M589.5 324.7M565.4 309.5M535.9 304.4M525.2 299.4M533.2 299.4M522.5 294.3M560.0 294.3M594.9 294.3M541.3 289.2M594.9 289.2M546.6 284.2M546.6 279.1M600.3 279.1M546.6 269.0M597.6 263.9M608.3 263.9" marker-start="url(#m21)" marker-mid="url(#m21)" marker-end="url(#m21)"/>
<path d="M534.6 393.1M513.1 388.1M548.0 388.1M596.2 372.9M529.2 357.7M590.9 357.7M598.9 357.7M601.6 357.7M593.6 352.6M531.9 347.5M607.0 347.5M515.8 332.3M542.6 332.3M561.4 332.3M596.2 332.3M598.9 327.2M515.8 322.2M590.9 322.2M518.5 312.0M526.5 312.0M529.2 307.0M518.5 301.9M521.1 301.9M564.1 301.9M585.5 301.9M588.2 301.9M609.7 296.8M539.9 291.8M523.8 286.7M529.2 281.6M545.3 281.6M550.6 281.6M604.3 271.5M545.3 266.4M596.2 266.4M561.4 261.4M593.6 256.3M533.2 395.7M541.3 390.6M600.3 360.2M519.8 355.1M525.2 355.1M541.3 355.1M600.3 355.1M562.7 350.1M538.6 345.0M589.5 345.0M592.2 345.0M597.6 345.0M600.3 345.0M525.2 334.9M527.9 334.9M530.5 334.9M514.4 329.8M589.5 329.8M592.2 329.8M514.4 324.7M535.9 324.7M552.0 324.7M527.9 319.6M533.2 319.6M543.9 319.6M527.9 314.6M562.7 314.6M519.8 309.5M522.5 309.5M530.5 309.5M533.2 309.5M611.0 309.5M589.5 299.4M525.2 294.3M562.7 294.3M560.0 289.2M538.6 284.2M538.6 279.1M554.7 279.1M535.9 274.0M560.0 274.0M594.9 263.9M514.4 258.8M549.3 258.8M554.7 258.8M562.7 258.8M600.3 258.8" marker-start="url(#m22)" marker-mid="url(#m22)" marker-end="url(#m22)"/>
<path d="M513.1 398.2M521.1 398.2M534.6 398.2M539.9 398.2M548.0 357.7M515.8 352.6M531.9 352.6M590.9 352.6M598.9 352.6M601.6 352.6M607.0 352.6M513.1 347.5M515.8 342.5M537.2 342.5M550.6 337.4M531.9 327.2M537.2 327.2M550.6 327.2M601.6 327.2M523.8 322.2M529.2 322.2M526.5 317.1M558.7 317.1M513.1 312.0M607.0 307.0M609.7 301.9M545.3 296.8M604.3 296.8M607.0 296.8M558.7 291.8M601.6 291.8M598.9 286.7M531.9 281.6M542.6 271.5M558.7 271.5M561.4 271.5M596.2 271.5M601.6 271.5M558.7 266.4M601.6 261.4M515.8 256.3M531.9 256.3M539.9 256.3M542.6 256.3M550.6 256.3M538.6 395.7M543.9 390.6M517.1 355.1M535.9 355.1M519.8 350.1M592.2 350.1M517.1 339.9M535.9 339.9M602.9 339.9M592.2 334.9M597.6 334.9M533.2 329.8M522.5 324.7M530.5 324.7M543.9 324.7M597.6 324.7M514.4 314.6M530.5 314.6M592.2 314.6M597.6 314.6M608.3 314.6M527.9 309.5M535.9 309.5M541.3 309.5M605.6 304.4M560.0 299.4M519.8 294.3M538.6 294.3M605.6 294.3M522.5 289.2M533.2 279.1M557.4 279.1M546.6 274.0M605.6 274.0M605.6 269.0M549.3 263.9M557.4 263.9" marker-start="url(#m23)" marker-mid="url(#m23)" marker-end="url(#m23)"/>
<path d="M518.5 388.1M534.6 388.1M601.6 367.8M550.6 357.7M545.3 352.6M534.6 347.5M542.6 347.5M558.7 347.5M598.9 347.5M526.5 342.5M607.0 342.5M515.8 337.4M526.5 337.4M531.9 337.4M539.9 337.4M598.9 337.4M604.3 337.4M521.1 332.3M534.6 332.3M545.3 332.3M550.6 332.3M521.1 327.2M534.6 327.2M556.0 327.2M561.4 327.2M518.5 322.2M521.1 322.2M534.6 322.2M537.2 322.2M539.9 322.2M542.6 322.2M561.4 322.2M598.9 322.2M607.0 322.2M545.3 317.1M523.8 312.0M531.9 312.0M553.3 312.0M558.7 312.0M609.7 312.0M513.1 307.0M515.8 307.0M531.9 307.0M558.7 307.0M515.8 301.9M526.5 301.9M556.0 301.9M604.3 301.9M561.4 296.8M593.6 296.8M518.5 291.8M526.5 291.8M529.2 286.7M553.3 286.7M558.7 286.7M518.5 281.6M542.6 281.6M548.0 266.4M593.6 266.4M604.3 266.4M522.5 390.6M597.6 360.2M546.6 355.1M554.7 355.1M602.9 355.1M525.2 350.1M519.8 345.0M527.9 345.0M522.5 339.9M560.0 339.9M594.9 339.9M517.1 334.9M562.7 334.9M517.1 329.8M525.2 329.8M554.7 329.8M594.9 329.8M597.6 329.8M602.9 329.8M525.2 324.7M541.3 324.7M514.4 319.6M525.2 319.6M546.6 319.6M552.0 314.6M514.4 304.4M527.9 304.4M586.9 304.4M517.1 299.4M530.5 299.4M562.7 299.4M535.9 294.3M541.3 294.3M543.9 294.3M517.1 289.2M525.2 289.2M535.9 289.2M552.0 289.2M597.6 289.2M514.4 284.2M552.0 274.0M597.6 274.0M535.9 263.9M517.1 258.8M557.4 258.8M602.9 258.8" marker-start="url(#m24)" marker-mid="url(#m24)" marker-end="url(#m24)"/>
<path d="M523.8 347.5M518.5 342.5M561.4 342.5M593.6 342.5M529.2 337.4M537.2 337.4M596.2 337.4M513.1 332.3M529.2 332.3M598.9 332.3M604.3 327.2M545.3 322.2M556.0 322.2M593.6 322.2M596.2 322.2M518.5 317.1M521.1 317.1M529.2 317.1M607.0 317.1M521.1 307.0M561.4 307.0M523.8 301.9M537.2 301.9M558.7 296.8M545.3 291.8M553.3 291.8M531.9 286.7M550.6 286.7M556.0 286.7M515.8 281.6M561.4 281.6M545.3 276.6M556.0 271.5M550.6 266.4M553.3 266.4M604.3 261.4M521.1 256.3M548.0 256.3M558.7 256.3M598.9 256.3M601.6 256.3M517.1 390.6M594.9 365.3M562.7 355.1M517.1 350.1M533.2 350.1M552.0 350.1M535.9 345.0M594.9 345.0M538.6 339.9M554.7 334.9M557.4 334.9M530.5 329.8M549.3 329.8M517.1 324.7M527.9 324.7M533.2 324.7M519.8 319.6M549.3 319.6M525.2 314.6M543.9 314.6M538.6 309.5M562.7 304.4M589.5 304.4M611.0 304.4M527.9 299.4M557.4 294.3M530.5 284.2M533.2 284.2M538.6 274.0M543.9 274.0M546.6 258.8M597.6 258.8" marker-start="url(#m25)" marker-mid="url(#m25)" marker-end="url(#m25)"/>
<path d="M537.2 352.6M521.1 347.5M537.2 347.5M513.1 342.5M523.8 342.5M590.9 342.5M596.2 342.5M534.6 337.4M593.6 337.4M548.0 332.3M529.2 327.2M601.6 322.2M542.6 317.1M556.0 317.1M539.9 312.0M518.5 307.0M537.2 307.0M590.9 307.0M593.6 301.9M598.9 301.9M531.9 296.8M556.0 296.8M585.5 296.8M593.6 291.8M607.0 291.8M523.8 281.6M601.6 281.6M515.8 276.6M550.6 276.6M598.9 271.5M542.6 261.4M553.3 261.4M518.5 256.3M537.2 256.3M553.3 256.3M604.3 256.3M535.9 350.1M594.9 350.1M605.6 350.1M530.5 345.0M557.4 345.0M560.0 345.0M592.2 339.9M600.3 339.9M541.3 334.9M552.0 334.9M600.3 334.9M527.9 329.8M560.0 324.7M594.9 324.7M560.0 319.6M602.9 319.6M519.8 304.4M543.9 304.4M557.4 304.4M538.6 299.4M557.4 299.4M608.3 299.4M530.5 294.3M546.6 294.3M549.3 294.3M600.3 294.3M519.8 289.2M549.3 289.2M554.7 289.2M519.8 284.2M535.9 284.2M557.4 284.2M517.1 279.1M519.8 279.1M600.3 274.0M560.0 263.9M538.6 258.8M541.3 258.8M594.9 258.8" marker-start="url(#m26)" marker-mid="url(#m26)" marker-end="url(#m26)"/>
<path d="M526.5 352.6M542.6 352.6M561.4 352.6M526.5 347.5M545.3 347.5M548.0 347.5M596.2 347.5M529.2 342.5M542.6 337.4M545.3 337.4M526.5 332.3M537.2 332.3M523.8 327.2M548.0 327.2M553.3 327.2M558.7 327.2M548.0 322.2M558.7 322.2M515.8 312.0M542.6 312.0M553.3 307.0M556.0 307.0M529.2 301.9M539.9 301.9M558.7 301.9M590.9 296.8M548.0 291.8M556.0 291.8M534.6 286.7M548.0 286.7M521.1 281.6M548.0 281.6M558.7 281.6M553.3 276.6M515.8 271.5M548.0 271.5M539.9 266.4M556.0 261.4M513.1 256.3M514.4 395.7M597.6 355.1M527.9 350.1M538.6 350.1M589.5 350.1M541.3 345.0M549.3 345.0M562.7 345.0M527.9 339.9M543.9 339.9M538.6 329.8M552.0 329.8M600.3 329.8M519.8 324.7M546.6 324.7M557.4 324.7M535.9 319.6M554.7 319.6M594.9 319.6M535.9 314.6M594.9 309.5M538.6 304.4M600.3 299.4M527.9 294.3M546.6 289.2M522.5 284.2M527.9 284.2M549.3 274.0M543.9 269.0M549.3 269.0M594.9 269.0M597.6 269.0M543.9 263.9M530.5 258.8M543.9 258.8" marker-start="url(#m27)" marker-mid="url(#m27)" marker-end="url(#m27)"/>
<path d="M537.2 393.1M513.1 352.6M521.1 352.6M534.6 352.6M515.8 347.5M539.9 347.5M604.3 347.5M531.9 342.5M542.6 342.5M553.3 342.5M539.9 332.3M515.8 327.2M539.9 327.2M542.6 327.2M604.3 322.2M548.0 317.1M545.3 312.0M556.0 312.0M588.2 312.0M523.8 307.0M534.6 307.0M526.5 296.8M534.6 296.8M553.3 296.8M598.9 296.8M542.6 291.8M550.6 291.8M542.6 286.7M545.3 286.7M550.6 271.5M537.2 266.4M542.6 266.4M556.0 266.4M598.9 266.4M534.6 256.3M549.3 355.1M557.4 355.1M541.3 350.1M546.6 350.1M554.7 350.1M519.8 339.9M562.7 339.9M597.6 339.9M533.2 334.9M538.6 334.9M546.6 334.9M602.9 324.7M541.3 319.6M557.4 319.6M600.3 319.6M608.3 319.6M533.2 314.6M546.6 314.6M589.5 314.6M602.9 314.6M517.1 309.5M546.6 309.5M549.3 309.5M560.0 309.5M608.3 309.5M533.2 304.4M554.7 304.4M602.9 304.4M608.3 304.4M519.8 299.4M535.9 299.4M546.6 299.4M597.6 294.3M602.9 294.3M538.6 289.2M557.4 289.2M527.9 279.1M514.4 274.0M541.3 274.0M538.6 263.9M554.7 263.9M602.9 263.9" marker-start="url(#m28)" marker-mid="url(#m28)" marker-end="url(#m28)"/>
<path d="M548.0 352.6M553.3 352.6M556.0 347.5M558.7 337.4M561.4 337.4M523.8 332.3M531.9 332.3M558.7 332.3M601.6 332.3M545.3 327.2M553.3 322.2M537.2 317.1M539.9 317.1M550.6 317.1M596.2 317.1M537.2 312.0M548.0 312.0M604.3 312.0M539.9 307.0M550.6 307.0M604.3 307.0M548.0 301.9M590.9 301.9M601.6 301.9M607.0 301.9M596.2 296.8M598.9 291.8M526.5 286.7M526.5 276.6M539.9 271.5M513.1 261.4M515.8 261.4M537.2 261.4M596.2 261.4M598.9 261.4M523.8 256.3M543.9 345.0M543.9 334.9M549.3 334.9M522.5 329.8M535.9 329.8M543.9 329.8M600.3 324.7M597.6 319.6M554.7 314.6M600.3 309.5M600.3 304.4M592.2 299.4M533.2 289.2M543.9 289.2M525.2 284.2M541.3 284.2M552.0 284.2M514.4 279.1M527.9 274.0M602.9 269.0" marker-start="url(#m29)" marker-mid="url(#m29)" marker-end="url(#m29)"/>
<path d="M523.8 352.6M556.0 342.5M601.6 342.5M553.3 337.4M556.0 332.3M601.6 317.1M590.9 312.0M542.6 307.0M542.6 296.8M539.9 281.6M531.9 276.6M537.2 276.6M539.9 261.4M550.6 261.4M543.9 350.1M600.3 350.1M552.0 345.0M541.3 339.9M554.7 339.9M560.0 334.9M519.8 329.8M538.6 319.6M549.3 314.6M605.6 314.6M560.0 304.4M592.2 304.4M597.6 299.4M602.9 299.4M605.6 299.4M527.9 289.2M530.5 289.2M530.5 279.1M517.1 274.0M514.4 269.0" marker-start="url(#m30)" marker-mid="url(#m30)" marker-end="url(#m30)"/>
<path d="M596.2 352.6M593.6 347.5M556.0 337.4M553.3 332.3M593.6 317.1M598.9 317.1M545.3 307.0M550.6 301.9M596.2 301.9M521.1 286.7M526.5 281.6M553.3 281.6M529.2 276.6M513.1 271.5M537.2 271.5M518.5 261.4M531.9 261.4M597.6 350.1M546.6 339.9M549.3 339.9M546.6 329.8M552.0 319.6M592.2 319.6M517.1 314.6M543.9 309.5M557.4 309.5M597.6 309.5M605.6 309.5M541.3 304.4M549.3 304.4M541.3 299.4M549.3 299.4M594.9 299.4M552.0 294.3M522.5 279.1M538.6 269.0M600.3 263.9M605.6 263.9M535.9 258.8" marker-start="url(#m31)" marker-mid="url(#m31)" marker-end="url(#m31)"/>
<path d="M529.2 347.5M553.3 317.1M593.6 312.0M601.6 312.0M598.9 307.0M529.2 296.8M601.6 296.8M531.9 271.5M534.6 271.5M549.3 350.1M552.0 339.9M554.7 309.5M592.2 309.5M522.5 304.4M543.9 299.4M554.7 299.4M554.7 294.3M519.8 274.0M530.5 274.0M533.2 274.0M533.2 269.0M541.3 269.0" marker-start="url(#m32)" marker-mid="url(#m32)" marker-end="url(#m32)"/>
<path d="M550.6 347.5M550.6 342.5M548.0 337.4M550.6 312.0M593.6 307.0M596.2 307.0M553.3 301.9M550.6 296.8M521.1 276.6M523.8 276.6M534.6 276.6M526.5 271.5M531.9 266.4M534.6 266.4M534.6 261.4M557.4 339.9M554.7 324.7M602.9 309.5M546.6 304.4M597.6 304.4M592.2 294.3M522.5 274.0M530.5 269.0M514.4 263.9M533.2 258.8" marker-start="url(#m33)" marker-mid="url(#m33)" marker-end="url(#m33)"/>
<path d="M553.3 347.5M598.9 312.0M548.0 307.0M542.6 301.9M548.0 296.8M529.2 261.4M526.5 256.3M514.4 355.1M552.0 309.5M525.2 274.0M517.1 269.0M519.8 269.0M535.9 269.0M533.2 263.9M519.8 258.8" marker-start="url(#m34)" marker-mid="url(#m34)" marker-end="url(#m34)"/>
<path d="M545.3 342.5M548.0 342.5M596.2 312.0M521.1 266.4M526.5 266.4M521.1 261.4M526.5 261.4M529.2 256.3M594.9 314.6M552.0 304.4M552.0 299.4M527.9 263.9" marker-start="url(#m35)" marker-mid="url(#m35)" marker-end="url(#m35)"/>
<path d="M558.7 342.5M607.0 312.0M518.5 276.6M529.2 266.4M554.7 345.0M600.3 314.6M525.2 279.1M522.5 269.0M527.9 258.8" marker-start="url(#m36)" marker-mid="url(#m36)" marker-end="url(#m36)"/>
<path d="M513.1 266.4M518.5 266.4M594.9 304.4M525.2 269.0M525.2 258.8" marker-start="url(#m37)" marker-mid="url(#m37)" marker-end="url(#m37)"/>
<path d="M601.6 307.0M521.1 271.5M529.2 271.5M519.8 263.9M522.5 263.9" marker-start="url(#m38)" marker-mid="url(#m38)" marker-end="url(#m38)"/>
<path d="M518.5 271.5M523.8 271.5M530.5 263.9" marker-start="url(#m39)" marker-mid="url(#m39)" marker-end="url(#m39)"/>
<path d="M515.8 266.4M523.8 266.4M523.8 261.4M527.9 269.0M517.1 263.9M525.2 263.9M522.5 258.8" marker-start="url(#m40)" marker-mid="url(#m40)" marker-end="url(#m40)"/>
</g>
<line x1="580.15" y1="256.3" x2="580.15" y2="398.2" stroke="#000" stroke-width="0.9" stroke-dasharray="3.4 1.5"/>
<line x1="513.1" y1="327.4" x2="647.2" y2="327.4" stroke="#000" stroke-width="0.9" stroke-dasharray="3.4 1.5"/>
<rect x="513.10" y="256.3" width="134.10" height="141.90" fill="none" stroke="#555" stroke-width="1"/>
<line x1="513.10" y1="398.2" x2="513.10" y2="400.7" stroke="#555" stroke-width="0.9"/>
<line x1="580.15" y1="398.2" x2="580.15" y2="400.7" stroke="#555" stroke-width="0.9"/>
<line x1="647.20" y1="398.2" x2="647.20" y2="400.7" stroke="#555" stroke-width="0.9"/>
<text x="512.60" y="408.00" font-size="10.2" text-anchor="middle" textLength="11.20" lengthAdjust="spacingAndGlyphs" >−<tspan font-style="italic">π</tspan></text>
<text x="580.15" y="408.00" font-size="9.0" text-anchor="middle" textLength="5.00" lengthAdjust="spacingAndGlyphs" >0</text>
<text x="647.20" y="408.00" font-size="10.2" text-anchor="middle" textLength="5.20" lengthAdjust="spacingAndGlyphs" font-style="italic" >π</text>
<text x="580.15" y="419.50" font-size="11" text-anchor="middle" textLength="6.60" lengthAdjust="spacingAndGlyphs" font-style="italic" >φ</text>
<line x1="510.6" y1="256.3" x2="513.1" y2="256.3" stroke="#555" stroke-width="0.9"/>
<line x1="510.6" y1="327.4" x2="513.1" y2="327.4" stroke="#555" stroke-width="0.9"/>
<line x1="510.6" y1="398.2" x2="513.1" y2="398.2" stroke="#555" stroke-width="0.9"/>
<text x="104.70" y="253.40" font-size="10.2" text-anchor="middle" textLength="45.10" lengthAdjust="spacingAndGlyphs" ><tspan font-style="italic">T</tspan> = 300 K</text>
<text x="265.00" y="253.40" font-size="10.2" text-anchor="middle" textLength="44.90" lengthAdjust="spacingAndGlyphs" ><tspan font-style="italic">T</tspan> = 600 K</text>
<text x="425.55" y="253.40" font-size="10.2" text-anchor="middle" textLength="51.10" lengthAdjust="spacingAndGlyphs" ><tspan font-style="italic">T</tspan> = 1200 K</text>
<text x="580.15" y="253.40" font-size="10.2" text-anchor="middle" textLength="125.60" lengthAdjust="spacingAndGlyphs" ><tspan font-style="italic">T</tspan> = 300 K, τ = 0.25, w/o. H</text>
<linearGradient id="cbg" x1="0" y1="1" x2="0" y2="0">
<stop offset="0.000" stop-color="#000004"/>
<stop offset="0.050" stop-color="#07051b"/>
<stop offset="0.100" stop-color="#160b39"/>
<stop offset="0.150" stop-color="#2b0b57"/>
<stop offset="0.200" stop-color="#420a68"/>
<stop offset="0.250" stop-color="#57106e"/>
<stop offset="0.300" stop-color="#6a176e"/>
<stop offset="0.350" stop-color="#7f1e6c"/>
<stop offset="0.400" stop-color="#932667"/>
<stop offset="0.450" stop-color="#a82e5f"/>
<stop offset="0.500" stop-color="#bc3754"/>
<stop offset="0.550" stop-color="#cc4248"/>
<stop offset="0.600" stop-color="#dd513a"/>
<stop offset="0.650" stop-color="#ea632a"/>
<stop offset="0.700" stop-color="#f37819"/>
<stop offset="0.750" stop-color="#f98e09"/>
<stop offset="0.800" stop-color="#fca50a"/>
<stop offset="0.850" stop-color="#fbbe23"/>
<stop offset="0.900" stop-color="#f6d746"/>
<stop offset="0.950" stop-color="#f1ef75"/>
<stop offset="1.000" stop-color="#fcffa4"/>
</linearGradient>
<rect x="652.2" y="256.3" width="6.70" height="141.90" fill="url(#cbg)" stroke="#555" stroke-width="0.8"/>
<line x1="658.9" y1="398.2" x2="661.5" y2="398.2" stroke="#555" stroke-width="0.9"/>
<text x="662.60" y="401.80" font-size="9.0" >10<tspan dy="-3.6" font-size="6.5">0</tspan></text>
<line x1="658.9" y1="330.7" x2="661.5" y2="330.7" stroke="#555" stroke-width="0.9"/>
<text x="662.60" y="334.30" font-size="9.0" >10<tspan dy="-3.6" font-size="6.5">1</tspan></text>
<line x1="658.9" y1="263.2" x2="661.5" y2="263.2" stroke="#555" stroke-width="0.9"/>
<text x="662.60" y="266.80" font-size="9.0" >10<tspan dy="-3.6" font-size="6.5">2</tspan></text>
<line x1="658.9" y1="377.88" x2="660.4" y2="377.88" stroke="#777" stroke-width="0.6"/>
<line x1="658.9" y1="365.99" x2="660.4" y2="365.99" stroke="#777" stroke-width="0.6"/>
<line x1="658.9" y1="357.56" x2="660.4" y2="357.56" stroke="#777" stroke-width="0.6"/>
<line x1="658.9" y1="351.02" x2="660.4" y2="351.02" stroke="#777" stroke-width="0.6"/>
<line x1="658.9" y1="345.67" x2="660.4" y2="345.67" stroke="#777" stroke-width="0.6"/>
<line x1="658.9" y1="341.16" x2="660.4" y2="341.16" stroke="#777" stroke-width="0.6"/>
<line x1="658.9" y1="337.24" x2="660.4" y2="337.24" stroke="#777" stroke-width="0.6"/>
<line x1="658.9" y1="333.79" x2="660.4" y2="333.79" stroke="#777" stroke-width="0.6"/>
<line x1="658.9" y1="310.38" x2="660.4" y2="310.38" stroke="#777" stroke-width="0.6"/>
<line x1="658.9" y1="298.49" x2="660.4" y2="298.49" stroke="#777" stroke-width="0.6"/>
<line x1="658.9" y1="290.06" x2="660.4" y2="290.06" stroke="#777" stroke-width="0.6"/>
<line x1="658.9" y1="283.52" x2="660.4" y2="283.52" stroke="#777" stroke-width="0.6"/>
<line x1="658.9" y1="278.17" x2="660.4" y2="278.17" stroke="#777" stroke-width="0.6"/>
<line x1="658.9" y1="273.66" x2="660.4" y2="273.66" stroke="#777" stroke-width="0.6"/>
<line x1="658.9" y1="269.74" x2="660.4" y2="269.74" stroke="#777" stroke-width="0.6"/>
<line x1="658.9" y1="266.29" x2="660.4" y2="266.29" stroke="#777" stroke-width="0.6"/>
<text x="686.00" y="342.30" font-size="10.2" textLength="30.40" lengthAdjust="spacingAndGlyphs" transform="rotate(-90 686.00 342.30)" >Counts</text>
</svg>
</body></html>
